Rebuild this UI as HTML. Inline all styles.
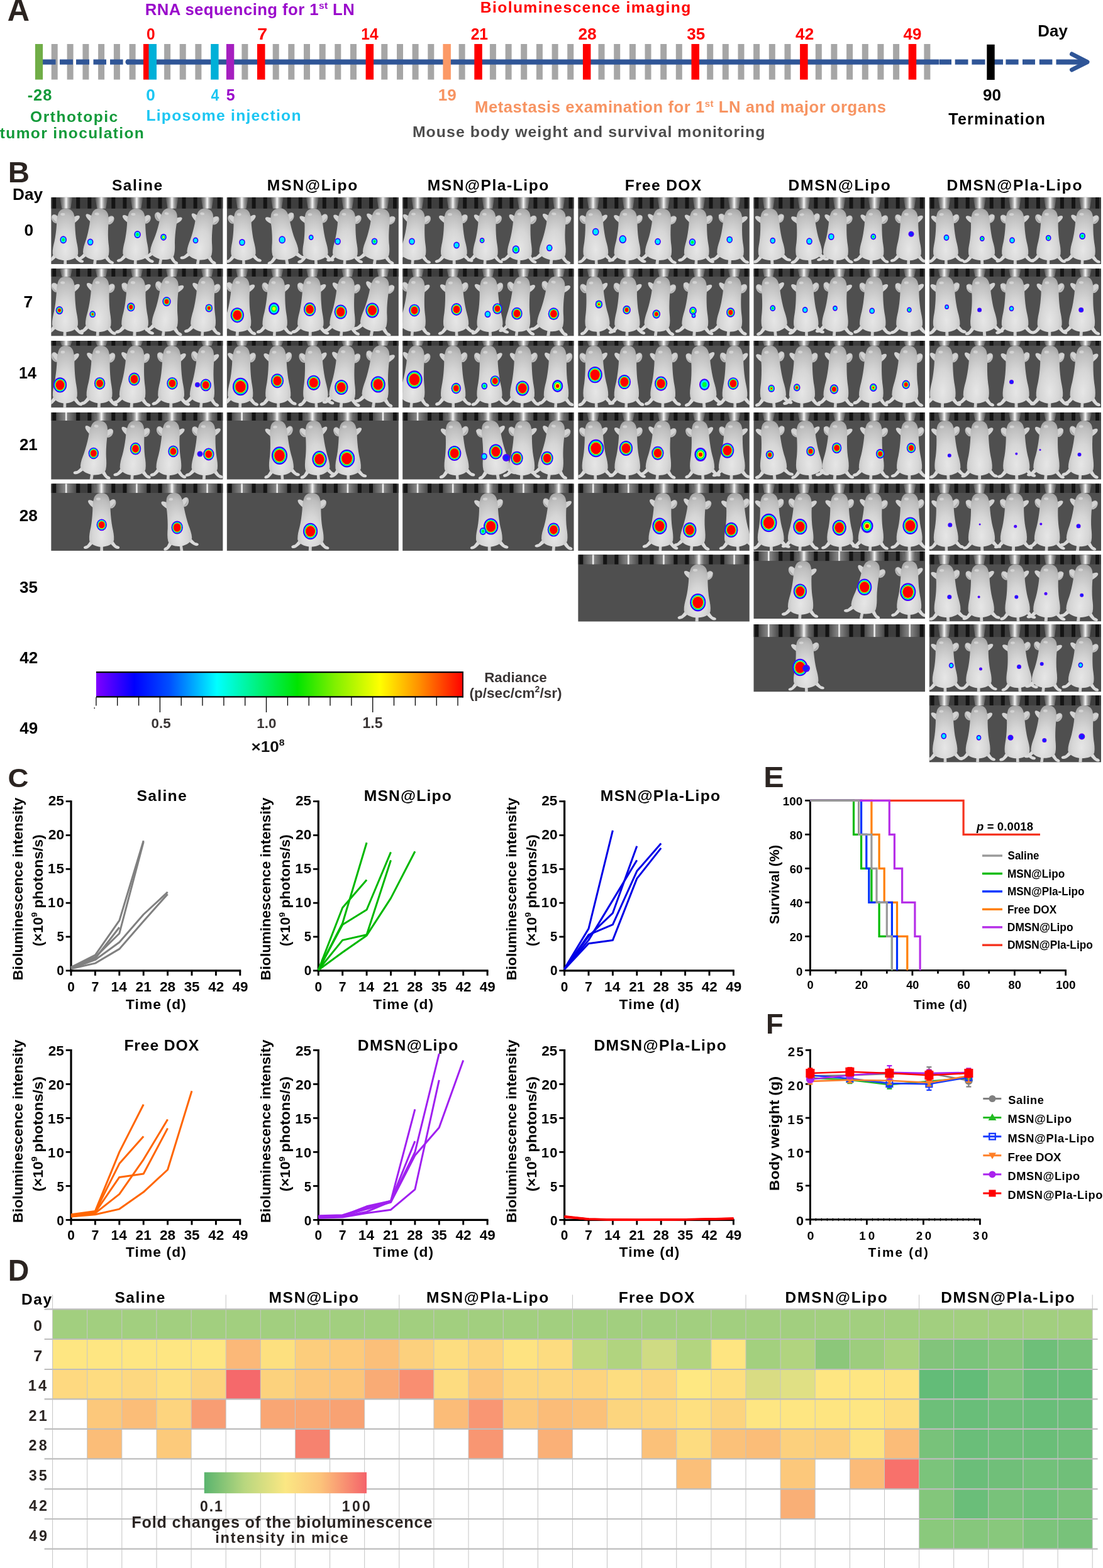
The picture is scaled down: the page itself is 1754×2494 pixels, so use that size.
<!DOCTYPE html>
<html><head><meta charset="utf-8"><title>Figure</title>
<style>
html,body{margin:0;padding:0;background:#fff;}
svg{display:block;}
text{font-family:'Liberation Sans', Arial, sans-serif;}
</style></head>
<body>
<svg width="1754" height="2494" viewBox="0 0 1754 2494">
<rect x="0" y="0" width="1754" height="2494" fill="#fff"/>
<text x="11.78" y="33.00" font-size="49.28" fill="#2b2421" font-weight="bold" textLength="35.31" lengthAdjust="spacingAndGlyphs">A</text>
<rect x="81.7" y="70.0" width="10.0" height="56.6" fill="#a6a6a6"/>
<rect x="106.6" y="70.0" width="10.0" height="56.6" fill="#a6a6a6"/>
<rect x="131.4" y="70.0" width="10.0" height="56.6" fill="#a6a6a6"/>
<rect x="156.1" y="70.0" width="10.0" height="56.6" fill="#a6a6a6"/>
<rect x="180.9" y="70.0" width="10.0" height="56.6" fill="#a6a6a6"/>
<rect x="205.6" y="70.0" width="10.0" height="56.6" fill="#a6a6a6"/>
<rect x="261.1" y="70.0" width="10.0" height="56.6" fill="#a6a6a6"/>
<rect x="285.7" y="70.0" width="10.0" height="56.6" fill="#a6a6a6"/>
<rect x="310.4" y="70.0" width="10.0" height="56.6" fill="#a6a6a6"/>
<rect x="384.4" y="70.0" width="10.0" height="56.6" fill="#a6a6a6"/>
<rect x="433.7" y="70.0" width="10.0" height="56.6" fill="#a6a6a6"/>
<rect x="458.3" y="70.0" width="10.0" height="56.6" fill="#a6a6a6"/>
<rect x="483.0" y="70.0" width="10.0" height="56.6" fill="#a6a6a6"/>
<rect x="507.7" y="70.0" width="10.0" height="56.6" fill="#a6a6a6"/>
<rect x="532.3" y="70.0" width="10.0" height="56.6" fill="#a6a6a6"/>
<rect x="557.0" y="70.0" width="10.0" height="56.6" fill="#a6a6a6"/>
<rect x="606.3" y="70.0" width="10.0" height="56.6" fill="#a6a6a6"/>
<rect x="631.0" y="70.0" width="10.0" height="56.6" fill="#a6a6a6"/>
<rect x="655.6" y="70.0" width="10.0" height="56.6" fill="#a6a6a6"/>
<rect x="680.3" y="70.0" width="10.0" height="56.6" fill="#a6a6a6"/>
<rect x="729.6" y="70.0" width="10.0" height="56.6" fill="#a6a6a6"/>
<rect x="778.9" y="70.0" width="10.0" height="56.6" fill="#a6a6a6"/>
<rect x="803.6" y="70.0" width="10.0" height="56.6" fill="#a6a6a6"/>
<rect x="828.2" y="70.0" width="10.0" height="56.6" fill="#a6a6a6"/>
<rect x="852.9" y="70.0" width="10.0" height="56.6" fill="#a6a6a6"/>
<rect x="877.6" y="70.0" width="10.0" height="56.6" fill="#a6a6a6"/>
<rect x="902.2" y="70.0" width="10.0" height="56.6" fill="#a6a6a6"/>
<rect x="951.5" y="70.0" width="10.0" height="56.6" fill="#a6a6a6"/>
<rect x="976.2" y="70.0" width="10.0" height="56.6" fill="#a6a6a6"/>
<rect x="1000.9" y="70.0" width="10.0" height="56.6" fill="#a6a6a6"/>
<rect x="1025.5" y="70.0" width="10.0" height="56.6" fill="#a6a6a6"/>
<rect x="1050.2" y="70.0" width="10.0" height="56.6" fill="#a6a6a6"/>
<rect x="1074.8" y="70.0" width="10.0" height="56.6" fill="#a6a6a6"/>
<rect x="1124.2" y="70.0" width="10.0" height="56.6" fill="#a6a6a6"/>
<rect x="1148.8" y="70.0" width="10.0" height="56.6" fill="#a6a6a6"/>
<rect x="1173.5" y="70.0" width="10.0" height="56.6" fill="#a6a6a6"/>
<rect x="1198.1" y="70.0" width="10.0" height="56.6" fill="#a6a6a6"/>
<rect x="1222.8" y="70.0" width="10.0" height="56.6" fill="#a6a6a6"/>
<rect x="1247.5" y="70.0" width="10.0" height="56.6" fill="#a6a6a6"/>
<rect x="1296.8" y="70.0" width="10.0" height="56.6" fill="#a6a6a6"/>
<rect x="1321.4" y="70.0" width="10.0" height="56.6" fill="#a6a6a6"/>
<rect x="1346.1" y="70.0" width="10.0" height="56.6" fill="#a6a6a6"/>
<rect x="1370.8" y="70.0" width="10.0" height="56.6" fill="#a6a6a6"/>
<rect x="1395.4" y="70.0" width="10.0" height="56.6" fill="#a6a6a6"/>
<rect x="1420.1" y="70.0" width="10.0" height="56.6" fill="#a6a6a6"/>
<rect x="1469.4" y="70.0" width="10.0" height="56.6" fill="#a6a6a6"/>
<rect x="68.0" y="94.5" width="20.5" height="8.2" fill="#2f5597"/>
<rect x="95.0" y="94.5" width="21.0" height="8.2" fill="#2f5597"/>
<rect x="121.0" y="94.5" width="21.0" height="8.2" fill="#2f5597"/>
<rect x="148.5" y="94.5" width="20.5" height="8.2" fill="#2f5597"/>
<rect x="175.0" y="94.5" width="20.6" height="8.2" fill="#2f5597"/>
<rect x="201.6" y="94.5" width="1291.8" height="8.2" fill="#2f5597"/>
<circle cx="203.6" cy="98.6" r="4.1" fill="#2f5597"/>
<rect x="1494.0" y="94.5" width="19.0" height="8.2" fill="#2f5597"/>
<rect x="1518.7" y="94.5" width="20.8" height="8.2" fill="#2f5597"/>
<rect x="1545.4" y="94.5" width="21.1" height="8.2" fill="#2f5597"/>
<rect x="1581.0" y="94.5" width="14.0" height="8.2" fill="#2f5597"/>
<rect x="1599.4" y="94.5" width="20.2" height="8.2" fill="#2f5597"/>
<rect x="1626.0" y="94.5" width="20.0" height="8.2" fill="#2f5597"/>
<rect x="1652.8" y="94.5" width="20.6" height="8.2" fill="#2f5597"/>
<rect x="1679.5" y="94.5" width="19.7" height="8.2" fill="#2f5597"/>
<rect x="1699.0" y="94.5" width="26.0" height="8.2" fill="#2f5597"/>
<path d="M1704.5,86 L1729,98.6 L1704.5,111" fill="none" stroke="#2f5597" stroke-width="7" stroke-linecap="round" stroke-linejoin="round"/>
<rect x="55.9" y="70.0" width="12.2" height="56.6" fill="#70ad47"/>
<rect x="228.0" y="70.0" width="9.0" height="56.6" fill="#ff0000"/>
<rect x="236.5" y="70.0" width="12.5" height="56.6" fill="#00b0d8"/>
<rect x="335.2" y="70.0" width="12.4" height="56.6" fill="#00b0d8"/>
<rect x="359.9" y="70.0" width="12.4" height="56.6" fill="#a51fbf"/>
<rect x="409.0" y="70.0" width="12.5" height="56.6" fill="#ff0000"/>
<rect x="581.6" y="70.0" width="12.5" height="56.6" fill="#ff0000"/>
<rect x="754.3" y="70.0" width="12.5" height="56.6" fill="#ff0000"/>
<rect x="926.9" y="70.0" width="12.5" height="56.6" fill="#ff0000"/>
<rect x="1099.5" y="70.0" width="12.5" height="56.6" fill="#ff0000"/>
<rect x="1272.1" y="70.0" width="12.5" height="56.6" fill="#ff0000"/>
<rect x="1444.7" y="70.0" width="12.5" height="56.6" fill="#ff0000"/>
<rect x="704.4" y="70.0" width="12.5" height="56.6" fill="#fc9966"/>
<rect x="1569.3" y="70.8" width="12.4" height="56.2" fill="#000"/>
<text x="230.8" y="23.8" font-size="25.7" fill="#9a0acb" font-weight="bold" textLength="333" lengthAdjust="spacing">RNA sequencing for 1<tspan font-size="15.5" dy="-9.5">st</tspan><tspan dy="9.5"> LN</tspan></text>
<text x="763.80" y="19.90" font-size="24.69" fill="#ff0000" font-weight="bold" textLength="334.55" lengthAdjust="spacing">Bioluminescence imaging</text>
<text x="233.04" y="63.00" font-size="25.86" fill="#ff0000" font-weight="bold" textLength="13.65" lengthAdjust="spacingAndGlyphs">0</text>
<text x="409.25" y="63.00" font-size="26.23" fill="#ff0000" font-weight="bold" textLength="15.92" lengthAdjust="spacingAndGlyphs">7</text>
<text x="574.22" y="63.00" font-size="26.23" fill="#ff0000" font-weight="bold" textLength="27.44" lengthAdjust="spacingAndGlyphs">14</text>
<text x="748.66" y="63.00" font-size="25.86" fill="#ff0000" font-weight="bold" textLength="27.41" lengthAdjust="spacingAndGlyphs">21</text>
<text x="919.51" y="63.00" font-size="25.86" fill="#ff0000" font-weight="bold" textLength="29.21" lengthAdjust="spacingAndGlyphs">28</text>
<text x="1092.28" y="63.00" font-size="25.86" fill="#ff0000" font-weight="bold" textLength="28.93" lengthAdjust="spacingAndGlyphs">35</text>
<text x="1265.11" y="63.00" font-size="25.86" fill="#ff0000" font-weight="bold" textLength="29.07" lengthAdjust="spacingAndGlyphs">42</text>
<text x="1436.61" y="63.00" font-size="25.86" fill="#ff0000" font-weight="bold" textLength="28.86" lengthAdjust="spacingAndGlyphs">49</text>
<text x="1650.32" y="58.20" font-size="25.51" fill="#000" font-weight="bold" textLength="47.47" lengthAdjust="spacingAndGlyphs">Day</text>
<text x="43.71" y="160.20" font-size="25.43" fill="#139a3a" font-weight="bold" textLength="38.64" lengthAdjust="spacing">-28</text>
<text x="232.38" y="160.20" font-size="25.43" fill="#1cc6f2" font-weight="bold" textLength="14.56" lengthAdjust="spacingAndGlyphs">0</text>
<text x="335.45" y="160.20" font-size="25.80" fill="#1cc6f2" font-weight="bold" textLength="12.87" lengthAdjust="spacingAndGlyphs">4</text>
<text x="359.75" y="160.20" font-size="25.80" fill="#9a0acb" font-weight="bold" textLength="13.90" lengthAdjust="spacingAndGlyphs">5</text>
<text x="696.83" y="160.10" font-size="25.57" fill="#f79462" font-weight="bold" textLength="29.04" lengthAdjust="spacingAndGlyphs">19</text>
<text x="1562.92" y="160.00" font-size="25.57" fill="#000" font-weight="bold" textLength="28.95" lengthAdjust="spacingAndGlyphs">90</text>
<text x="48.02" y="194.40" font-size="24.55" fill="#139a3a" font-weight="bold" textLength="139.21" lengthAdjust="spacing">Orthotopic</text>
<text x="-0.25" y="219.70" font-size="24.55" fill="#139a3a" font-weight="bold" textLength="228.99" lengthAdjust="spacing">tumor inoculation</text>
<text x="232.40" y="191.80" font-size="24.69" fill="#1cc6f2" font-weight="bold" textLength="246.13" lengthAdjust="spacing">Liposome injection</text>
<text x="755" y="179.2" font-size="25.6" fill="#f79462" font-weight="bold" textLength="654" lengthAdjust="spacing">Metastasis examination for 1<tspan font-size="15" dy="-9.5">st</tspan><tspan dy="9.5"> LN and major organs</tspan></text>
<text x="655.89" y="217.80" font-size="24.83" fill="#4d4d4d" font-weight="bold" textLength="560.55" lengthAdjust="spacing">Mouse body weight and survival monitoring</text>
<text x="1508.35" y="197.50" font-size="25.10" fill="#000" font-weight="bold" textLength="153.42" lengthAdjust="spacing">Termination</text>
<text x="12.71" y="289.60" font-size="46.23" fill="#2b2421" font-weight="bold" textLength="34.29" lengthAdjust="spacingAndGlyphs">B</text>
<defs>
<radialGradient id="mb" cx="0.5" cy="0.55" r="0.6"><stop offset="0" stop-color="#e2e2e2"/><stop offset="0.7" stop-color="#d0d0d0"/><stop offset="1" stop-color="#a8a8a8"/></radialGradient>
<linearGradient id="cone" x1="0" y1="0" x2="1" y2="0"><stop offset="0" stop-color="#505050"/><stop offset="0.3" stop-color="#9a9a9a"/><stop offset="0.45" stop-color="#dcdcdc"/><stop offset="0.5" stop-color="#f8f8f8"/><stop offset="0.55" stop-color="#dcdcdc"/><stop offset="0.7" stop-color="#9a9a9a"/><stop offset="1" stop-color="#505050"/></linearGradient>
<linearGradient id="cyl" x1="0" y1="0" x2="1" y2="0"><stop offset="0" stop-color="#4a4a4a"/><stop offset="0.25" stop-color="#6e6e6e"/><stop offset="0.5" stop-color="#8c8c8c"/><stop offset="0.75" stop-color="#6a6a6a"/><stop offset="1" stop-color="#484848"/></linearGradient>
<radialGradient id="mb2" cx="0.5" cy="0.74" r="0.78" fx="0.5" fy="0.8"><stop offset="0" stop-color="#e6e6e6"/><stop offset="0.45" stop-color="#d6d6d6"/><stop offset="0.8" stop-color="#bdbdbd"/><stop offset="1" stop-color="#9e9e9e"/></radialGradient>
<g id="ms"><path d="M-2.2,94 L-2.4,109 L2.4,109 L2.2,94 Z" fill="#d2d2d2"/><path d="M-15,84 C-18,90 -21,95 -24,98 C-28,99 -31,101 -28,103.5 C-24,104.5 -21,102 -18,99 C-14,95 -12,92 -10,90 Z" fill="#dadada"/><path d="M15,84 C18,90 21,95 24,98 C28,99 31,101 28,103.5 C24,104.5 21,102 18,99 C14,95 12,92 10,90 Z" fill="#dadada"/><path d="M-11,26 C-15,24 -19,21 -21.5,23.5 C-23,27 -18,32 -13,36 Z" fill="#d2d2d2"/><path d="M11,26 C15,24 19,21 21.5,23.5 C23,27 18,32 13,36 Z" fill="#d2d2d2"/><path d="M0,11 C6,11 10,14 12,19 C14,25 14.5,32 14.5,40 C15,50 16,60 17.5,68 C19,75 20.5,82 20,89 C18.5,96 10,100 0,100.5 C-10,100 -18.5,96 -20,89 C-20.5,82 -19,75 -17.5,68 C-16,60 -15,50 -14.5,40 C-14.5,32 -14,25 -12,19 C-10,14 -6,11 0,11 Z" fill="url(#mb2)"/><ellipse cx="-5" cy="21" rx="3.5" ry="2.2" fill="#dadada" opacity="0.8"/></g>
<g id="ear"><ellipse cx="0" cy="0" rx="5.5" ry="8" fill="#bdbdbd"/><ellipse cx="-0.5" cy="0.5" rx="3.5" ry="6" fill="#a9a9a9"/></g>
</defs>
<text x="177.88" y="302.90" font-size="24.60" fill="#000" font-weight="bold" textLength="80.37" lengthAdjust="spacing">Saline</text>
<text x="424.80" y="302.90" font-size="24.60" fill="#000" font-weight="bold" textLength="143.53" lengthAdjust="spacing">MSN@Lipo</text>
<text x="679.70" y="302.90" font-size="24.60" fill="#000" font-weight="bold" textLength="192.60" lengthAdjust="spacing">MSN@Pla-Lipo</text>
<text x="993.80" y="302.90" font-size="24.60" fill="#000" font-weight="bold" textLength="121.28" lengthAdjust="spacing">Free DOX</text>
<text x="1253.40" y="302.90" font-size="24.60" fill="#000" font-weight="bold" textLength="162.26" lengthAdjust="spacing">DMSN@Lipo</text>
<text x="1505.60" y="302.90" font-size="24.60" fill="#000" font-weight="bold" textLength="214.84" lengthAdjust="spacing">DMSN@Pla-Lipo</text>
<text x="20.00" y="317.70" font-size="25.36" fill="#000" font-weight="bold" textLength="48.09" lengthAdjust="spacingAndGlyphs">Day</text>
<text x="38.58" y="375.00" font-size="25.57" fill="#000" font-weight="bold" textLength="14.68" lengthAdjust="spacingAndGlyphs">0</text>
<text x="37.44" y="489.00" font-size="25.94" fill="#000" font-weight="bold" textLength="14.75" lengthAdjust="spacingAndGlyphs">7</text>
<text x="30.09" y="602.40" font-size="25.94" fill="#000" font-weight="bold" textLength="27.97" lengthAdjust="spacingAndGlyphs">14</text>
<text x="31.03" y="716.10" font-size="25.57" fill="#000" font-weight="bold" textLength="28.68" lengthAdjust="spacingAndGlyphs">21</text>
<text x="30.82" y="829.40" font-size="25.57" fill="#000" font-weight="bold" textLength="29.10" lengthAdjust="spacingAndGlyphs">28</text>
<text x="31.08" y="942.90" font-size="25.57" fill="#000" font-weight="bold" textLength="28.93" lengthAdjust="spacingAndGlyphs">35</text>
<text x="31.21" y="1055.10" font-size="25.57" fill="#000" font-weight="bold" textLength="28.96" lengthAdjust="spacingAndGlyphs">42</text>
<text x="31.21" y="1167.30" font-size="25.57" fill="#000" font-weight="bold" textLength="28.96" lengthAdjust="spacingAndGlyphs">49</text>
<clipPath id="cp1_0"><rect x="81.2" y="313.7" width="273.4" height="106.5"/></clipPath>
<g clip-path="url(#cp1_0)">
<rect x="81.2" y="313.7" width="273.4" height="106.5" fill="#4f4f4f"/>
<rect x="81.2" y="313.7" width="273.4" height="18.0" fill="#3e3e3e"/>
<rect x="83.2" y="313.7" width="6.0" height="18.0" fill="#141414"/>
<rect x="121.2" y="313.7" width="6.0" height="18.0" fill="#141414"/>
<rect x="139.3" y="313.7" width="6.0" height="18.0" fill="#141414"/>
<rect x="177.3" y="313.7" width="6.0" height="18.0" fill="#141414"/>
<rect x="195.4" y="313.7" width="6.0" height="18.0" fill="#141414"/>
<rect x="233.4" y="313.7" width="6.0" height="18.0" fill="#141414"/>
<rect x="251.5" y="313.7" width="6.0" height="18.0" fill="#141414"/>
<rect x="289.5" y="313.7" width="6.0" height="18.0" fill="#141414"/>
<rect x="307.6" y="313.7" width="6.0" height="18.0" fill="#141414"/>
<rect x="345.6" y="313.7" width="6.0" height="18.0" fill="#141414"/>
<path d="M95.2,313.7 L115.2,313.7 L112.2,331.7 L98.2,331.7 Z" fill="url(#cone)"/>
<g transform="translate(105.2,321.6) rotate(0.9) scale(1,0.923)"><use href="#ear" transform="translate(-17.0,29) rotate(-25)"/><use href="#ms" transform="scale(1.01,1)"/></g>
<path d="M151.3,313.7 L171.3,313.7 L168.3,331.7 L154.3,331.7 Z" fill="url(#cone)"/>
<g transform="translate(161.3,321.6) rotate(6.2) scale(1,0.923)"><use href="#ear" transform="translate(17.0,29) rotate(25)"/><use href="#ms" transform="scale(1.03,1)"/></g>
<path d="M207.4,313.7 L227.4,313.7 L224.4,331.7 L210.4,331.7 Z" fill="url(#cone)"/>
<g transform="translate(217.4,321.6) rotate(1.3) scale(1,0.923)"><use href="#ear" transform="translate(17.0,29) rotate(25)"/><use href="#ms" transform="scale(1.01,1)"/></g>
<path d="M263.5,313.7 L283.5,313.7 L280.5,331.7 L266.5,331.7 Z" fill="url(#cone)"/>
<g transform="translate(273.5,321.6) rotate(11.0) scale(1,0.923)"><use href="#ear" transform="translate(-17.0,29) rotate(-25)"/><use href="#ms" transform="scale(0.96,1)"/></g>
<path d="M319.6,313.7 L339.6,313.7 L336.6,331.7 L322.6,331.7 Z" fill="url(#cone)"/>
<g transform="translate(329.6,321.6) rotate(8.9) scale(1,0.923)"><use href="#ear" transform="translate(17.0,29) rotate(25)"/><use href="#ms" transform="scale(0.99,1)"/></g>
<ellipse cx="100.7" cy="381.4" rx="5.33" ry="6.05" fill="#5a00ff"/>
<ellipse cx="100.7" cy="381.4" rx="4.56" ry="5.17" fill="#0010ff"/>
<ellipse cx="100.7" cy="381.4" rx="3.78" ry="4.29" fill="#00e8ff"/>
<ellipse cx="100.7" cy="381.4" rx="2.14" ry="2.42" fill="#00ff30"/>
<ellipse cx="143.6" cy="385.0" rx="4.85" ry="5.50" fill="#5a00ff"/>
<ellipse cx="143.6" cy="385.0" rx="4.07" ry="4.62" fill="#0010ff"/>
<ellipse cx="143.6" cy="385.0" rx="3.30" ry="3.74" fill="#00e8ff"/>
<ellipse cx="218.6" cy="373.0" rx="5.33" ry="6.05" fill="#5a00ff"/>
<ellipse cx="218.6" cy="373.0" rx="4.56" ry="5.17" fill="#0010ff"/>
<ellipse cx="218.6" cy="373.0" rx="3.78" ry="4.29" fill="#00e8ff"/>
<ellipse cx="218.6" cy="373.0" rx="2.14" ry="2.42" fill="#00ff30"/>
<ellipse cx="260.0" cy="377.2" rx="4.85" ry="5.50" fill="#5a00ff"/>
<ellipse cx="260.0" cy="377.2" rx="4.07" ry="4.62" fill="#0010ff"/>
<ellipse cx="260.0" cy="377.2" rx="3.30" ry="3.74" fill="#00e8ff"/>
<ellipse cx="260.0" cy="377.2" rx="2.30" ry="2.61" fill="#00ff30"/>
<ellipse cx="260.0" cy="377.2" rx="1.30" ry="1.47" fill="#fff000"/>
<ellipse cx="311.0" cy="382.4" rx="4.37" ry="4.95" fill="#5a00ff"/>
<ellipse cx="311.0" cy="382.4" rx="3.59" ry="4.07" fill="#0010ff"/>
<ellipse cx="311.0" cy="382.4" rx="2.81" ry="3.19" fill="#00e8ff"/>
</g>
<clipPath id="cp2_0"><rect x="360.6" y="313.7" width="273.3" height="106.5"/></clipPath>
<g clip-path="url(#cp2_0)">
<rect x="360.6" y="313.7" width="273.3" height="106.5" fill="#4f4f4f"/>
<rect x="360.6" y="313.7" width="273.3" height="18.0" fill="#3e3e3e"/>
<rect x="362.6" y="313.7" width="6.0" height="18.0" fill="#141414"/>
<rect x="400.6" y="313.7" width="6.0" height="18.0" fill="#141414"/>
<rect x="418.7" y="313.7" width="6.0" height="18.0" fill="#141414"/>
<rect x="456.7" y="313.7" width="6.0" height="18.0" fill="#141414"/>
<rect x="474.8" y="313.7" width="6.0" height="18.0" fill="#141414"/>
<rect x="512.8" y="313.7" width="6.0" height="18.0" fill="#141414"/>
<rect x="530.9" y="313.7" width="6.0" height="18.0" fill="#141414"/>
<rect x="568.9" y="313.7" width="6.0" height="18.0" fill="#141414"/>
<rect x="587.0" y="313.7" width="6.0" height="18.0" fill="#141414"/>
<rect x="625.0" y="313.7" width="6.0" height="18.0" fill="#141414"/>
<path d="M374.6,313.7 L394.6,313.7 L391.6,331.7 L377.6,331.7 Z" fill="url(#cone)"/>
<g transform="translate(384.6,321.6) rotate(-1.7) scale(1,0.923)"><use href="#ear" transform="translate(-17.0,29) rotate(-25)"/><use href="#ms" transform="scale(0.98,1)"/></g>
<path d="M430.7,313.7 L450.7,313.7 L447.7,331.7 L433.7,331.7 Z" fill="url(#cone)"/>
<g transform="translate(440.7,321.6) rotate(-9.3) scale(1,0.923)"><use href="#ear" transform="translate(17.0,29) rotate(25)"/><use href="#ms" transform="scale(1.05,1)"/></g>
<path d="M486.8,313.7 L506.8,313.7 L503.8,331.7 L489.8,331.7 Z" fill="url(#cone)"/>
<g transform="translate(496.8,321.6) rotate(-3.4) scale(1,0.923)"><use href="#ear" transform="translate(17.0,29) rotate(25)"/><use href="#ms" transform="scale(1.00,1)"/></g>
<path d="M542.9,313.7 L562.9,313.7 L559.9,331.7 L545.9,331.7 Z" fill="url(#cone)"/>
<g transform="translate(552.9,321.6) rotate(2.9) scale(1,0.923)"><use href="#ear" transform="translate(17.0,29) rotate(25)"/><use href="#ms" transform="scale(0.99,1)"/></g>
<path d="M599.0,313.7 L619.0,313.7 L616.0,331.7 L602.0,331.7 Z" fill="url(#cone)"/>
<g transform="translate(609.0,321.6) rotate(7.9) scale(1,0.923)"><use href="#ear" transform="translate(17.0,29) rotate(25)"/><use href="#ms" transform="scale(1.05,1)"/></g>
<ellipse cx="385.0" cy="385.5" rx="4.85" ry="5.50" fill="#5a00ff"/>
<ellipse cx="385.0" cy="385.5" rx="4.07" ry="4.62" fill="#0010ff"/>
<ellipse cx="385.0" cy="385.5" rx="3.30" ry="3.74" fill="#00e8ff"/>
<ellipse cx="448.7" cy="381.4" rx="5.33" ry="6.05" fill="#5a00ff"/>
<ellipse cx="448.7" cy="381.4" rx="4.56" ry="5.17" fill="#0010ff"/>
<ellipse cx="448.7" cy="381.4" rx="3.78" ry="4.29" fill="#00e8ff"/>
<ellipse cx="494.7" cy="377.7" rx="3.88" ry="4.40" fill="#5a00ff"/>
<ellipse cx="494.7" cy="377.7" rx="3.10" ry="3.52" fill="#0010ff"/>
<ellipse cx="494.7" cy="377.7" rx="2.33" ry="2.64" fill="#00e8ff"/>
<ellipse cx="537.0" cy="384.0" rx="4.85" ry="5.50" fill="#5a00ff"/>
<ellipse cx="537.0" cy="384.0" rx="4.07" ry="4.62" fill="#0010ff"/>
<ellipse cx="537.0" cy="384.0" rx="3.30" ry="3.74" fill="#00e8ff"/>
<ellipse cx="595.5" cy="384.0" rx="4.85" ry="5.50" fill="#5a00ff"/>
<ellipse cx="595.5" cy="384.0" rx="4.07" ry="4.62" fill="#0010ff"/>
<ellipse cx="595.5" cy="384.0" rx="3.30" ry="3.74" fill="#00e8ff"/>
<ellipse cx="595.5" cy="384.0" rx="1.86" ry="2.11" fill="#00ff30"/>
</g>
<clipPath id="cp3_0"><rect x="640.1" y="313.7" width="272.6" height="106.5"/></clipPath>
<g clip-path="url(#cp3_0)">
<rect x="640.1" y="313.7" width="272.6" height="106.5" fill="#4f4f4f"/>
<rect x="640.1" y="313.7" width="272.6" height="18.0" fill="#3e3e3e"/>
<rect x="642.1" y="313.7" width="6.0" height="18.0" fill="#141414"/>
<rect x="680.1" y="313.7" width="6.0" height="18.0" fill="#141414"/>
<rect x="698.2" y="313.7" width="6.0" height="18.0" fill="#141414"/>
<rect x="736.2" y="313.7" width="6.0" height="18.0" fill="#141414"/>
<rect x="754.3" y="313.7" width="6.0" height="18.0" fill="#141414"/>
<rect x="792.3" y="313.7" width="6.0" height="18.0" fill="#141414"/>
<rect x="810.4" y="313.7" width="6.0" height="18.0" fill="#141414"/>
<rect x="848.4" y="313.7" width="6.0" height="18.0" fill="#141414"/>
<rect x="866.5" y="313.7" width="6.0" height="18.0" fill="#141414"/>
<rect x="904.5" y="313.7" width="6.0" height="18.0" fill="#141414"/>
<path d="M654.1,313.7 L674.1,313.7 L671.1,331.7 L657.1,331.7 Z" fill="url(#cone)"/>
<g transform="translate(664.1,321.6) rotate(4.8) scale(1,0.923)"><use href="#ear" transform="translate(17.0,29) rotate(25)"/><use href="#ms" transform="scale(0.99,1)"/></g>
<path d="M710.2,313.7 L730.2,313.7 L727.2,331.7 L713.2,331.7 Z" fill="url(#cone)"/>
<g transform="translate(720.2,321.6) rotate(-1.2) scale(1,0.923)"><use href="#ear" transform="translate(17.0,29) rotate(25)"/><use href="#ms" transform="scale(1.04,1)"/></g>
<path d="M766.3,313.7 L786.3,313.7 L783.3,331.7 L769.3,331.7 Z" fill="url(#cone)"/>
<g transform="translate(776.3,321.6) rotate(3.1) scale(1,0.923)"><use href="#ear" transform="translate(17.0,29) rotate(25)"/><use href="#ms" transform="scale(0.98,1)"/></g>
<path d="M822.4,313.7 L842.4,313.7 L839.4,331.7 L825.4,331.7 Z" fill="url(#cone)"/>
<g transform="translate(832.4,321.6) rotate(4.4) scale(1,0.923)"><use href="#ear" transform="translate(17.0,29) rotate(25)"/><use href="#ms" transform="scale(0.97,1)"/></g>
<path d="M878.5,313.7 L898.5,313.7 L895.5,331.7 L881.5,331.7 Z" fill="url(#cone)"/>
<g transform="translate(888.5,321.6) rotate(7.2) scale(1,0.923)"><use href="#ear" transform="translate(17.0,29) rotate(25)"/><use href="#ms" transform="scale(1.05,1)"/></g>
<ellipse cx="655.0" cy="384.0" rx="4.85" ry="5.50" fill="#5a00ff"/>
<ellipse cx="655.0" cy="384.0" rx="4.07" ry="4.62" fill="#0010ff"/>
<ellipse cx="655.0" cy="384.0" rx="3.30" ry="3.74" fill="#00e8ff"/>
<ellipse cx="726.0" cy="390.0" rx="4.85" ry="5.50" fill="#5a00ff"/>
<ellipse cx="726.0" cy="390.0" rx="4.07" ry="4.62" fill="#0010ff"/>
<ellipse cx="726.0" cy="390.0" rx="3.30" ry="3.74" fill="#00e8ff"/>
<ellipse cx="766.6" cy="382.4" rx="3.88" ry="4.40" fill="#5a00ff"/>
<ellipse cx="766.6" cy="382.4" rx="3.10" ry="3.52" fill="#0010ff"/>
<ellipse cx="766.6" cy="382.4" rx="2.33" ry="2.64" fill="#00e8ff"/>
<ellipse cx="766.6" cy="382.4" rx="1.32" ry="1.49" fill="#00ff30"/>
<ellipse cx="820.4" cy="396.9" rx="5.82" ry="6.60" fill="#5a00ff"/>
<ellipse cx="820.4" cy="396.9" rx="5.04" ry="5.72" fill="#0010ff"/>
<ellipse cx="820.4" cy="396.9" rx="4.27" ry="4.84" fill="#00e8ff"/>
<ellipse cx="820.4" cy="396.9" rx="2.41" ry="2.74" fill="#00ff30"/>
<ellipse cx="873.7" cy="394.3" rx="4.85" ry="5.50" fill="#5a00ff"/>
<ellipse cx="873.7" cy="394.3" rx="4.07" ry="4.62" fill="#0010ff"/>
<ellipse cx="873.7" cy="394.3" rx="3.30" ry="3.74" fill="#00e8ff"/>
</g>
<clipPath id="cp4_0"><rect x="919.2" y="313.7" width="272.7" height="106.5"/></clipPath>
<g clip-path="url(#cp4_0)">
<rect x="919.2" y="313.7" width="272.7" height="106.5" fill="#4f4f4f"/>
<rect x="919.2" y="313.7" width="272.7" height="18.0" fill="#3e3e3e"/>
<rect x="921.2" y="313.7" width="6.0" height="18.0" fill="#141414"/>
<rect x="959.2" y="313.7" width="6.0" height="18.0" fill="#141414"/>
<rect x="977.3" y="313.7" width="6.0" height="18.0" fill="#141414"/>
<rect x="1015.3" y="313.7" width="6.0" height="18.0" fill="#141414"/>
<rect x="1033.4" y="313.7" width="6.0" height="18.0" fill="#141414"/>
<rect x="1071.4" y="313.7" width="6.0" height="18.0" fill="#141414"/>
<rect x="1089.5" y="313.7" width="6.0" height="18.0" fill="#141414"/>
<rect x="1127.5" y="313.7" width="6.0" height="18.0" fill="#141414"/>
<rect x="1145.6" y="313.7" width="6.0" height="18.0" fill="#141414"/>
<rect x="1183.6" y="313.7" width="6.0" height="18.0" fill="#141414"/>
<path d="M933.2,313.7 L953.2,313.7 L950.2,331.7 L936.2,331.7 Z" fill="url(#cone)"/>
<g transform="translate(943.2,321.6) rotate(-3.0) scale(1,0.923)"><use href="#ear" transform="translate(-17.0,29) rotate(-25)"/><use href="#ms" transform="scale(0.99,1)"/></g>
<path d="M989.3,313.7 L1009.3,313.7 L1006.3,331.7 L992.3,331.7 Z" fill="url(#cone)"/>
<g transform="translate(999.3,321.6) rotate(1.3) scale(1,0.923)"><use href="#ear" transform="translate(17.0,29) rotate(25)"/><use href="#ms" transform="scale(1.04,1)"/></g>
<path d="M1045.4,313.7 L1065.4,313.7 L1062.4,331.7 L1048.4,331.7 Z" fill="url(#cone)"/>
<g transform="translate(1055.4,321.6) rotate(6.1) scale(1,0.923)"><use href="#ear" transform="translate(17.0,29) rotate(25)"/><use href="#ms" transform="scale(1.05,1)"/></g>
<path d="M1101.5,313.7 L1121.5,313.7 L1118.5,331.7 L1104.5,331.7 Z" fill="url(#cone)"/>
<g transform="translate(1111.5,321.6) rotate(2.7) scale(1,0.923)"><use href="#ear" transform="translate(17.0,29) rotate(25)"/><use href="#ms" transform="scale(0.99,1)"/></g>
<path d="M1157.6,313.7 L1177.6,313.7 L1174.6,331.7 L1160.6,331.7 Z" fill="url(#cone)"/>
<g transform="translate(1167.6,321.6) rotate(4.4) scale(1,0.923)"><use href="#ear" transform="translate(-17.0,29) rotate(-25)"/><use href="#ms" transform="scale(1.06,1)"/></g>
<ellipse cx="947.2" cy="368.7" rx="5.33" ry="6.05" fill="#5a00ff"/>
<ellipse cx="947.2" cy="368.7" rx="4.56" ry="5.17" fill="#0010ff"/>
<ellipse cx="947.2" cy="368.7" rx="3.78" ry="4.29" fill="#00e8ff"/>
<ellipse cx="990.3" cy="380.6" rx="5.82" ry="6.60" fill="#5a00ff"/>
<ellipse cx="990.3" cy="380.6" rx="5.04" ry="5.72" fill="#0010ff"/>
<ellipse cx="990.3" cy="380.6" rx="4.27" ry="4.84" fill="#00e8ff"/>
<ellipse cx="1046.0" cy="384.3" rx="4.85" ry="5.50" fill="#5a00ff"/>
<ellipse cx="1046.0" cy="384.3" rx="4.07" ry="4.62" fill="#0010ff"/>
<ellipse cx="1046.0" cy="384.3" rx="3.30" ry="3.74" fill="#00e8ff"/>
<ellipse cx="1101.0" cy="385.3" rx="5.33" ry="6.05" fill="#5a00ff"/>
<ellipse cx="1101.0" cy="385.3" rx="4.56" ry="5.17" fill="#0010ff"/>
<ellipse cx="1101.0" cy="385.3" rx="3.78" ry="4.29" fill="#00e8ff"/>
<ellipse cx="1101.0" cy="385.3" rx="2.14" ry="2.42" fill="#00ff30"/>
<ellipse cx="1160.2" cy="381.2" rx="4.85" ry="5.50" fill="#5a00ff"/>
<ellipse cx="1160.2" cy="381.2" rx="4.07" ry="4.62" fill="#0010ff"/>
<ellipse cx="1160.2" cy="381.2" rx="3.30" ry="3.74" fill="#00e8ff"/>
</g>
<clipPath id="cp5_0"><rect x="1198.3" y="313.7" width="272.7" height="106.5"/></clipPath>
<g clip-path="url(#cp5_0)">
<rect x="1198.3" y="313.7" width="272.7" height="106.5" fill="#4f4f4f"/>
<rect x="1198.3" y="313.7" width="272.7" height="18.0" fill="#3e3e3e"/>
<rect x="1200.3" y="313.7" width="6.0" height="18.0" fill="#141414"/>
<rect x="1238.3" y="313.7" width="6.0" height="18.0" fill="#141414"/>
<rect x="1256.4" y="313.7" width="6.0" height="18.0" fill="#141414"/>
<rect x="1294.4" y="313.7" width="6.0" height="18.0" fill="#141414"/>
<rect x="1312.5" y="313.7" width="6.0" height="18.0" fill="#141414"/>
<rect x="1350.5" y="313.7" width="6.0" height="18.0" fill="#141414"/>
<rect x="1368.6" y="313.7" width="6.0" height="18.0" fill="#141414"/>
<rect x="1406.6" y="313.7" width="6.0" height="18.0" fill="#141414"/>
<rect x="1424.7" y="313.7" width="6.0" height="18.0" fill="#141414"/>
<rect x="1462.7" y="313.7" width="6.0" height="18.0" fill="#141414"/>
<path d="M1212.3,313.7 L1232.3,313.7 L1229.3,331.7 L1215.3,331.7 Z" fill="url(#cone)"/>
<g transform="translate(1222.3,321.6) rotate(-3.3) scale(1,0.923)"><use href="#ear" transform="translate(17.0,29) rotate(25)"/><use href="#ms" transform="scale(1.05,1)"/></g>
<path d="M1268.4,313.7 L1288.4,313.7 L1285.4,331.7 L1271.4,331.7 Z" fill="url(#cone)"/>
<g transform="translate(1278.4,321.6) rotate(-5.7) scale(1,0.923)"><use href="#ear" transform="translate(17.0,29) rotate(25)"/><use href="#ms" transform="scale(1.04,1)"/></g>
<path d="M1324.5,313.7 L1344.5,313.7 L1341.5,331.7 L1327.5,331.7 Z" fill="url(#cone)"/>
<g transform="translate(1334.5,321.6) rotate(4.0) scale(1,0.923)"><use href="#ear" transform="translate(17.0,29) rotate(25)"/><use href="#ms" transform="scale(0.99,1)"/></g>
<path d="M1380.6,313.7 L1400.6,313.7 L1397.6,331.7 L1383.6,331.7 Z" fill="url(#cone)"/>
<g transform="translate(1390.6,321.6) rotate(3.2) scale(1,0.923)"><use href="#ear" transform="translate(17.0,29) rotate(25)"/><use href="#ms" transform="scale(0.96,1)"/></g>
<path d="M1436.7,313.7 L1456.7,313.7 L1453.7,331.7 L1439.7,331.7 Z" fill="url(#cone)"/>
<g transform="translate(1446.7,321.6) rotate(1.2) scale(1,0.923)"><use href="#ear" transform="translate(-17.0,29) rotate(-25)"/><use href="#ms" transform="scale(0.99,1)"/></g>
<ellipse cx="1228.8" cy="382.7" rx="4.37" ry="4.95" fill="#5a00ff"/>
<ellipse cx="1228.8" cy="382.7" rx="3.59" ry="4.07" fill="#0010ff"/>
<ellipse cx="1228.8" cy="382.7" rx="2.81" ry="3.19" fill="#00e8ff"/>
<ellipse cx="1287.0" cy="383.8" rx="4.85" ry="5.50" fill="#5a00ff"/>
<ellipse cx="1287.0" cy="383.8" rx="4.07" ry="4.62" fill="#0010ff"/>
<ellipse cx="1287.0" cy="383.8" rx="3.30" ry="3.74" fill="#00e8ff"/>
<ellipse cx="1321.8" cy="376.5" rx="4.85" ry="5.50" fill="#5a00ff"/>
<ellipse cx="1321.8" cy="376.5" rx="4.07" ry="4.62" fill="#0010ff"/>
<ellipse cx="1321.8" cy="376.5" rx="3.30" ry="3.74" fill="#00e8ff"/>
<ellipse cx="1388.8" cy="376.5" rx="4.37" ry="4.95" fill="#5a00ff"/>
<ellipse cx="1388.8" cy="376.5" rx="3.59" ry="4.07" fill="#0010ff"/>
<ellipse cx="1388.8" cy="376.5" rx="2.81" ry="3.19" fill="#00e8ff"/>
<ellipse cx="1388.8" cy="376.5" rx="1.59" ry="1.80" fill="#00ff30"/>
<circle cx="1449.0" cy="372.3" r="4.5" fill="#4a00ff"/>
<circle cx="1449.0" cy="372.3" r="2.5" fill="#0028ff"/>
</g>
<clipPath id="cp6_0"><rect x="1477.6" y="313.7" width="273.4" height="106.5"/></clipPath>
<g clip-path="url(#cp6_0)">
<rect x="1477.6" y="313.7" width="273.4" height="106.5" fill="#4f4f4f"/>
<rect x="1477.6" y="313.7" width="273.4" height="18.0" fill="#3e3e3e"/>
<rect x="1479.6" y="313.7" width="6.0" height="18.0" fill="#141414"/>
<rect x="1517.6" y="313.7" width="6.0" height="18.0" fill="#141414"/>
<rect x="1535.7" y="313.7" width="6.0" height="18.0" fill="#141414"/>
<rect x="1573.7" y="313.7" width="6.0" height="18.0" fill="#141414"/>
<rect x="1591.8" y="313.7" width="6.0" height="18.0" fill="#141414"/>
<rect x="1629.8" y="313.7" width="6.0" height="18.0" fill="#141414"/>
<rect x="1647.9" y="313.7" width="6.0" height="18.0" fill="#141414"/>
<rect x="1685.9" y="313.7" width="6.0" height="18.0" fill="#141414"/>
<rect x="1704.0" y="313.7" width="6.0" height="18.0" fill="#141414"/>
<rect x="1742.0" y="313.7" width="6.0" height="18.0" fill="#141414"/>
<path d="M1491.6,313.7 L1511.6,313.7 L1508.6,331.7 L1494.6,331.7 Z" fill="url(#cone)"/>
<g transform="translate(1501.6,321.6) rotate(-1.7) scale(1,0.923)"><use href="#ear" transform="translate(17.0,29) rotate(25)"/><use href="#ms" transform="scale(0.99,1)"/></g>
<path d="M1547.7,313.7 L1567.7,313.7 L1564.7,331.7 L1550.7,331.7 Z" fill="url(#cone)"/>
<g transform="translate(1557.7,321.6) rotate(-2.4) scale(1,0.923)"><use href="#ear" transform="translate(17.0,29) rotate(25)"/><use href="#ms" transform="scale(1.05,1)"/></g>
<path d="M1603.8,313.7 L1623.8,313.7 L1620.8,331.7 L1606.8,331.7 Z" fill="url(#cone)"/>
<g transform="translate(1613.8,321.6) rotate(-0.3) scale(1,0.923)"><use href="#ear" transform="translate(-17.0,29) rotate(-25)"/><use href="#ms" transform="scale(1.05,1)"/></g>
<path d="M1659.9,313.7 L1679.9,313.7 L1676.9,331.7 L1662.9,331.7 Z" fill="url(#cone)"/>
<g transform="translate(1669.9,321.6) rotate(1.8) scale(1,0.923)"><use href="#ear" transform="translate(-17.0,29) rotate(-25)"/><use href="#ms" transform="scale(0.96,1)"/></g>
<path d="M1716.0,313.7 L1736.0,313.7 L1733.0,331.7 L1719.0,331.7 Z" fill="url(#cone)"/>
<g transform="translate(1726.0,321.6) rotate(3.0) scale(1,0.923)"><use href="#ear" transform="translate(17.0,29) rotate(25)"/><use href="#ms" transform="scale(0.99,1)"/></g>
<ellipse cx="1505.0" cy="378.0" rx="4.37" ry="4.95" fill="#5a00ff"/>
<ellipse cx="1505.0" cy="378.0" rx="3.59" ry="4.07" fill="#0010ff"/>
<ellipse cx="1505.0" cy="378.0" rx="2.81" ry="3.19" fill="#00e8ff"/>
<ellipse cx="1561.8" cy="379.6" rx="3.88" ry="4.40" fill="#5a00ff"/>
<ellipse cx="1561.8" cy="379.6" rx="3.10" ry="3.52" fill="#0010ff"/>
<ellipse cx="1561.8" cy="379.6" rx="2.33" ry="2.64" fill="#00e8ff"/>
<ellipse cx="1561.8" cy="379.6" rx="1.32" ry="1.49" fill="#00ff30"/>
<ellipse cx="1609.5" cy="382.2" rx="4.37" ry="4.95" fill="#5a00ff"/>
<ellipse cx="1609.5" cy="382.2" rx="3.59" ry="4.07" fill="#0010ff"/>
<ellipse cx="1609.5" cy="382.2" rx="2.81" ry="3.19" fill="#00e8ff"/>
<ellipse cx="1667.2" cy="378.6" rx="4.37" ry="4.95" fill="#5a00ff"/>
<ellipse cx="1667.2" cy="378.6" rx="3.59" ry="4.07" fill="#0010ff"/>
<ellipse cx="1667.2" cy="378.6" rx="2.81" ry="3.19" fill="#00e8ff"/>
<ellipse cx="1667.2" cy="378.6" rx="1.59" ry="1.80" fill="#00ff30"/>
<ellipse cx="1721.2" cy="375.5" rx="4.85" ry="5.50" fill="#5a00ff"/>
<ellipse cx="1721.2" cy="375.5" rx="4.07" ry="4.62" fill="#0010ff"/>
<ellipse cx="1721.2" cy="375.5" rx="3.30" ry="3.74" fill="#00e8ff"/>
<ellipse cx="1721.2" cy="375.5" rx="1.86" ry="2.11" fill="#00ff30"/>
</g>
<clipPath id="cp1_7"><rect x="81.2" y="427.2" width="273.4" height="107.4"/></clipPath>
<g clip-path="url(#cp1_7)">
<rect x="81.2" y="427.2" width="273.4" height="107.4" fill="#4f4f4f"/>
<rect x="81.2" y="427.2" width="273.4" height="12.7" fill="#3e3e3e"/>
<rect x="83.2" y="427.2" width="6.0" height="12.7" fill="#141414"/>
<rect x="121.2" y="427.2" width="6.0" height="12.7" fill="#141414"/>
<rect x="139.3" y="427.2" width="6.0" height="12.7" fill="#141414"/>
<rect x="177.3" y="427.2" width="6.0" height="12.7" fill="#141414"/>
<rect x="195.4" y="427.2" width="6.0" height="12.7" fill="#141414"/>
<rect x="233.4" y="427.2" width="6.0" height="12.7" fill="#141414"/>
<rect x="251.5" y="427.2" width="6.0" height="12.7" fill="#141414"/>
<rect x="289.5" y="427.2" width="6.0" height="12.7" fill="#141414"/>
<rect x="307.6" y="427.2" width="6.0" height="12.7" fill="#141414"/>
<rect x="345.6" y="427.2" width="6.0" height="12.7" fill="#141414"/>
<path d="M95.2,427.2 L115.2,427.2 L112.2,439.9 L98.2,439.9 Z" fill="url(#cone)"/>
<g transform="translate(105.2,429.0) rotate(1.2) scale(1,0.987)"><use href="#ear" transform="translate(-17.0,29) rotate(-25)"/><use href="#ms" transform="scale(1.02,1)"/></g>
<path d="M151.3,427.2 L171.3,427.2 L168.3,439.9 L154.3,439.9 Z" fill="url(#cone)"/>
<g transform="translate(161.3,429.0) rotate(3.4) scale(1,0.987)"><use href="#ear" transform="translate(17.0,29) rotate(25)"/><use href="#ms" transform="scale(1.01,1)"/></g>
<path d="M207.4,427.2 L227.4,427.2 L224.4,439.9 L210.4,439.9 Z" fill="url(#cone)"/>
<g transform="translate(217.4,429.0) rotate(1.9) scale(1,0.987)"><use href="#ear" transform="translate(-17.0,29) rotate(-25)"/><use href="#ms" transform="scale(1.06,1)"/></g>
<path d="M263.5,427.2 L283.5,427.2 L280.5,439.9 L266.5,439.9 Z" fill="url(#cone)"/>
<g transform="translate(273.5,429.0) rotate(7.7) scale(1,0.987)"><use href="#ear" transform="translate(-17.0,29) rotate(-25)"/><use href="#ms" transform="scale(1.02,1)"/></g>
<path d="M319.6,427.2 L339.6,427.2 L336.6,439.9 L322.6,439.9 Z" fill="url(#cone)"/>
<g transform="translate(329.6,429.0) rotate(4.4) scale(1,0.987)"><use href="#ear" transform="translate(17.0,29) rotate(25)"/><use href="#ms" transform="scale(0.99,1)"/></g>
<ellipse cx="94.5" cy="493.6" rx="5.82" ry="6.60" fill="#5a00ff"/>
<ellipse cx="94.5" cy="493.6" rx="5.09" ry="5.78" fill="#0010ff"/>
<ellipse cx="94.5" cy="493.6" rx="4.37" ry="4.95" fill="#00e8ff"/>
<ellipse cx="94.5" cy="493.6" rx="3.64" ry="4.12" fill="#00ff30"/>
<ellipse cx="94.5" cy="493.6" rx="2.98" ry="3.38" fill="#fff000"/>
<ellipse cx="94.5" cy="493.6" rx="2.47" ry="2.81" fill="#ff0000"/>
<ellipse cx="147.2" cy="499.8" rx="4.85" ry="5.50" fill="#5a00ff"/>
<ellipse cx="147.2" cy="499.8" rx="4.12" ry="4.68" fill="#0010ff"/>
<ellipse cx="147.2" cy="499.8" rx="3.40" ry="3.85" fill="#00e8ff"/>
<ellipse cx="147.2" cy="499.8" rx="2.67" ry="3.03" fill="#00ff30"/>
<ellipse cx="147.2" cy="499.8" rx="2.01" ry="2.28" fill="#fff000"/>
<ellipse cx="147.2" cy="499.8" rx="1.50" ry="1.71" fill="#ff0000"/>
<ellipse cx="208.2" cy="488.4" rx="6.30" ry="7.15" fill="#5a00ff"/>
<ellipse cx="208.2" cy="488.4" rx="5.58" ry="6.33" fill="#0010ff"/>
<ellipse cx="208.2" cy="488.4" rx="4.85" ry="5.50" fill="#00e8ff"/>
<ellipse cx="208.2" cy="488.4" rx="4.12" ry="4.68" fill="#00ff30"/>
<ellipse cx="208.2" cy="488.4" rx="3.47" ry="3.93" fill="#fff000"/>
<ellipse cx="208.2" cy="488.4" rx="2.96" ry="3.36" fill="#ff0000"/>
<ellipse cx="265.0" cy="479.6" rx="6.79" ry="7.70" fill="#5a00ff"/>
<ellipse cx="265.0" cy="479.6" rx="6.06" ry="6.88" fill="#0010ff"/>
<ellipse cx="265.0" cy="479.6" rx="5.33" ry="6.05" fill="#00e8ff"/>
<ellipse cx="265.0" cy="479.6" rx="4.61" ry="5.23" fill="#00ff30"/>
<ellipse cx="265.0" cy="479.6" rx="3.95" ry="4.48" fill="#fff000"/>
<ellipse cx="265.0" cy="479.6" rx="3.44" ry="3.91" fill="#ff0000"/>
<ellipse cx="332.3" cy="490.0" rx="5.82" ry="6.60" fill="#5a00ff"/>
<ellipse cx="332.3" cy="490.0" rx="5.09" ry="5.78" fill="#0010ff"/>
<ellipse cx="332.3" cy="490.0" rx="4.37" ry="4.95" fill="#00e8ff"/>
<ellipse cx="332.3" cy="490.0" rx="3.64" ry="4.12" fill="#00ff30"/>
<ellipse cx="332.3" cy="490.0" rx="2.98" ry="3.38" fill="#fff000"/>
<ellipse cx="332.3" cy="490.0" rx="2.47" ry="2.81" fill="#ff0000"/>
</g>
<clipPath id="cp2_7"><rect x="360.6" y="427.2" width="273.3" height="107.4"/></clipPath>
<g clip-path="url(#cp2_7)">
<rect x="360.6" y="427.2" width="273.3" height="107.4" fill="#4f4f4f"/>
<rect x="360.6" y="427.2" width="273.3" height="12.7" fill="#3e3e3e"/>
<rect x="362.6" y="427.2" width="6.0" height="12.7" fill="#141414"/>
<rect x="400.6" y="427.2" width="6.0" height="12.7" fill="#141414"/>
<rect x="418.7" y="427.2" width="6.0" height="12.7" fill="#141414"/>
<rect x="456.7" y="427.2" width="6.0" height="12.7" fill="#141414"/>
<rect x="474.8" y="427.2" width="6.0" height="12.7" fill="#141414"/>
<rect x="512.8" y="427.2" width="6.0" height="12.7" fill="#141414"/>
<rect x="530.9" y="427.2" width="6.0" height="12.7" fill="#141414"/>
<rect x="568.9" y="427.2" width="6.0" height="12.7" fill="#141414"/>
<rect x="587.0" y="427.2" width="6.0" height="12.7" fill="#141414"/>
<rect x="625.0" y="427.2" width="6.0" height="12.7" fill="#141414"/>
<path d="M374.6,427.2 L394.6,427.2 L391.6,439.9 L377.6,439.9 Z" fill="url(#cone)"/>
<g transform="translate(384.6,429.0) rotate(4.1) scale(1,0.987)"><use href="#ear" transform="translate(-17.0,29) rotate(-25)"/><use href="#ms" transform="scale(1.03,1)"/></g>
<path d="M430.7,427.2 L450.7,427.2 L447.7,439.9 L433.7,439.9 Z" fill="url(#cone)"/>
<g transform="translate(440.7,429.0) rotate(2.4) scale(1,0.987)"><use href="#ear" transform="translate(-17.0,29) rotate(-25)"/><use href="#ms" transform="scale(0.98,1)"/></g>
<path d="M486.8,427.2 L506.8,427.2 L503.8,439.9 L489.8,439.9 Z" fill="url(#cone)"/>
<g transform="translate(496.8,429.0) rotate(2.0) scale(1,0.987)"><use href="#ear" transform="translate(-17.0,29) rotate(-25)"/><use href="#ms" transform="scale(1.03,1)"/></g>
<path d="M542.9,427.2 L562.9,427.2 L559.9,439.9 L545.9,439.9 Z" fill="url(#cone)"/>
<g transform="translate(552.9,429.0) rotate(5.7) scale(1,0.987)"><use href="#ear" transform="translate(17.0,29) rotate(25)"/><use href="#ms" transform="scale(1.00,1)"/></g>
<path d="M599.0,427.2 L619.0,427.2 L616.0,439.9 L602.0,439.9 Z" fill="url(#cone)"/>
<g transform="translate(609.0,429.0) rotate(10.1) scale(1,0.987)"><use href="#ear" transform="translate(17.0,29) rotate(25)"/><use href="#ms" transform="scale(1.05,1)"/></g>
<ellipse cx="377.3" cy="501.3" rx="10.67" ry="12.10" fill="#5a00ff"/>
<ellipse cx="377.3" cy="501.3" rx="9.85" ry="11.17" fill="#0010ff"/>
<ellipse cx="377.3" cy="501.3" rx="9.02" ry="10.23" fill="#00e8ff"/>
<ellipse cx="377.3" cy="501.3" rx="8.20" ry="9.30" fill="#00ff30"/>
<ellipse cx="377.3" cy="501.3" rx="7.46" ry="8.46" fill="#fff000"/>
<ellipse cx="377.3" cy="501.3" rx="6.89" ry="7.81" fill="#ff0000"/>
<ellipse cx="435.7" cy="491.0" rx="8.73" ry="9.90" fill="#5a00ff"/>
<ellipse cx="435.7" cy="491.0" rx="7.68" ry="8.71" fill="#0010ff"/>
<ellipse cx="435.7" cy="491.0" rx="6.63" ry="7.52" fill="#00e8ff"/>
<ellipse cx="435.7" cy="491.0" rx="4.62" ry="5.24" fill="#00ff30"/>
<ellipse cx="435.7" cy="491.0" rx="2.61" ry="2.96" fill="#fff000"/>
<ellipse cx="492.6" cy="492.0" rx="9.70" ry="11.00" fill="#5a00ff"/>
<ellipse cx="492.6" cy="492.0" rx="8.94" ry="10.14" fill="#0010ff"/>
<ellipse cx="492.6" cy="492.0" rx="8.19" ry="9.28" fill="#00e8ff"/>
<ellipse cx="492.6" cy="492.0" rx="7.43" ry="8.43" fill="#00ff30"/>
<ellipse cx="492.6" cy="492.0" rx="6.75" ry="7.65" fill="#fff000"/>
<ellipse cx="492.6" cy="492.0" rx="6.22" ry="7.05" fill="#ff0000"/>
<ellipse cx="541.7" cy="496.0" rx="10.19" ry="11.55" fill="#5a00ff"/>
<ellipse cx="541.7" cy="496.0" rx="9.40" ry="10.65" fill="#0010ff"/>
<ellipse cx="541.7" cy="496.0" rx="8.61" ry="9.76" fill="#00e8ff"/>
<ellipse cx="541.7" cy="496.0" rx="7.82" ry="8.86" fill="#00ff30"/>
<ellipse cx="541.7" cy="496.0" rx="7.11" ry="8.06" fill="#fff000"/>
<ellipse cx="541.7" cy="496.0" rx="6.55" ry="7.43" fill="#ff0000"/>
<ellipse cx="592.0" cy="493.6" rx="10.67" ry="12.10" fill="#5a00ff"/>
<ellipse cx="592.0" cy="493.6" rx="9.85" ry="11.17" fill="#0010ff"/>
<ellipse cx="592.0" cy="493.6" rx="9.02" ry="10.23" fill="#00e8ff"/>
<ellipse cx="592.0" cy="493.6" rx="8.20" ry="9.30" fill="#00ff30"/>
<ellipse cx="592.0" cy="493.6" rx="7.46" ry="8.46" fill="#fff000"/>
<ellipse cx="592.0" cy="493.6" rx="6.89" ry="7.81" fill="#ff0000"/>
</g>
<clipPath id="cp3_7"><rect x="640.1" y="427.2" width="272.6" height="107.4"/></clipPath>
<g clip-path="url(#cp3_7)">
<rect x="640.1" y="427.2" width="272.6" height="107.4" fill="#4f4f4f"/>
<rect x="640.1" y="427.2" width="272.6" height="12.7" fill="#3e3e3e"/>
<rect x="642.1" y="427.2" width="6.0" height="12.7" fill="#141414"/>
<rect x="680.1" y="427.2" width="6.0" height="12.7" fill="#141414"/>
<rect x="698.2" y="427.2" width="6.0" height="12.7" fill="#141414"/>
<rect x="736.2" y="427.2" width="6.0" height="12.7" fill="#141414"/>
<rect x="754.3" y="427.2" width="6.0" height="12.7" fill="#141414"/>
<rect x="792.3" y="427.2" width="6.0" height="12.7" fill="#141414"/>
<rect x="810.4" y="427.2" width="6.0" height="12.7" fill="#141414"/>
<rect x="848.4" y="427.2" width="6.0" height="12.7" fill="#141414"/>
<rect x="866.5" y="427.2" width="6.0" height="12.7" fill="#141414"/>
<rect x="904.5" y="427.2" width="6.0" height="12.7" fill="#141414"/>
<path d="M654.1,427.2 L674.1,427.2 L671.1,439.9 L657.1,439.9 Z" fill="url(#cone)"/>
<g transform="translate(664.1,429.0) rotate(4.9) scale(1,0.987)"><use href="#ear" transform="translate(-17.0,29) rotate(-25)"/><use href="#ms" transform="scale(0.99,1)"/></g>
<path d="M710.2,427.2 L730.2,427.2 L727.2,439.9 L713.2,439.9 Z" fill="url(#cone)"/>
<g transform="translate(720.2,429.0) rotate(-3.3) scale(1,0.987)"><use href="#ear" transform="translate(17.0,29) rotate(25)"/><use href="#ms" transform="scale(1.00,1)"/></g>
<path d="M766.3,427.2 L786.3,427.2 L783.3,439.9 L769.3,439.9 Z" fill="url(#cone)"/>
<g transform="translate(776.3,429.0) rotate(-1.8) scale(1,0.987)"><use href="#ear" transform="translate(17.0,29) rotate(25)"/><use href="#ms" transform="scale(1.02,1)"/></g>
<path d="M822.4,427.2 L842.4,427.2 L839.4,439.9 L825.4,439.9 Z" fill="url(#cone)"/>
<g transform="translate(832.4,429.0) rotate(6.1) scale(1,0.987)"><use href="#ear" transform="translate(-17.0,29) rotate(-25)"/><use href="#ms" transform="scale(0.98,1)"/></g>
<path d="M878.5,427.2 L898.5,427.2 L895.5,439.9 L881.5,439.9 Z" fill="url(#cone)"/>
<g transform="translate(888.5,429.0) rotate(9.1) scale(1,0.987)"><use href="#ear" transform="translate(-17.0,29) rotate(-25)"/><use href="#ms" transform="scale(1.04,1)"/></g>
<ellipse cx="659.0" cy="493.6" rx="8.73" ry="9.90" fill="#5a00ff"/>
<ellipse cx="659.0" cy="493.6" rx="8.00" ry="9.08" fill="#0010ff"/>
<ellipse cx="659.0" cy="493.6" rx="7.27" ry="8.25" fill="#00e8ff"/>
<ellipse cx="659.0" cy="493.6" rx="6.55" ry="7.43" fill="#00ff30"/>
<ellipse cx="659.0" cy="493.6" rx="5.89" ry="6.68" fill="#fff000"/>
<ellipse cx="659.0" cy="493.6" rx="5.38" ry="6.11" fill="#ff0000"/>
<ellipse cx="726.0" cy="492.0" rx="8.73" ry="9.90" fill="#5a00ff"/>
<ellipse cx="726.0" cy="492.0" rx="8.00" ry="9.08" fill="#0010ff"/>
<ellipse cx="726.0" cy="492.0" rx="7.27" ry="8.25" fill="#00e8ff"/>
<ellipse cx="726.0" cy="492.0" rx="6.55" ry="7.43" fill="#00ff30"/>
<ellipse cx="726.0" cy="492.0" rx="5.89" ry="6.68" fill="#fff000"/>
<ellipse cx="726.0" cy="492.0" rx="5.38" ry="6.11" fill="#ff0000"/>
<ellipse cx="775.5" cy="499.8" rx="4.85" ry="5.50" fill="#5a00ff"/>
<ellipse cx="775.5" cy="499.8" rx="4.07" ry="4.62" fill="#0010ff"/>
<ellipse cx="775.5" cy="499.8" rx="3.30" ry="3.74" fill="#00e8ff"/>
<ellipse cx="791.0" cy="491.0" rx="7.76" ry="8.80" fill="#5a00ff"/>
<ellipse cx="791.0" cy="491.0" rx="7.03" ry="7.98" fill="#0010ff"/>
<ellipse cx="791.0" cy="491.0" rx="6.30" ry="7.15" fill="#00e8ff"/>
<ellipse cx="791.0" cy="491.0" rx="5.58" ry="6.33" fill="#00ff30"/>
<ellipse cx="791.0" cy="491.0" rx="4.92" ry="5.58" fill="#fff000"/>
<ellipse cx="791.0" cy="491.0" rx="4.41" ry="5.01" fill="#ff0000"/>
<ellipse cx="822.0" cy="498.7" rx="8.73" ry="9.90" fill="#5a00ff"/>
<ellipse cx="822.0" cy="498.7" rx="8.00" ry="9.08" fill="#0010ff"/>
<ellipse cx="822.0" cy="498.7" rx="7.27" ry="8.25" fill="#00e8ff"/>
<ellipse cx="822.0" cy="498.7" rx="6.55" ry="7.43" fill="#00ff30"/>
<ellipse cx="822.0" cy="498.7" rx="5.89" ry="6.68" fill="#fff000"/>
<ellipse cx="822.0" cy="498.7" rx="5.38" ry="6.11" fill="#ff0000"/>
<ellipse cx="880.4" cy="499.2" rx="8.73" ry="9.90" fill="#5a00ff"/>
<ellipse cx="880.4" cy="499.2" rx="8.00" ry="9.08" fill="#0010ff"/>
<ellipse cx="880.4" cy="499.2" rx="7.27" ry="8.25" fill="#00e8ff"/>
<ellipse cx="880.4" cy="499.2" rx="6.55" ry="7.43" fill="#00ff30"/>
<ellipse cx="880.4" cy="499.2" rx="5.89" ry="6.68" fill="#fff000"/>
<ellipse cx="880.4" cy="499.2" rx="5.38" ry="6.11" fill="#ff0000"/>
</g>
<clipPath id="cp4_7"><rect x="919.2" y="427.2" width="272.7" height="107.4"/></clipPath>
<g clip-path="url(#cp4_7)">
<rect x="919.2" y="427.2" width="272.7" height="107.4" fill="#4f4f4f"/>
<rect x="919.2" y="427.2" width="272.7" height="12.7" fill="#3e3e3e"/>
<rect x="921.2" y="427.2" width="6.0" height="12.7" fill="#141414"/>
<rect x="959.2" y="427.2" width="6.0" height="12.7" fill="#141414"/>
<rect x="977.3" y="427.2" width="6.0" height="12.7" fill="#141414"/>
<rect x="1015.3" y="427.2" width="6.0" height="12.7" fill="#141414"/>
<rect x="1033.4" y="427.2" width="6.0" height="12.7" fill="#141414"/>
<rect x="1071.4" y="427.2" width="6.0" height="12.7" fill="#141414"/>
<rect x="1089.5" y="427.2" width="6.0" height="12.7" fill="#141414"/>
<rect x="1127.5" y="427.2" width="6.0" height="12.7" fill="#141414"/>
<rect x="1145.6" y="427.2" width="6.0" height="12.7" fill="#141414"/>
<rect x="1183.6" y="427.2" width="6.0" height="12.7" fill="#141414"/>
<path d="M933.2,427.2 L953.2,427.2 L950.2,439.9 L936.2,439.9 Z" fill="url(#cone)"/>
<g transform="translate(943.2,429.0) rotate(-4.6) scale(1,0.987)"><use href="#ear" transform="translate(-17.0,29) rotate(-25)"/><use href="#ms" transform="scale(0.97,1)"/></g>
<path d="M989.3,427.2 L1009.3,427.2 L1006.3,439.9 L992.3,439.9 Z" fill="url(#cone)"/>
<g transform="translate(999.3,429.0) rotate(1.3) scale(1,0.987)"><use href="#ear" transform="translate(-17.0,29) rotate(-25)"/><use href="#ms" transform="scale(1.00,1)"/></g>
<path d="M1045.4,427.2 L1065.4,427.2 L1062.4,439.9 L1048.4,439.9 Z" fill="url(#cone)"/>
<g transform="translate(1055.4,429.0) rotate(7.1) scale(1,0.987)"><use href="#ear" transform="translate(17.0,29) rotate(25)"/><use href="#ms" transform="scale(1.01,1)"/></g>
<path d="M1101.5,427.2 L1121.5,427.2 L1118.5,439.9 L1104.5,439.9 Z" fill="url(#cone)"/>
<g transform="translate(1111.5,429.0) rotate(4.2) scale(1,0.987)"><use href="#ear" transform="translate(-17.0,29) rotate(-25)"/><use href="#ms" transform="scale(1.04,1)"/></g>
<path d="M1157.6,427.2 L1177.6,427.2 L1174.6,439.9 L1160.6,439.9 Z" fill="url(#cone)"/>
<g transform="translate(1167.6,429.0) rotate(5.3) scale(1,0.987)"><use href="#ear" transform="translate(17.0,29) rotate(25)"/><use href="#ms" transform="scale(1.01,1)"/></g>
<ellipse cx="952.4" cy="484.0" rx="5.82" ry="6.60" fill="#5a00ff"/>
<ellipse cx="952.4" cy="484.0" rx="5.04" ry="5.72" fill="#0010ff"/>
<ellipse cx="952.4" cy="484.0" rx="4.27" ry="4.84" fill="#00e8ff"/>
<ellipse cx="952.4" cy="484.0" rx="3.49" ry="3.96" fill="#00ff30"/>
<ellipse cx="952.4" cy="484.0" rx="2.56" ry="2.90" fill="#fff000"/>
<ellipse cx="952.4" cy="484.0" rx="1.54" ry="1.74" fill="#ff0000"/>
<ellipse cx="996.6" cy="492.9" rx="6.30" ry="7.15" fill="#5a00ff"/>
<ellipse cx="996.6" cy="492.9" rx="5.58" ry="6.33" fill="#0010ff"/>
<ellipse cx="996.6" cy="492.9" rx="4.85" ry="5.50" fill="#00e8ff"/>
<ellipse cx="996.6" cy="492.9" rx="4.12" ry="4.68" fill="#00ff30"/>
<ellipse cx="996.6" cy="492.9" rx="3.47" ry="3.93" fill="#fff000"/>
<ellipse cx="996.6" cy="492.9" rx="2.96" ry="3.36" fill="#ff0000"/>
<ellipse cx="1043.8" cy="499.6" rx="6.30" ry="7.15" fill="#5a00ff"/>
<ellipse cx="1043.8" cy="499.6" rx="5.58" ry="6.33" fill="#0010ff"/>
<ellipse cx="1043.8" cy="499.6" rx="4.85" ry="5.50" fill="#00e8ff"/>
<ellipse cx="1043.8" cy="499.6" rx="4.12" ry="4.68" fill="#00ff30"/>
<ellipse cx="1043.8" cy="499.6" rx="3.47" ry="3.93" fill="#fff000"/>
<ellipse cx="1043.8" cy="499.6" rx="2.96" ry="3.36" fill="#ff0000"/>
<ellipse cx="1102.0" cy="494.4" rx="5.82" ry="6.60" fill="#5a00ff"/>
<ellipse cx="1102.0" cy="494.4" rx="5.04" ry="5.72" fill="#0010ff"/>
<ellipse cx="1102.0" cy="494.4" rx="4.27" ry="4.84" fill="#00e8ff"/>
<ellipse cx="1102.0" cy="494.4" rx="2.97" ry="3.37" fill="#00ff30"/>
<ellipse cx="1102.0" cy="494.4" rx="1.68" ry="1.91" fill="#fff000"/>
<ellipse cx="1103.0" cy="502.0" rx="3.40" ry="3.85" fill="#5a00ff"/>
<ellipse cx="1103.0" cy="502.0" rx="2.62" ry="2.97" fill="#0010ff"/>
<ellipse cx="1103.0" cy="502.0" rx="1.84" ry="2.09" fill="#00e8ff"/>
<ellipse cx="1161.8" cy="497.0" rx="6.79" ry="7.70" fill="#5a00ff"/>
<ellipse cx="1161.8" cy="497.0" rx="6.06" ry="6.88" fill="#0010ff"/>
<ellipse cx="1161.8" cy="497.0" rx="5.33" ry="6.05" fill="#00e8ff"/>
<ellipse cx="1161.8" cy="497.0" rx="4.61" ry="5.23" fill="#00ff30"/>
<ellipse cx="1161.8" cy="497.0" rx="3.95" ry="4.48" fill="#fff000"/>
<ellipse cx="1161.8" cy="497.0" rx="3.44" ry="3.91" fill="#ff0000"/>
</g>
<clipPath id="cp5_7"><rect x="1198.3" y="427.2" width="272.7" height="107.4"/></clipPath>
<g clip-path="url(#cp5_7)">
<rect x="1198.3" y="427.2" width="272.7" height="107.4" fill="#4f4f4f"/>
<rect x="1198.3" y="427.2" width="272.7" height="12.7" fill="#3e3e3e"/>
<rect x="1200.3" y="427.2" width="6.0" height="12.7" fill="#141414"/>
<rect x="1238.3" y="427.2" width="6.0" height="12.7" fill="#141414"/>
<rect x="1256.4" y="427.2" width="6.0" height="12.7" fill="#141414"/>
<rect x="1294.4" y="427.2" width="6.0" height="12.7" fill="#141414"/>
<rect x="1312.5" y="427.2" width="6.0" height="12.7" fill="#141414"/>
<rect x="1350.5" y="427.2" width="6.0" height="12.7" fill="#141414"/>
<rect x="1368.6" y="427.2" width="6.0" height="12.7" fill="#141414"/>
<rect x="1406.6" y="427.2" width="6.0" height="12.7" fill="#141414"/>
<rect x="1424.7" y="427.2" width="6.0" height="12.7" fill="#141414"/>
<rect x="1462.7" y="427.2" width="6.0" height="12.7" fill="#141414"/>
<path d="M1212.3,427.2 L1232.3,427.2 L1229.3,439.9 L1215.3,439.9 Z" fill="url(#cone)"/>
<g transform="translate(1222.3,429.0) rotate(-6.0) scale(1,0.987)"><use href="#ear" transform="translate(-17.0,29) rotate(-25)"/><use href="#ms" transform="scale(1.02,1)"/></g>
<path d="M1268.4,427.2 L1288.4,427.2 L1285.4,439.9 L1271.4,439.9 Z" fill="url(#cone)"/>
<g transform="translate(1278.4,429.0) rotate(-2.3) scale(1,0.987)"><use href="#ear" transform="translate(17.0,29) rotate(25)"/><use href="#ms" transform="scale(0.98,1)"/></g>
<path d="M1324.5,427.2 L1344.5,427.2 L1341.5,439.9 L1327.5,439.9 Z" fill="url(#cone)"/>
<g transform="translate(1334.5,429.0) rotate(4.4) scale(1,0.987)"><use href="#ear" transform="translate(-17.0,29) rotate(-25)"/><use href="#ms" transform="scale(1.03,1)"/></g>
<path d="M1380.6,427.2 L1400.6,427.2 L1397.6,439.9 L1383.6,439.9 Z" fill="url(#cone)"/>
<g transform="translate(1390.6,429.0) rotate(1.9) scale(1,0.987)"><use href="#ear" transform="translate(-17.0,29) rotate(-25)"/><use href="#ms" transform="scale(1.03,1)"/></g>
<path d="M1436.7,427.2 L1456.7,427.2 L1453.7,439.9 L1439.7,439.9 Z" fill="url(#cone)"/>
<g transform="translate(1446.7,429.0) rotate(0.4) scale(1,0.987)"><use href="#ear" transform="translate(-17.0,29) rotate(-25)"/><use href="#ms" transform="scale(1.04,1)"/></g>
<ellipse cx="1228.8" cy="490.3" rx="4.37" ry="4.95" fill="#5a00ff"/>
<ellipse cx="1228.8" cy="490.3" rx="3.59" ry="4.07" fill="#0010ff"/>
<ellipse cx="1228.8" cy="490.3" rx="2.81" ry="3.19" fill="#00e8ff"/>
<ellipse cx="1228.8" cy="490.3" rx="1.59" ry="1.80" fill="#00ff30"/>
<ellipse cx="1280.2" cy="492.9" rx="4.37" ry="4.95" fill="#5a00ff"/>
<ellipse cx="1280.2" cy="492.9" rx="3.59" ry="4.07" fill="#0010ff"/>
<ellipse cx="1280.2" cy="492.9" rx="2.81" ry="3.19" fill="#00e8ff"/>
<ellipse cx="1328.0" cy="490.3" rx="3.88" ry="4.40" fill="#5a00ff"/>
<ellipse cx="1328.0" cy="490.3" rx="3.10" ry="3.52" fill="#0010ff"/>
<ellipse cx="1328.0" cy="490.3" rx="2.33" ry="2.64" fill="#00e8ff"/>
<ellipse cx="1386.7" cy="494.4" rx="4.37" ry="4.95" fill="#5a00ff"/>
<ellipse cx="1386.7" cy="494.4" rx="3.59" ry="4.07" fill="#0010ff"/>
<ellipse cx="1386.7" cy="494.4" rx="2.81" ry="3.19" fill="#00e8ff"/>
<ellipse cx="1445.9" cy="492.9" rx="3.88" ry="4.40" fill="#5a00ff"/>
<ellipse cx="1445.9" cy="492.9" rx="3.10" ry="3.52" fill="#0010ff"/>
<ellipse cx="1445.9" cy="492.9" rx="2.33" ry="2.64" fill="#00e8ff"/>
<ellipse cx="1445.9" cy="492.9" rx="1.32" ry="1.49" fill="#00ff30"/>
</g>
<clipPath id="cp6_7"><rect x="1477.6" y="427.2" width="273.4" height="107.4"/></clipPath>
<g clip-path="url(#cp6_7)">
<rect x="1477.6" y="427.2" width="273.4" height="107.4" fill="#4f4f4f"/>
<rect x="1477.6" y="427.2" width="273.4" height="12.7" fill="#3e3e3e"/>
<rect x="1479.6" y="427.2" width="6.0" height="12.7" fill="#141414"/>
<rect x="1517.6" y="427.2" width="6.0" height="12.7" fill="#141414"/>
<rect x="1535.7" y="427.2" width="6.0" height="12.7" fill="#141414"/>
<rect x="1573.7" y="427.2" width="6.0" height="12.7" fill="#141414"/>
<rect x="1591.8" y="427.2" width="6.0" height="12.7" fill="#141414"/>
<rect x="1629.8" y="427.2" width="6.0" height="12.7" fill="#141414"/>
<rect x="1647.9" y="427.2" width="6.0" height="12.7" fill="#141414"/>
<rect x="1685.9" y="427.2" width="6.0" height="12.7" fill="#141414"/>
<rect x="1704.0" y="427.2" width="6.0" height="12.7" fill="#141414"/>
<rect x="1742.0" y="427.2" width="6.0" height="12.7" fill="#141414"/>
<path d="M1491.6,427.2 L1511.6,427.2 L1508.6,439.9 L1494.6,439.9 Z" fill="url(#cone)"/>
<g transform="translate(1501.6,429.0) rotate(-2.4) scale(1,0.987)"><use href="#ear" transform="translate(17.0,29) rotate(25)"/><use href="#ms" transform="scale(1.06,1)"/></g>
<path d="M1547.7,427.2 L1567.7,427.2 L1564.7,439.9 L1550.7,439.9 Z" fill="url(#cone)"/>
<g transform="translate(1557.7,429.0) rotate(-4.4) scale(1,0.987)"><use href="#ear" transform="translate(-17.0,29) rotate(-25)"/><use href="#ms" transform="scale(1.05,1)"/></g>
<path d="M1603.8,427.2 L1623.8,427.2 L1620.8,439.9 L1606.8,439.9 Z" fill="url(#cone)"/>
<g transform="translate(1613.8,429.0) rotate(-0.2) scale(1,0.987)"><use href="#ear" transform="translate(-17.0,29) rotate(-25)"/><use href="#ms" transform="scale(1.06,1)"/></g>
<path d="M1659.9,427.2 L1679.9,427.2 L1676.9,439.9 L1662.9,439.9 Z" fill="url(#cone)"/>
<g transform="translate(1669.9,429.0) rotate(0.5) scale(1,0.987)"><use href="#ear" transform="translate(17.0,29) rotate(25)"/><use href="#ms" transform="scale(0.97,1)"/></g>
<path d="M1716.0,427.2 L1736.0,427.2 L1733.0,439.9 L1719.0,439.9 Z" fill="url(#cone)"/>
<g transform="translate(1726.0,429.0) rotate(3.8) scale(1,0.987)"><use href="#ear" transform="translate(17.0,29) rotate(25)"/><use href="#ms" transform="scale(1.03,1)"/></g>
<ellipse cx="1505.6" cy="488.2" rx="3.40" ry="3.85" fill="#5a00ff"/>
<ellipse cx="1505.6" cy="488.2" rx="2.62" ry="2.97" fill="#0010ff"/>
<ellipse cx="1505.6" cy="488.2" rx="1.84" ry="2.09" fill="#00e8ff"/>
<circle cx="1557.6" cy="492.9" r="3.5" fill="#4a00ff"/>
<circle cx="1557.6" cy="492.9" r="1.9" fill="#0028ff"/>
<ellipse cx="1608.5" cy="490.8" rx="3.88" ry="4.40" fill="#5a00ff"/>
<ellipse cx="1608.5" cy="490.8" rx="3.10" ry="3.52" fill="#0010ff"/>
<ellipse cx="1608.5" cy="490.8" rx="2.33" ry="2.64" fill="#00e8ff"/>
<circle cx="1719.2" cy="492.9" r="4.0" fill="#4a00ff"/>
<circle cx="1719.2" cy="492.9" r="2.2" fill="#0028ff"/>
</g>
<clipPath id="cp1_14"><rect x="81.2" y="542.0" width="273.4" height="106.4"/></clipPath>
<g clip-path="url(#cp1_14)">
<rect x="81.2" y="542.0" width="273.4" height="106.4" fill="#4f4f4f"/>
<rect x="81.2" y="542.0" width="273.4" height="7.8" fill="#3e3e3e"/>
<rect x="83.2" y="542.0" width="6.0" height="7.8" fill="#141414"/>
<rect x="121.2" y="542.0" width="6.0" height="7.8" fill="#141414"/>
<rect x="139.3" y="542.0" width="6.0" height="7.8" fill="#141414"/>
<rect x="177.3" y="542.0" width="6.0" height="7.8" fill="#141414"/>
<rect x="195.4" y="542.0" width="6.0" height="7.8" fill="#141414"/>
<rect x="233.4" y="542.0" width="6.0" height="7.8" fill="#141414"/>
<rect x="251.5" y="542.0" width="6.0" height="7.8" fill="#141414"/>
<rect x="289.5" y="542.0" width="6.0" height="7.8" fill="#141414"/>
<rect x="307.6" y="542.0" width="6.0" height="7.8" fill="#141414"/>
<rect x="345.6" y="542.0" width="6.0" height="7.8" fill="#141414"/>
<path d="M95.2,542.0 L115.2,542.0 L112.2,549.8 L98.2,549.8 Z" fill="url(#cone)"/>
<g transform="translate(105.2,538.5) rotate(1.2) scale(1,1.027)"><use href="#ear" transform="translate(-17.0,29) rotate(-25)"/><use href="#ms" transform="scale(0.97,1)"/></g>
<path d="M151.3,542.0 L171.3,542.0 L168.3,549.8 L154.3,549.8 Z" fill="url(#cone)"/>
<g transform="translate(161.3,538.5) rotate(2.1) scale(1,1.027)"><use href="#ear" transform="translate(17.0,29) rotate(25)"/><use href="#ms" transform="scale(1.02,1)"/></g>
<path d="M207.4,542.0 L227.4,542.0 L224.4,549.8 L210.4,549.8 Z" fill="url(#cone)"/>
<g transform="translate(217.4,538.5) rotate(4.4) scale(1,1.027)"><use href="#ear" transform="translate(17.0,29) rotate(25)"/><use href="#ms" transform="scale(1.03,1)"/></g>
<path d="M263.5,542.0 L283.5,542.0 L280.5,549.8 L266.5,549.8 Z" fill="url(#cone)"/>
<g transform="translate(273.5,538.5) rotate(0.9) scale(1,1.027)"><use href="#ear" transform="translate(-17.0,29) rotate(-25)"/><use href="#ms" transform="scale(1.04,1)"/></g>
<path d="M319.6,542.0 L339.6,542.0 L336.6,549.8 L322.6,549.8 Z" fill="url(#cone)"/>
<g transform="translate(329.6,538.5) rotate(5.3) scale(1,1.027)"><use href="#ear" transform="translate(-17.0,29) rotate(-25)"/><use href="#ms" transform="scale(0.97,1)"/></g>
<ellipse cx="95.5" cy="612.4" rx="10.67" ry="12.10" fill="#5a00ff"/>
<ellipse cx="95.5" cy="612.4" rx="9.85" ry="11.17" fill="#0010ff"/>
<ellipse cx="95.5" cy="612.4" rx="9.02" ry="10.23" fill="#00e8ff"/>
<ellipse cx="95.5" cy="612.4" rx="8.20" ry="9.30" fill="#00ff30"/>
<ellipse cx="95.5" cy="612.4" rx="7.46" ry="8.46" fill="#fff000"/>
<ellipse cx="95.5" cy="612.4" rx="6.89" ry="7.81" fill="#ff0000"/>
<ellipse cx="158.6" cy="609.8" rx="8.73" ry="9.90" fill="#5a00ff"/>
<ellipse cx="158.6" cy="609.8" rx="8.00" ry="9.08" fill="#0010ff"/>
<ellipse cx="158.6" cy="609.8" rx="7.27" ry="8.25" fill="#00e8ff"/>
<ellipse cx="158.6" cy="609.8" rx="6.55" ry="7.43" fill="#00ff30"/>
<ellipse cx="158.6" cy="609.8" rx="5.89" ry="6.68" fill="#fff000"/>
<ellipse cx="158.6" cy="609.8" rx="5.38" ry="6.11" fill="#ff0000"/>
<ellipse cx="213.4" cy="603.0" rx="9.21" ry="10.45" fill="#5a00ff"/>
<ellipse cx="213.4" cy="603.0" rx="8.49" ry="9.62" fill="#0010ff"/>
<ellipse cx="213.4" cy="603.0" rx="7.76" ry="8.80" fill="#00e8ff"/>
<ellipse cx="213.4" cy="603.0" rx="7.03" ry="7.98" fill="#00ff30"/>
<ellipse cx="213.4" cy="603.0" rx="6.38" ry="7.23" fill="#fff000"/>
<ellipse cx="213.4" cy="603.0" rx="5.87" ry="6.66" fill="#ff0000"/>
<ellipse cx="273.9" cy="609.8" rx="8.73" ry="9.90" fill="#5a00ff"/>
<ellipse cx="273.9" cy="609.8" rx="8.00" ry="9.08" fill="#0010ff"/>
<ellipse cx="273.9" cy="609.8" rx="7.27" ry="8.25" fill="#00e8ff"/>
<ellipse cx="273.9" cy="609.8" rx="6.55" ry="7.43" fill="#00ff30"/>
<ellipse cx="273.9" cy="609.8" rx="5.89" ry="6.68" fill="#fff000"/>
<ellipse cx="273.9" cy="609.8" rx="5.38" ry="6.11" fill="#ff0000"/>
<ellipse cx="327.2" cy="612.4" rx="8.73" ry="9.90" fill="#5a00ff"/>
<ellipse cx="327.2" cy="612.4" rx="8.00" ry="9.08" fill="#0010ff"/>
<ellipse cx="327.2" cy="612.4" rx="7.27" ry="8.25" fill="#00e8ff"/>
<ellipse cx="327.2" cy="612.4" rx="6.55" ry="7.43" fill="#00ff30"/>
<ellipse cx="327.2" cy="612.4" rx="5.89" ry="6.68" fill="#fff000"/>
<ellipse cx="327.2" cy="612.4" rx="5.38" ry="6.11" fill="#ff0000"/>
<circle cx="314.0" cy="612.0" r="4.0" fill="#4a00ff"/>
<circle cx="314.0" cy="612.0" r="2.2" fill="#0028ff"/>
</g>
<clipPath id="cp2_14"><rect x="360.6" y="542.0" width="273.3" height="106.4"/></clipPath>
<g clip-path="url(#cp2_14)">
<rect x="360.6" y="542.0" width="273.3" height="106.4" fill="#4f4f4f"/>
<rect x="360.6" y="542.0" width="273.3" height="7.8" fill="#3e3e3e"/>
<rect x="362.6" y="542.0" width="6.0" height="7.8" fill="#141414"/>
<rect x="400.6" y="542.0" width="6.0" height="7.8" fill="#141414"/>
<rect x="418.7" y="542.0" width="6.0" height="7.8" fill="#141414"/>
<rect x="456.7" y="542.0" width="6.0" height="7.8" fill="#141414"/>
<rect x="474.8" y="542.0" width="6.0" height="7.8" fill="#141414"/>
<rect x="512.8" y="542.0" width="6.0" height="7.8" fill="#141414"/>
<rect x="530.9" y="542.0" width="6.0" height="7.8" fill="#141414"/>
<rect x="568.9" y="542.0" width="6.0" height="7.8" fill="#141414"/>
<rect x="587.0" y="542.0" width="6.0" height="7.8" fill="#141414"/>
<rect x="625.0" y="542.0" width="6.0" height="7.8" fill="#141414"/>
<path d="M374.6,542.0 L394.6,542.0 L391.6,549.8 L377.6,549.8 Z" fill="url(#cone)"/>
<g transform="translate(384.6,538.5) rotate(1.5) scale(1,1.027)"><use href="#ear" transform="translate(17.0,29) rotate(25)"/><use href="#ms" transform="scale(1.00,1)"/></g>
<path d="M430.7,542.0 L450.7,542.0 L447.7,549.8 L433.7,549.8 Z" fill="url(#cone)"/>
<g transform="translate(440.7,538.5) rotate(-1.0) scale(1,1.027)"><use href="#ear" transform="translate(17.0,29) rotate(25)"/><use href="#ms" transform="scale(1.00,1)"/></g>
<path d="M486.8,542.0 L506.8,542.0 L503.8,549.8 L489.8,549.8 Z" fill="url(#cone)"/>
<g transform="translate(496.8,538.5) rotate(-3.3) scale(1,1.027)"><use href="#ear" transform="translate(-17.0,29) rotate(-25)"/><use href="#ms" transform="scale(0.98,1)"/></g>
<path d="M542.9,542.0 L562.9,542.0 L559.9,549.8 L545.9,549.8 Z" fill="url(#cone)"/>
<g transform="translate(552.9,538.5) rotate(5.6) scale(1,1.027)"><use href="#ear" transform="translate(17.0,29) rotate(25)"/><use href="#ms" transform="scale(1.03,1)"/></g>
<path d="M599.0,542.0 L619.0,542.0 L616.0,549.8 L602.0,549.8 Z" fill="url(#cone)"/>
<g transform="translate(609.0,538.5) rotate(8.1) scale(1,1.027)"><use href="#ear" transform="translate(-17.0,29) rotate(-25)"/><use href="#ms" transform="scale(1.04,1)"/></g>
<ellipse cx="382.5" cy="615.0" rx="12.61" ry="14.30" fill="#5a00ff"/>
<ellipse cx="382.5" cy="615.0" rx="11.66" ry="13.22" fill="#0010ff"/>
<ellipse cx="382.5" cy="615.0" rx="10.70" ry="12.14" fill="#00e8ff"/>
<ellipse cx="382.5" cy="615.0" rx="9.75" ry="11.05" fill="#00ff30"/>
<ellipse cx="382.5" cy="615.0" rx="8.89" ry="10.08" fill="#fff000"/>
<ellipse cx="382.5" cy="615.0" rx="8.22" ry="9.32" fill="#ff0000"/>
<ellipse cx="441.0" cy="605.7" rx="10.19" ry="11.55" fill="#5a00ff"/>
<ellipse cx="441.0" cy="605.7" rx="9.40" ry="10.65" fill="#0010ff"/>
<ellipse cx="441.0" cy="605.7" rx="8.61" ry="9.76" fill="#00e8ff"/>
<ellipse cx="441.0" cy="605.7" rx="7.82" ry="8.86" fill="#00ff30"/>
<ellipse cx="441.0" cy="605.7" rx="7.11" ry="8.06" fill="#fff000"/>
<ellipse cx="441.0" cy="605.7" rx="6.55" ry="7.43" fill="#ff0000"/>
<ellipse cx="498.8" cy="608.8" rx="10.67" ry="12.10" fill="#5a00ff"/>
<ellipse cx="498.8" cy="608.8" rx="9.85" ry="11.17" fill="#0010ff"/>
<ellipse cx="498.8" cy="608.8" rx="9.02" ry="10.23" fill="#00e8ff"/>
<ellipse cx="498.8" cy="608.8" rx="8.20" ry="9.30" fill="#00ff30"/>
<ellipse cx="498.8" cy="608.8" rx="7.46" ry="8.46" fill="#fff000"/>
<ellipse cx="498.8" cy="608.8" rx="6.89" ry="7.81" fill="#ff0000"/>
<ellipse cx="542.8" cy="616.0" rx="10.67" ry="12.10" fill="#5a00ff"/>
<ellipse cx="542.8" cy="616.0" rx="9.85" ry="11.17" fill="#0010ff"/>
<ellipse cx="542.8" cy="616.0" rx="9.02" ry="10.23" fill="#00e8ff"/>
<ellipse cx="542.8" cy="616.0" rx="8.20" ry="9.30" fill="#00ff30"/>
<ellipse cx="542.8" cy="616.0" rx="7.46" ry="8.46" fill="#fff000"/>
<ellipse cx="542.8" cy="616.0" rx="6.89" ry="7.81" fill="#ff0000"/>
<ellipse cx="601.2" cy="611.4" rx="11.64" ry="13.20" fill="#5a00ff"/>
<ellipse cx="601.2" cy="611.4" rx="10.75" ry="12.19" fill="#0010ff"/>
<ellipse cx="601.2" cy="611.4" rx="9.86" ry="11.18" fill="#00e8ff"/>
<ellipse cx="601.2" cy="611.4" rx="8.97" ry="10.18" fill="#00ff30"/>
<ellipse cx="601.2" cy="611.4" rx="8.17" ry="9.27" fill="#fff000"/>
<ellipse cx="601.2" cy="611.4" rx="7.55" ry="8.57" fill="#ff0000"/>
</g>
<clipPath id="cp3_14"><rect x="640.1" y="542.0" width="272.6" height="106.4"/></clipPath>
<g clip-path="url(#cp3_14)">
<rect x="640.1" y="542.0" width="272.6" height="106.4" fill="#4f4f4f"/>
<rect x="640.1" y="542.0" width="272.6" height="7.8" fill="#3e3e3e"/>
<rect x="642.1" y="542.0" width="6.0" height="7.8" fill="#141414"/>
<rect x="680.1" y="542.0" width="6.0" height="7.8" fill="#141414"/>
<rect x="698.2" y="542.0" width="6.0" height="7.8" fill="#141414"/>
<rect x="736.2" y="542.0" width="6.0" height="7.8" fill="#141414"/>
<rect x="754.3" y="542.0" width="6.0" height="7.8" fill="#141414"/>
<rect x="792.3" y="542.0" width="6.0" height="7.8" fill="#141414"/>
<rect x="810.4" y="542.0" width="6.0" height="7.8" fill="#141414"/>
<rect x="848.4" y="542.0" width="6.0" height="7.8" fill="#141414"/>
<rect x="866.5" y="542.0" width="6.0" height="7.8" fill="#141414"/>
<rect x="904.5" y="542.0" width="6.0" height="7.8" fill="#141414"/>
<path d="M654.1,542.0 L674.1,542.0 L671.1,549.8 L657.1,549.8 Z" fill="url(#cone)"/>
<g transform="translate(664.1,538.5) rotate(5.4) scale(1,1.027)"><use href="#ear" transform="translate(17.0,29) rotate(25)"/><use href="#ms" transform="scale(0.97,1)"/></g>
<path d="M710.2,542.0 L730.2,542.0 L727.2,549.8 L713.2,549.8 Z" fill="url(#cone)"/>
<g transform="translate(720.2,538.5) rotate(-0.3) scale(1,1.027)"><use href="#ear" transform="translate(17.0,29) rotate(25)"/><use href="#ms" transform="scale(0.98,1)"/></g>
<path d="M766.3,542.0 L786.3,542.0 L783.3,549.8 L769.3,549.8 Z" fill="url(#cone)"/>
<g transform="translate(776.3,538.5) rotate(-1.4) scale(1,1.027)"><use href="#ear" transform="translate(-17.0,29) rotate(-25)"/><use href="#ms" transform="scale(1.00,1)"/></g>
<path d="M822.4,542.0 L842.4,542.0 L839.4,549.8 L825.4,549.8 Z" fill="url(#cone)"/>
<g transform="translate(832.4,538.5) rotate(1.2) scale(1,1.027)"><use href="#ear" transform="translate(17.0,29) rotate(25)"/><use href="#ms" transform="scale(0.97,1)"/></g>
<path d="M878.5,542.0 L898.5,542.0 L895.5,549.8 L881.5,549.8 Z" fill="url(#cone)"/>
<g transform="translate(888.5,538.5) rotate(2.6) scale(1,1.027)"><use href="#ear" transform="translate(17.0,29) rotate(25)"/><use href="#ms" transform="scale(0.98,1)"/></g>
<ellipse cx="659.0" cy="603.6" rx="12.61" ry="14.30" fill="#5a00ff"/>
<ellipse cx="659.0" cy="603.6" rx="11.66" ry="13.22" fill="#0010ff"/>
<ellipse cx="659.0" cy="603.6" rx="10.70" ry="12.14" fill="#00e8ff"/>
<ellipse cx="659.0" cy="603.6" rx="9.75" ry="11.05" fill="#00ff30"/>
<ellipse cx="659.0" cy="603.6" rx="8.89" ry="10.08" fill="#fff000"/>
<ellipse cx="659.0" cy="603.6" rx="8.22" ry="9.32" fill="#ff0000"/>
<ellipse cx="725.3" cy="617.6" rx="7.76" ry="8.80" fill="#5a00ff"/>
<ellipse cx="725.3" cy="617.6" rx="7.03" ry="7.98" fill="#0010ff"/>
<ellipse cx="725.3" cy="617.6" rx="6.30" ry="7.15" fill="#00e8ff"/>
<ellipse cx="725.3" cy="617.6" rx="5.58" ry="6.33" fill="#00ff30"/>
<ellipse cx="725.3" cy="617.6" rx="4.92" ry="5.58" fill="#fff000"/>
<ellipse cx="725.3" cy="617.6" rx="4.41" ry="5.01" fill="#ff0000"/>
<ellipse cx="770.3" cy="614.0" rx="4.85" ry="5.50" fill="#5a00ff"/>
<ellipse cx="770.3" cy="614.0" rx="4.07" ry="4.62" fill="#0010ff"/>
<ellipse cx="770.3" cy="614.0" rx="3.30" ry="3.74" fill="#00e8ff"/>
<ellipse cx="770.3" cy="614.0" rx="1.86" ry="2.11" fill="#00ff30"/>
<ellipse cx="787.3" cy="606.0" rx="7.76" ry="8.80" fill="#5a00ff"/>
<ellipse cx="787.3" cy="606.0" rx="7.03" ry="7.98" fill="#0010ff"/>
<ellipse cx="787.3" cy="606.0" rx="6.30" ry="7.15" fill="#00e8ff"/>
<ellipse cx="787.3" cy="606.0" rx="5.58" ry="6.33" fill="#00ff30"/>
<ellipse cx="787.3" cy="606.0" rx="4.92" ry="5.58" fill="#fff000"/>
<ellipse cx="787.3" cy="606.0" rx="4.41" ry="5.01" fill="#ff0000"/>
<ellipse cx="830.8" cy="617.6" rx="10.67" ry="12.10" fill="#5a00ff"/>
<ellipse cx="830.8" cy="617.6" rx="9.85" ry="11.17" fill="#0010ff"/>
<ellipse cx="830.8" cy="617.6" rx="9.02" ry="10.23" fill="#00e8ff"/>
<ellipse cx="830.8" cy="617.6" rx="8.20" ry="9.30" fill="#00ff30"/>
<ellipse cx="830.8" cy="617.6" rx="7.46" ry="8.46" fill="#fff000"/>
<ellipse cx="830.8" cy="617.6" rx="6.89" ry="7.81" fill="#ff0000"/>
<ellipse cx="886.6" cy="614.0" rx="8.73" ry="9.90" fill="#5a00ff"/>
<ellipse cx="886.6" cy="614.0" rx="7.68" ry="8.71" fill="#0010ff"/>
<ellipse cx="886.6" cy="614.0" rx="6.63" ry="7.52" fill="#00e8ff"/>
<ellipse cx="886.6" cy="614.0" rx="5.59" ry="6.34" fill="#00ff30"/>
<ellipse cx="886.6" cy="614.0" rx="4.33" ry="4.91" fill="#fff000"/>
<ellipse cx="886.6" cy="614.0" rx="2.60" ry="2.95" fill="#ff0000"/>
</g>
<clipPath id="cp4_14"><rect x="919.2" y="542.0" width="272.7" height="106.4"/></clipPath>
<g clip-path="url(#cp4_14)">
<rect x="919.2" y="542.0" width="272.7" height="106.4" fill="#4f4f4f"/>
<rect x="919.2" y="542.0" width="272.7" height="7.8" fill="#3e3e3e"/>
<rect x="921.2" y="542.0" width="6.0" height="7.8" fill="#141414"/>
<rect x="959.2" y="542.0" width="6.0" height="7.8" fill="#141414"/>
<rect x="977.3" y="542.0" width="6.0" height="7.8" fill="#141414"/>
<rect x="1015.3" y="542.0" width="6.0" height="7.8" fill="#141414"/>
<rect x="1033.4" y="542.0" width="6.0" height="7.8" fill="#141414"/>
<rect x="1071.4" y="542.0" width="6.0" height="7.8" fill="#141414"/>
<rect x="1089.5" y="542.0" width="6.0" height="7.8" fill="#141414"/>
<rect x="1127.5" y="542.0" width="6.0" height="7.8" fill="#141414"/>
<rect x="1145.6" y="542.0" width="6.0" height="7.8" fill="#141414"/>
<rect x="1183.6" y="542.0" width="6.0" height="7.8" fill="#141414"/>
<path d="M933.2,542.0 L953.2,542.0 L950.2,549.8 L936.2,549.8 Z" fill="url(#cone)"/>
<g transform="translate(943.2,538.5) rotate(-2.7) scale(1,1.027)"><use href="#ear" transform="translate(-17.0,29) rotate(-25)"/><use href="#ms" transform="scale(0.99,1)"/></g>
<path d="M989.3,542.0 L1009.3,542.0 L1006.3,549.8 L992.3,549.8 Z" fill="url(#cone)"/>
<g transform="translate(999.3,538.5) rotate(1.9) scale(1,1.027)"><use href="#ear" transform="translate(17.0,29) rotate(25)"/><use href="#ms" transform="scale(0.98,1)"/></g>
<path d="M1045.4,542.0 L1065.4,542.0 L1062.4,549.8 L1048.4,549.8 Z" fill="url(#cone)"/>
<g transform="translate(1055.4,538.5) rotate(0.8) scale(1,1.027)"><use href="#ear" transform="translate(17.0,29) rotate(25)"/><use href="#ms" transform="scale(0.99,1)"/></g>
<path d="M1101.5,542.0 L1121.5,542.0 L1118.5,549.8 L1104.5,549.8 Z" fill="url(#cone)"/>
<g transform="translate(1111.5,538.5) rotate(-4.4) scale(1,1.027)"><use href="#ear" transform="translate(-17.0,29) rotate(-25)"/><use href="#ms" transform="scale(1.05,1)"/></g>
<path d="M1157.6,542.0 L1177.6,542.0 L1174.6,549.8 L1160.6,549.8 Z" fill="url(#cone)"/>
<g transform="translate(1167.6,538.5) rotate(-0.6) scale(1,1.027)"><use href="#ear" transform="translate(-17.0,29) rotate(-25)"/><use href="#ms" transform="scale(0.99,1)"/></g>
<ellipse cx="946.2" cy="596.1" rx="11.64" ry="13.20" fill="#5a00ff"/>
<ellipse cx="946.2" cy="596.1" rx="10.75" ry="12.19" fill="#0010ff"/>
<ellipse cx="946.2" cy="596.1" rx="9.86" ry="11.18" fill="#00e8ff"/>
<ellipse cx="946.2" cy="596.1" rx="8.97" ry="10.18" fill="#00ff30"/>
<ellipse cx="946.2" cy="596.1" rx="8.17" ry="9.27" fill="#fff000"/>
<ellipse cx="946.2" cy="596.1" rx="7.55" ry="8.57" fill="#ff0000"/>
<ellipse cx="992.9" cy="607.5" rx="10.19" ry="11.55" fill="#5a00ff"/>
<ellipse cx="992.9" cy="607.5" rx="9.40" ry="10.65" fill="#0010ff"/>
<ellipse cx="992.9" cy="607.5" rx="8.61" ry="9.76" fill="#00e8ff"/>
<ellipse cx="992.9" cy="607.5" rx="7.82" ry="8.86" fill="#00ff30"/>
<ellipse cx="992.9" cy="607.5" rx="7.11" ry="8.06" fill="#fff000"/>
<ellipse cx="992.9" cy="607.5" rx="6.55" ry="7.43" fill="#ff0000"/>
<ellipse cx="1051.1" cy="610.1" rx="10.19" ry="11.55" fill="#5a00ff"/>
<ellipse cx="1051.1" cy="610.1" rx="9.40" ry="10.65" fill="#0010ff"/>
<ellipse cx="1051.1" cy="610.1" rx="8.61" ry="9.76" fill="#00e8ff"/>
<ellipse cx="1051.1" cy="610.1" rx="7.82" ry="8.86" fill="#00ff30"/>
<ellipse cx="1051.1" cy="610.1" rx="7.11" ry="8.06" fill="#fff000"/>
<ellipse cx="1051.1" cy="610.1" rx="6.55" ry="7.43" fill="#ff0000"/>
<ellipse cx="1120.2" cy="611.7" rx="8.24" ry="9.35" fill="#5a00ff"/>
<ellipse cx="1120.2" cy="611.7" rx="7.26" ry="8.23" fill="#0010ff"/>
<ellipse cx="1120.2" cy="611.7" rx="6.27" ry="7.11" fill="#00e8ff"/>
<ellipse cx="1120.2" cy="611.7" rx="3.54" ry="4.02" fill="#00ff30"/>
<ellipse cx="1165.9" cy="610.1" rx="8.73" ry="9.90" fill="#5a00ff"/>
<ellipse cx="1165.9" cy="610.1" rx="8.00" ry="9.08" fill="#0010ff"/>
<ellipse cx="1165.9" cy="610.1" rx="7.27" ry="8.25" fill="#00e8ff"/>
<ellipse cx="1165.9" cy="610.1" rx="6.55" ry="7.43" fill="#00ff30"/>
<ellipse cx="1165.9" cy="610.1" rx="5.89" ry="6.68" fill="#fff000"/>
<ellipse cx="1165.9" cy="610.1" rx="5.38" ry="6.11" fill="#ff0000"/>
</g>
<clipPath id="cp5_14"><rect x="1198.3" y="542.0" width="272.7" height="106.4"/></clipPath>
<g clip-path="url(#cp5_14)">
<rect x="1198.3" y="542.0" width="272.7" height="106.4" fill="#4f4f4f"/>
<rect x="1198.3" y="542.0" width="272.7" height="7.8" fill="#3e3e3e"/>
<rect x="1200.3" y="542.0" width="6.0" height="7.8" fill="#141414"/>
<rect x="1238.3" y="542.0" width="6.0" height="7.8" fill="#141414"/>
<rect x="1256.4" y="542.0" width="6.0" height="7.8" fill="#141414"/>
<rect x="1294.4" y="542.0" width="6.0" height="7.8" fill="#141414"/>
<rect x="1312.5" y="542.0" width="6.0" height="7.8" fill="#141414"/>
<rect x="1350.5" y="542.0" width="6.0" height="7.8" fill="#141414"/>
<rect x="1368.6" y="542.0" width="6.0" height="7.8" fill="#141414"/>
<rect x="1406.6" y="542.0" width="6.0" height="7.8" fill="#141414"/>
<rect x="1424.7" y="542.0" width="6.0" height="7.8" fill="#141414"/>
<rect x="1462.7" y="542.0" width="6.0" height="7.8" fill="#141414"/>
<path d="M1212.3,542.0 L1232.3,542.0 L1229.3,549.8 L1215.3,549.8 Z" fill="url(#cone)"/>
<g transform="translate(1222.3,538.5) rotate(-4.6) scale(1,1.027)"><use href="#ear" transform="translate(17.0,29) rotate(25)"/><use href="#ms" transform="scale(1.02,1)"/></g>
<path d="M1268.4,542.0 L1288.4,542.0 L1285.4,549.8 L1271.4,549.8 Z" fill="url(#cone)"/>
<g transform="translate(1278.4,538.5) rotate(1.9) scale(1,1.027)"><use href="#ear" transform="translate(17.0,29) rotate(25)"/><use href="#ms" transform="scale(1.02,1)"/></g>
<path d="M1324.5,542.0 L1344.5,542.0 L1341.5,549.8 L1327.5,549.8 Z" fill="url(#cone)"/>
<g transform="translate(1334.5,538.5) rotate(3.3) scale(1,1.027)"><use href="#ear" transform="translate(17.0,29) rotate(25)"/><use href="#ms" transform="scale(0.99,1)"/></g>
<path d="M1380.6,542.0 L1400.6,542.0 L1397.6,549.8 L1383.6,549.8 Z" fill="url(#cone)"/>
<g transform="translate(1390.6,538.5) rotate(3.4) scale(1,1.027)"><use href="#ear" transform="translate(-17.0,29) rotate(-25)"/><use href="#ms" transform="scale(0.96,1)"/></g>
<path d="M1436.7,542.0 L1456.7,542.0 L1453.7,549.8 L1439.7,549.8 Z" fill="url(#cone)"/>
<g transform="translate(1446.7,538.5) rotate(4.8) scale(1,1.027)"><use href="#ear" transform="translate(17.0,29) rotate(25)"/><use href="#ms" transform="scale(1.04,1)"/></g>
<ellipse cx="1226.7" cy="617.9" rx="5.33" ry="6.05" fill="#5a00ff"/>
<ellipse cx="1226.7" cy="617.9" rx="4.56" ry="5.17" fill="#0010ff"/>
<ellipse cx="1226.7" cy="617.9" rx="3.78" ry="4.29" fill="#00e8ff"/>
<ellipse cx="1226.7" cy="617.9" rx="3.01" ry="3.41" fill="#00ff30"/>
<ellipse cx="1226.7" cy="617.9" rx="2.08" ry="2.35" fill="#fff000"/>
<ellipse cx="1226.7" cy="617.9" rx="1.25" ry="1.41" fill="#ff0000"/>
<ellipse cx="1267.2" cy="616.4" rx="5.33" ry="6.05" fill="#5a00ff"/>
<ellipse cx="1267.2" cy="616.4" rx="4.61" ry="5.23" fill="#0010ff"/>
<ellipse cx="1267.2" cy="616.4" rx="3.88" ry="4.40" fill="#00e8ff"/>
<ellipse cx="1267.2" cy="616.4" rx="3.15" ry="3.58" fill="#00ff30"/>
<ellipse cx="1267.2" cy="616.4" rx="2.50" ry="2.83" fill="#fff000"/>
<ellipse cx="1267.2" cy="616.4" rx="1.99" ry="2.26" fill="#ff0000"/>
<ellipse cx="1326.4" cy="619.0" rx="6.79" ry="7.70" fill="#5a00ff"/>
<ellipse cx="1326.4" cy="619.0" rx="6.06" ry="6.88" fill="#0010ff"/>
<ellipse cx="1326.4" cy="619.0" rx="5.33" ry="6.05" fill="#00e8ff"/>
<ellipse cx="1326.4" cy="619.0" rx="4.61" ry="5.23" fill="#00ff30"/>
<ellipse cx="1326.4" cy="619.0" rx="3.95" ry="4.48" fill="#fff000"/>
<ellipse cx="1326.4" cy="619.0" rx="3.44" ry="3.91" fill="#ff0000"/>
<ellipse cx="1388.8" cy="616.4" rx="5.82" ry="6.60" fill="#5a00ff"/>
<ellipse cx="1388.8" cy="616.4" rx="5.04" ry="5.72" fill="#0010ff"/>
<ellipse cx="1388.8" cy="616.4" rx="4.27" ry="4.84" fill="#00e8ff"/>
<ellipse cx="1388.8" cy="616.4" rx="3.49" ry="3.96" fill="#00ff30"/>
<ellipse cx="1388.8" cy="616.4" rx="2.56" ry="2.90" fill="#fff000"/>
<ellipse cx="1388.8" cy="616.4" rx="1.54" ry="1.74" fill="#ff0000"/>
<ellipse cx="1440.7" cy="611.7" rx="6.30" ry="7.15" fill="#5a00ff"/>
<ellipse cx="1440.7" cy="611.7" rx="5.58" ry="6.33" fill="#0010ff"/>
<ellipse cx="1440.7" cy="611.7" rx="4.85" ry="5.50" fill="#00e8ff"/>
<ellipse cx="1440.7" cy="611.7" rx="4.12" ry="4.68" fill="#00ff30"/>
<ellipse cx="1440.7" cy="611.7" rx="3.47" ry="3.93" fill="#fff000"/>
<ellipse cx="1440.7" cy="611.7" rx="2.96" ry="3.36" fill="#ff0000"/>
</g>
<clipPath id="cp6_14"><rect x="1477.6" y="542.0" width="273.4" height="106.4"/></clipPath>
<g clip-path="url(#cp6_14)">
<rect x="1477.6" y="542.0" width="273.4" height="106.4" fill="#4f4f4f"/>
<rect x="1477.6" y="542.0" width="273.4" height="7.8" fill="#3e3e3e"/>
<rect x="1479.6" y="542.0" width="6.0" height="7.8" fill="#141414"/>
<rect x="1517.6" y="542.0" width="6.0" height="7.8" fill="#141414"/>
<rect x="1535.7" y="542.0" width="6.0" height="7.8" fill="#141414"/>
<rect x="1573.7" y="542.0" width="6.0" height="7.8" fill="#141414"/>
<rect x="1591.8" y="542.0" width="6.0" height="7.8" fill="#141414"/>
<rect x="1629.8" y="542.0" width="6.0" height="7.8" fill="#141414"/>
<rect x="1647.9" y="542.0" width="6.0" height="7.8" fill="#141414"/>
<rect x="1685.9" y="542.0" width="6.0" height="7.8" fill="#141414"/>
<rect x="1704.0" y="542.0" width="6.0" height="7.8" fill="#141414"/>
<rect x="1742.0" y="542.0" width="6.0" height="7.8" fill="#141414"/>
<path d="M1491.6,542.0 L1511.6,542.0 L1508.6,549.8 L1494.6,549.8 Z" fill="url(#cone)"/>
<g transform="translate(1501.6,538.5) rotate(1.6) scale(1,1.027)"><use href="#ear" transform="translate(17.0,29) rotate(25)"/><use href="#ms" transform="scale(1.02,1)"/></g>
<path d="M1547.7,542.0 L1567.7,542.0 L1564.7,549.8 L1550.7,549.8 Z" fill="url(#cone)"/>
<g transform="translate(1557.7,538.5) rotate(3.5) scale(1,1.027)"><use href="#ear" transform="translate(17.0,29) rotate(25)"/><use href="#ms" transform="scale(1.02,1)"/></g>
<path d="M1603.8,542.0 L1623.8,542.0 L1620.8,549.8 L1606.8,549.8 Z" fill="url(#cone)"/>
<g transform="translate(1613.8,538.5) rotate(-1.2) scale(1,1.027)"><use href="#ear" transform="translate(17.0,29) rotate(25)"/><use href="#ms" transform="scale(1.05,1)"/></g>
<path d="M1659.9,542.0 L1679.9,542.0 L1676.9,549.8 L1662.9,549.8 Z" fill="url(#cone)"/>
<g transform="translate(1669.9,538.5) rotate(0.6) scale(1,1.027)"><use href="#ear" transform="translate(17.0,29) rotate(25)"/><use href="#ms" transform="scale(1.06,1)"/></g>
<path d="M1716.0,542.0 L1736.0,542.0 L1733.0,549.8 L1719.0,549.8 Z" fill="url(#cone)"/>
<g transform="translate(1726.0,538.5) rotate(2.8) scale(1,1.027)"><use href="#ear" transform="translate(-17.0,29) rotate(-25)"/><use href="#ms" transform="scale(1.00,1)"/></g>
<circle cx="1608.5" cy="607.5" r="3.5" fill="#4a00ff"/>
<circle cx="1608.5" cy="607.5" r="1.9" fill="#0028ff"/>
</g>
<clipPath id="cp1_21"><rect x="81.2" y="656.0" width="273.4" height="106.7"/></clipPath>
<g clip-path="url(#cp1_21)">
<rect x="81.2" y="656.0" width="273.4" height="106.7" fill="#4f4f4f"/>
<rect x="81.2" y="656.0" width="273.4" height="13.0" fill="#3e3e3e"/>
<rect x="89.2" y="656.0" width="32" height="13" fill="url(#cyl)"/>
<rect x="103.9" y="656.0" width="2.6" height="13.0" fill="#ececec"/>
<rect x="83.2" y="656.0" width="6.0" height="13.0" fill="#141414"/>
<rect x="121.2" y="656.0" width="6.0" height="13.0" fill="#141414"/>
<rect x="145.3" y="656.0" width="32" height="13" fill="url(#cyl)"/>
<rect x="160.0" y="656.0" width="2.6" height="13.0" fill="#ececec"/>
<rect x="139.3" y="656.0" width="6.0" height="13.0" fill="#141414"/>
<rect x="177.3" y="656.0" width="6.0" height="13.0" fill="#141414"/>
<rect x="201.4" y="656.0" width="32" height="13" fill="url(#cyl)"/>
<rect x="216.1" y="656.0" width="2.6" height="13.0" fill="#ececec"/>
<rect x="195.4" y="656.0" width="6.0" height="13.0" fill="#141414"/>
<rect x="233.4" y="656.0" width="6.0" height="13.0" fill="#141414"/>
<rect x="257.5" y="656.0" width="32" height="13" fill="url(#cyl)"/>
<rect x="272.2" y="656.0" width="2.6" height="13.0" fill="#ececec"/>
<rect x="251.5" y="656.0" width="6.0" height="13.0" fill="#141414"/>
<rect x="289.5" y="656.0" width="6.0" height="13.0" fill="#141414"/>
<rect x="313.6" y="656.0" width="32" height="13" fill="url(#cyl)"/>
<rect x="328.3" y="656.0" width="2.6" height="13.0" fill="#ececec"/>
<rect x="307.6" y="656.0" width="6.0" height="13.0" fill="#141414"/>
<rect x="345.6" y="656.0" width="6.0" height="13.0" fill="#141414"/>
<path d="M151.3,656.0 L171.3,656.0 L168.3,669.0 L154.3,669.0 Z" fill="url(#cone)"/>
<g transform="translate(161.3,658.3) rotate(8.8) scale(1,0.976)"><use href="#ear" transform="translate(17.0,29) rotate(25)"/><use href="#ms" transform="scale(1.02,1)"/></g>
<path d="M207.4,656.0 L227.4,656.0 L224.4,669.0 L210.4,669.0 Z" fill="url(#cone)"/>
<g transform="translate(217.4,658.3) rotate(4.2) scale(1,0.976)"><use href="#ear" transform="translate(17.0,29) rotate(25)"/><use href="#ms" transform="scale(1.02,1)"/></g>
<path d="M263.5,656.0 L283.5,656.0 L280.5,669.0 L266.5,669.0 Z" fill="url(#cone)"/>
<g transform="translate(273.5,658.3) rotate(3.5) scale(1,0.976)"><use href="#ear" transform="translate(-17.0,29) rotate(-25)"/><use href="#ms" transform="scale(0.99,1)"/></g>
<path d="M319.6,656.0 L339.6,656.0 L336.6,669.0 L322.6,669.0 Z" fill="url(#cone)"/>
<g transform="translate(329.6,658.3) rotate(2.9) scale(1,0.976)"><use href="#ear" transform="translate(-17.0,29) rotate(-25)"/><use href="#ms" transform="scale(1.03,1)"/></g>
<ellipse cx="148.8" cy="721.0" rx="8.24" ry="9.35" fill="#5a00ff"/>
<ellipse cx="148.8" cy="721.0" rx="7.52" ry="8.53" fill="#0010ff"/>
<ellipse cx="148.8" cy="721.0" rx="6.79" ry="7.70" fill="#00e8ff"/>
<ellipse cx="148.8" cy="721.0" rx="6.06" ry="6.88" fill="#00ff30"/>
<ellipse cx="148.8" cy="721.0" rx="5.41" ry="6.13" fill="#fff000"/>
<ellipse cx="148.8" cy="721.0" rx="4.90" ry="5.56" fill="#ff0000"/>
<ellipse cx="215.5" cy="713.7" rx="8.73" ry="9.90" fill="#5a00ff"/>
<ellipse cx="215.5" cy="713.7" rx="8.00" ry="9.08" fill="#0010ff"/>
<ellipse cx="215.5" cy="713.7" rx="7.27" ry="8.25" fill="#00e8ff"/>
<ellipse cx="215.5" cy="713.7" rx="6.55" ry="7.43" fill="#00ff30"/>
<ellipse cx="215.5" cy="713.7" rx="5.89" ry="6.68" fill="#fff000"/>
<ellipse cx="215.5" cy="713.7" rx="5.38" ry="6.11" fill="#ff0000"/>
<ellipse cx="275.5" cy="717.9" rx="8.24" ry="9.35" fill="#5a00ff"/>
<ellipse cx="275.5" cy="717.9" rx="7.52" ry="8.53" fill="#0010ff"/>
<ellipse cx="275.5" cy="717.9" rx="6.79" ry="7.70" fill="#00e8ff"/>
<ellipse cx="275.5" cy="717.9" rx="6.06" ry="6.88" fill="#00ff30"/>
<ellipse cx="275.5" cy="717.9" rx="5.41" ry="6.13" fill="#fff000"/>
<ellipse cx="275.5" cy="717.9" rx="4.90" ry="5.56" fill="#ff0000"/>
<ellipse cx="331.8" cy="722.5" rx="8.73" ry="9.90" fill="#5a00ff"/>
<ellipse cx="331.8" cy="722.5" rx="8.00" ry="9.08" fill="#0010ff"/>
<ellipse cx="331.8" cy="722.5" rx="7.27" ry="8.25" fill="#00e8ff"/>
<ellipse cx="331.8" cy="722.5" rx="6.55" ry="7.43" fill="#00ff30"/>
<ellipse cx="331.8" cy="722.5" rx="5.89" ry="6.68" fill="#fff000"/>
<ellipse cx="331.8" cy="722.5" rx="5.38" ry="6.11" fill="#ff0000"/>
<circle cx="318.0" cy="722.0" r="4.5" fill="#4a00ff"/>
<circle cx="318.0" cy="722.0" r="2.5" fill="#0028ff"/>
</g>
<clipPath id="cp2_21"><rect x="360.6" y="656.0" width="273.3" height="106.7"/></clipPath>
<g clip-path="url(#cp2_21)">
<rect x="360.6" y="656.0" width="273.3" height="106.7" fill="#4f4f4f"/>
<rect x="360.6" y="656.0" width="273.3" height="13.0" fill="#3e3e3e"/>
<rect x="368.6" y="656.0" width="32" height="13" fill="url(#cyl)"/>
<rect x="383.3" y="656.0" width="2.6" height="13.0" fill="#ececec"/>
<rect x="362.6" y="656.0" width="6.0" height="13.0" fill="#141414"/>
<rect x="400.6" y="656.0" width="6.0" height="13.0" fill="#141414"/>
<rect x="424.7" y="656.0" width="32" height="13" fill="url(#cyl)"/>
<rect x="439.4" y="656.0" width="2.6" height="13.0" fill="#ececec"/>
<rect x="418.7" y="656.0" width="6.0" height="13.0" fill="#141414"/>
<rect x="456.7" y="656.0" width="6.0" height="13.0" fill="#141414"/>
<rect x="480.8" y="656.0" width="32" height="13" fill="url(#cyl)"/>
<rect x="495.5" y="656.0" width="2.6" height="13.0" fill="#ececec"/>
<rect x="474.8" y="656.0" width="6.0" height="13.0" fill="#141414"/>
<rect x="512.8" y="656.0" width="6.0" height="13.0" fill="#141414"/>
<rect x="536.9" y="656.0" width="32" height="13" fill="url(#cyl)"/>
<rect x="551.6" y="656.0" width="2.6" height="13.0" fill="#ececec"/>
<rect x="530.9" y="656.0" width="6.0" height="13.0" fill="#141414"/>
<rect x="568.9" y="656.0" width="6.0" height="13.0" fill="#141414"/>
<rect x="593.0" y="656.0" width="32" height="13" fill="url(#cyl)"/>
<rect x="607.7" y="656.0" width="2.6" height="13.0" fill="#ececec"/>
<rect x="587.0" y="656.0" width="6.0" height="13.0" fill="#141414"/>
<rect x="625.0" y="656.0" width="6.0" height="13.0" fill="#141414"/>
<path d="M430.7,656.0 L450.7,656.0 L447.7,669.0 L433.7,669.0 Z" fill="url(#cone)"/>
<g transform="translate(440.7,658.3) rotate(-4.6) scale(1,0.976)"><use href="#ear" transform="translate(17.0,29) rotate(25)"/><use href="#ms" transform="scale(0.97,1)"/></g>
<path d="M486.8,656.0 L506.8,656.0 L503.8,669.0 L489.8,669.0 Z" fill="url(#cone)"/>
<g transform="translate(496.8,658.3) rotate(-5.4) scale(1,0.976)"><use href="#ear" transform="translate(-17.0,29) rotate(-25)"/><use href="#ms" transform="scale(0.98,1)"/></g>
<path d="M542.9,656.0 L562.9,656.0 L559.9,669.0 L545.9,669.0 Z" fill="url(#cone)"/>
<g transform="translate(552.9,658.3) rotate(-0.5) scale(1,0.976)"><use href="#ear" transform="translate(-17.0,29) rotate(-25)"/><use href="#ms" transform="scale(1.01,1)"/></g>
<ellipse cx="444.5" cy="724.6" rx="12.61" ry="14.30" fill="#5a00ff"/>
<ellipse cx="444.5" cy="724.6" rx="11.66" ry="13.22" fill="#0010ff"/>
<ellipse cx="444.5" cy="724.6" rx="10.70" ry="12.14" fill="#00e8ff"/>
<ellipse cx="444.5" cy="724.6" rx="9.75" ry="11.05" fill="#00ff30"/>
<ellipse cx="444.5" cy="724.6" rx="8.89" ry="10.08" fill="#fff000"/>
<ellipse cx="444.5" cy="724.6" rx="8.22" ry="9.32" fill="#ff0000"/>
<ellipse cx="508.0" cy="730.3" rx="11.64" ry="13.20" fill="#5a00ff"/>
<ellipse cx="508.0" cy="730.3" rx="10.75" ry="12.19" fill="#0010ff"/>
<ellipse cx="508.0" cy="730.3" rx="9.86" ry="11.18" fill="#00e8ff"/>
<ellipse cx="508.0" cy="730.3" rx="8.97" ry="10.18" fill="#00ff30"/>
<ellipse cx="508.0" cy="730.3" rx="8.17" ry="9.27" fill="#fff000"/>
<ellipse cx="508.0" cy="730.3" rx="7.55" ry="8.57" fill="#ff0000"/>
<ellipse cx="551.6" cy="729.2" rx="12.61" ry="14.30" fill="#5a00ff"/>
<ellipse cx="551.6" cy="729.2" rx="11.66" ry="13.22" fill="#0010ff"/>
<ellipse cx="551.6" cy="729.2" rx="10.70" ry="12.14" fill="#00e8ff"/>
<ellipse cx="551.6" cy="729.2" rx="9.75" ry="11.05" fill="#00ff30"/>
<ellipse cx="551.6" cy="729.2" rx="8.89" ry="10.08" fill="#fff000"/>
<ellipse cx="551.6" cy="729.2" rx="8.22" ry="9.32" fill="#ff0000"/>
</g>
<clipPath id="cp3_21"><rect x="640.1" y="656.0" width="272.6" height="106.7"/></clipPath>
<g clip-path="url(#cp3_21)">
<rect x="640.1" y="656.0" width="272.6" height="106.7" fill="#4f4f4f"/>
<rect x="640.1" y="656.0" width="272.6" height="13.0" fill="#3e3e3e"/>
<rect x="648.1" y="656.0" width="32" height="13" fill="url(#cyl)"/>
<rect x="662.8" y="656.0" width="2.6" height="13.0" fill="#ececec"/>
<rect x="642.1" y="656.0" width="6.0" height="13.0" fill="#141414"/>
<rect x="680.1" y="656.0" width="6.0" height="13.0" fill="#141414"/>
<rect x="704.2" y="656.0" width="32" height="13" fill="url(#cyl)"/>
<rect x="718.9" y="656.0" width="2.6" height="13.0" fill="#ececec"/>
<rect x="698.2" y="656.0" width="6.0" height="13.0" fill="#141414"/>
<rect x="736.2" y="656.0" width="6.0" height="13.0" fill="#141414"/>
<rect x="760.3" y="656.0" width="32" height="13" fill="url(#cyl)"/>
<rect x="775.0" y="656.0" width="2.6" height="13.0" fill="#ececec"/>
<rect x="754.3" y="656.0" width="6.0" height="13.0" fill="#141414"/>
<rect x="792.3" y="656.0" width="6.0" height="13.0" fill="#141414"/>
<rect x="816.4" y="656.0" width="32" height="13" fill="url(#cyl)"/>
<rect x="831.1" y="656.0" width="2.6" height="13.0" fill="#ececec"/>
<rect x="810.4" y="656.0" width="6.0" height="13.0" fill="#141414"/>
<rect x="848.4" y="656.0" width="6.0" height="13.0" fill="#141414"/>
<rect x="872.5" y="656.0" width="32" height="13" fill="url(#cyl)"/>
<rect x="887.2" y="656.0" width="2.6" height="13.0" fill="#ececec"/>
<rect x="866.5" y="656.0" width="6.0" height="13.0" fill="#141414"/>
<rect x="904.5" y="656.0" width="6.0" height="13.0" fill="#141414"/>
<path d="M710.2,656.0 L730.2,656.0 L727.2,669.0 L713.2,669.0 Z" fill="url(#cone)"/>
<g transform="translate(720.2,658.3) rotate(-4.0) scale(1,0.976)"><use href="#ear" transform="translate(17.0,29) rotate(25)"/><use href="#ms" transform="scale(0.97,1)"/></g>
<path d="M766.3,656.0 L786.3,656.0 L783.3,669.0 L769.3,669.0 Z" fill="url(#cone)"/>
<g transform="translate(776.3,658.3) rotate(-8.8) scale(1,0.976)"><use href="#ear" transform="translate(-17.0,29) rotate(-25)"/><use href="#ms" transform="scale(1.06,1)"/></g>
<path d="M822.4,656.0 L842.4,656.0 L839.4,669.0 L825.4,669.0 Z" fill="url(#cone)"/>
<g transform="translate(832.4,658.3) rotate(1.7) scale(1,0.976)"><use href="#ear" transform="translate(-17.0,29) rotate(-25)"/><use href="#ms" transform="scale(1.01,1)"/></g>
<path d="M878.5,656.0 L898.5,656.0 L895.5,669.0 L881.5,669.0 Z" fill="url(#cone)"/>
<g transform="translate(888.5,658.3) rotate(8.9) scale(1,0.976)"><use href="#ear" transform="translate(17.0,29) rotate(25)"/><use href="#ms" transform="scale(1.00,1)"/></g>
<ellipse cx="722.7" cy="721.0" rx="10.67" ry="12.10" fill="#5a00ff"/>
<ellipse cx="722.7" cy="721.0" rx="9.85" ry="11.17" fill="#0010ff"/>
<ellipse cx="722.7" cy="721.0" rx="9.02" ry="10.23" fill="#00e8ff"/>
<ellipse cx="722.7" cy="721.0" rx="8.20" ry="9.30" fill="#00ff30"/>
<ellipse cx="722.7" cy="721.0" rx="7.46" ry="8.46" fill="#fff000"/>
<ellipse cx="722.7" cy="721.0" rx="6.89" ry="7.81" fill="#ff0000"/>
<ellipse cx="788.4" cy="718.4" rx="10.67" ry="12.10" fill="#5a00ff"/>
<ellipse cx="788.4" cy="718.4" rx="9.85" ry="11.17" fill="#0010ff"/>
<ellipse cx="788.4" cy="718.4" rx="9.02" ry="10.23" fill="#00e8ff"/>
<ellipse cx="788.4" cy="718.4" rx="8.20" ry="9.30" fill="#00ff30"/>
<ellipse cx="788.4" cy="718.4" rx="7.46" ry="8.46" fill="#fff000"/>
<ellipse cx="788.4" cy="718.4" rx="6.89" ry="7.81" fill="#ff0000"/>
<ellipse cx="770.0" cy="726.0" rx="4.85" ry="5.50" fill="#5a00ff"/>
<ellipse cx="770.0" cy="726.0" rx="4.07" ry="4.62" fill="#0010ff"/>
<ellipse cx="770.0" cy="726.0" rx="3.30" ry="3.74" fill="#00e8ff"/>
<circle cx="805.0" cy="728.0" r="6.0" fill="#4a00ff"/>
<circle cx="805.0" cy="728.0" r="3.3" fill="#0028ff"/>
<ellipse cx="822.0" cy="728.7" rx="9.70" ry="11.00" fill="#5a00ff"/>
<ellipse cx="822.0" cy="728.7" rx="8.94" ry="10.14" fill="#0010ff"/>
<ellipse cx="822.0" cy="728.7" rx="8.19" ry="9.28" fill="#00e8ff"/>
<ellipse cx="822.0" cy="728.7" rx="7.43" ry="8.43" fill="#00ff30"/>
<ellipse cx="822.0" cy="728.7" rx="6.75" ry="7.65" fill="#fff000"/>
<ellipse cx="822.0" cy="728.7" rx="6.22" ry="7.05" fill="#ff0000"/>
<ellipse cx="870.0" cy="728.7" rx="9.70" ry="11.00" fill="#5a00ff"/>
<ellipse cx="870.0" cy="728.7" rx="8.94" ry="10.14" fill="#0010ff"/>
<ellipse cx="870.0" cy="728.7" rx="8.19" ry="9.28" fill="#00e8ff"/>
<ellipse cx="870.0" cy="728.7" rx="7.43" ry="8.43" fill="#00ff30"/>
<ellipse cx="870.0" cy="728.7" rx="6.75" ry="7.65" fill="#fff000"/>
<ellipse cx="870.0" cy="728.7" rx="6.22" ry="7.05" fill="#ff0000"/>
</g>
<clipPath id="cp4_21"><rect x="919.2" y="656.0" width="272.7" height="106.7"/></clipPath>
<g clip-path="url(#cp4_21)">
<rect x="919.2" y="656.0" width="272.7" height="106.7" fill="#4f4f4f"/>
<rect x="919.2" y="656.0" width="272.7" height="13.0" fill="#3e3e3e"/>
<rect x="921.2" y="656.0" width="6.0" height="13.0" fill="#141414"/>
<rect x="959.2" y="656.0" width="6.0" height="13.0" fill="#141414"/>
<rect x="977.3" y="656.0" width="6.0" height="13.0" fill="#141414"/>
<rect x="1015.3" y="656.0" width="6.0" height="13.0" fill="#141414"/>
<rect x="1033.4" y="656.0" width="6.0" height="13.0" fill="#141414"/>
<rect x="1071.4" y="656.0" width="6.0" height="13.0" fill="#141414"/>
<rect x="1089.5" y="656.0" width="6.0" height="13.0" fill="#141414"/>
<rect x="1127.5" y="656.0" width="6.0" height="13.0" fill="#141414"/>
<rect x="1145.6" y="656.0" width="6.0" height="13.0" fill="#141414"/>
<rect x="1183.6" y="656.0" width="6.0" height="13.0" fill="#141414"/>
<path d="M933.2,656.0 L953.2,656.0 L950.2,669.0 L936.2,669.0 Z" fill="url(#cone)"/>
<g transform="translate(943.2,658.3) rotate(-2.0) scale(1,0.976)"><use href="#ear" transform="translate(-17.0,29) rotate(-25)"/><use href="#ms" transform="scale(1.02,1)"/></g>
<path d="M989.3,656.0 L1009.3,656.0 L1006.3,669.0 L992.3,669.0 Z" fill="url(#cone)"/>
<g transform="translate(999.3,658.3) rotate(1.1) scale(1,0.976)"><use href="#ear" transform="translate(17.0,29) rotate(25)"/><use href="#ms" transform="scale(1.01,1)"/></g>
<path d="M1045.4,656.0 L1065.4,656.0 L1062.4,669.0 L1048.4,669.0 Z" fill="url(#cone)"/>
<g transform="translate(1055.4,658.3) rotate(5.8) scale(1,0.976)"><use href="#ear" transform="translate(17.0,29) rotate(25)"/><use href="#ms" transform="scale(1.00,1)"/></g>
<path d="M1101.5,656.0 L1121.5,656.0 L1118.5,669.0 L1104.5,669.0 Z" fill="url(#cone)"/>
<g transform="translate(1111.5,658.3) rotate(-3.5) scale(1,0.976)"><use href="#ear" transform="translate(-17.0,29) rotate(-25)"/><use href="#ms" transform="scale(0.97,1)"/></g>
<path d="M1157.6,656.0 L1177.6,656.0 L1174.6,669.0 L1160.6,669.0 Z" fill="url(#cone)"/>
<g transform="translate(1167.6,658.3) rotate(2.6) scale(1,0.976)"><use href="#ear" transform="translate(-17.0,29) rotate(-25)"/><use href="#ms" transform="scale(1.04,1)"/></g>
<ellipse cx="947.7" cy="713.0" rx="12.61" ry="14.30" fill="#5a00ff"/>
<ellipse cx="947.7" cy="713.0" rx="11.66" ry="13.22" fill="#0010ff"/>
<ellipse cx="947.7" cy="713.0" rx="10.70" ry="12.14" fill="#00e8ff"/>
<ellipse cx="947.7" cy="713.0" rx="9.75" ry="11.05" fill="#00ff30"/>
<ellipse cx="947.7" cy="713.0" rx="8.89" ry="10.08" fill="#fff000"/>
<ellipse cx="947.7" cy="713.0" rx="8.22" ry="9.32" fill="#ff0000"/>
<ellipse cx="995.5" cy="713.0" rx="10.67" ry="12.10" fill="#5a00ff"/>
<ellipse cx="995.5" cy="713.0" rx="9.85" ry="11.17" fill="#0010ff"/>
<ellipse cx="995.5" cy="713.0" rx="9.02" ry="10.23" fill="#00e8ff"/>
<ellipse cx="995.5" cy="713.0" rx="8.20" ry="9.30" fill="#00ff30"/>
<ellipse cx="995.5" cy="713.0" rx="7.46" ry="8.46" fill="#fff000"/>
<ellipse cx="995.5" cy="713.0" rx="6.89" ry="7.81" fill="#ff0000"/>
<ellipse cx="1045.9" cy="720.8" rx="9.70" ry="11.00" fill="#5a00ff"/>
<ellipse cx="1045.9" cy="720.8" rx="8.94" ry="10.14" fill="#0010ff"/>
<ellipse cx="1045.9" cy="720.8" rx="8.19" ry="9.28" fill="#00e8ff"/>
<ellipse cx="1045.9" cy="720.8" rx="7.43" ry="8.43" fill="#00ff30"/>
<ellipse cx="1045.9" cy="720.8" rx="6.75" ry="7.65" fill="#fff000"/>
<ellipse cx="1045.9" cy="720.8" rx="6.22" ry="7.05" fill="#ff0000"/>
<ellipse cx="1114.0" cy="722.9" rx="9.70" ry="11.00" fill="#5a00ff"/>
<ellipse cx="1114.0" cy="722.9" rx="8.54" ry="9.68" fill="#0010ff"/>
<ellipse cx="1114.0" cy="722.9" rx="7.37" ry="8.36" fill="#00e8ff"/>
<ellipse cx="1114.0" cy="722.9" rx="6.21" ry="7.04" fill="#00ff30"/>
<ellipse cx="1114.0" cy="722.9" rx="4.81" ry="5.46" fill="#fff000"/>
<ellipse cx="1114.0" cy="722.9" rx="2.89" ry="3.27" fill="#ff0000"/>
<ellipse cx="1156.6" cy="716.6" rx="10.67" ry="12.10" fill="#5a00ff"/>
<ellipse cx="1156.6" cy="716.6" rx="9.85" ry="11.17" fill="#0010ff"/>
<ellipse cx="1156.6" cy="716.6" rx="9.02" ry="10.23" fill="#00e8ff"/>
<ellipse cx="1156.6" cy="716.6" rx="8.20" ry="9.30" fill="#00ff30"/>
<ellipse cx="1156.6" cy="716.6" rx="7.46" ry="8.46" fill="#fff000"/>
<ellipse cx="1156.6" cy="716.6" rx="6.89" ry="7.81" fill="#ff0000"/>
</g>
<clipPath id="cp5_21"><rect x="1198.3" y="656.0" width="272.7" height="106.7"/></clipPath>
<g clip-path="url(#cp5_21)">
<rect x="1198.3" y="656.0" width="272.7" height="106.7" fill="#4f4f4f"/>
<rect x="1198.3" y="656.0" width="272.7" height="13.0" fill="#3e3e3e"/>
<rect x="1200.3" y="656.0" width="6.0" height="13.0" fill="#141414"/>
<rect x="1238.3" y="656.0" width="6.0" height="13.0" fill="#141414"/>
<rect x="1256.4" y="656.0" width="6.0" height="13.0" fill="#141414"/>
<rect x="1294.4" y="656.0" width="6.0" height="13.0" fill="#141414"/>
<rect x="1312.5" y="656.0" width="6.0" height="13.0" fill="#141414"/>
<rect x="1350.5" y="656.0" width="6.0" height="13.0" fill="#141414"/>
<rect x="1368.6" y="656.0" width="6.0" height="13.0" fill="#141414"/>
<rect x="1406.6" y="656.0" width="6.0" height="13.0" fill="#141414"/>
<rect x="1424.7" y="656.0" width="6.0" height="13.0" fill="#141414"/>
<rect x="1462.7" y="656.0" width="6.0" height="13.0" fill="#141414"/>
<path d="M1212.3,656.0 L1232.3,656.0 L1229.3,669.0 L1215.3,669.0 Z" fill="url(#cone)"/>
<g transform="translate(1222.3,658.3) rotate(-5.3) scale(1,0.976)"><use href="#ear" transform="translate(17.0,29) rotate(25)"/><use href="#ms" transform="scale(1.05,1)"/></g>
<path d="M1268.4,656.0 L1288.4,656.0 L1285.4,669.0 L1271.4,669.0 Z" fill="url(#cone)"/>
<g transform="translate(1278.4,658.3) rotate(-5.8) scale(1,0.976)"><use href="#ear" transform="translate(-17.0,29) rotate(-25)"/><use href="#ms" transform="scale(1.04,1)"/></g>
<path d="M1324.5,656.0 L1344.5,656.0 L1341.5,669.0 L1327.5,669.0 Z" fill="url(#cone)"/>
<g transform="translate(1334.5,658.3) rotate(4.0) scale(1,0.976)"><use href="#ear" transform="translate(-17.0,29) rotate(-25)"/><use href="#ms" transform="scale(1.05,1)"/></g>
<path d="M1380.6,656.0 L1400.6,656.0 L1397.6,669.0 L1383.6,669.0 Z" fill="url(#cone)"/>
<g transform="translate(1390.6,658.3) rotate(3.3) scale(1,0.976)"><use href="#ear" transform="translate(17.0,29) rotate(25)"/><use href="#ms" transform="scale(0.99,1)"/></g>
<path d="M1436.7,656.0 L1456.7,656.0 L1453.7,669.0 L1439.7,669.0 Z" fill="url(#cone)"/>
<g transform="translate(1446.7,658.3) rotate(0.4) scale(1,0.976)"><use href="#ear" transform="translate(17.0,29) rotate(25)"/><use href="#ms" transform="scale(1.00,1)"/></g>
<ellipse cx="1224.1" cy="723.4" rx="6.30" ry="7.15" fill="#5a00ff"/>
<ellipse cx="1224.1" cy="723.4" rx="5.58" ry="6.33" fill="#0010ff"/>
<ellipse cx="1224.1" cy="723.4" rx="4.85" ry="5.50" fill="#00e8ff"/>
<ellipse cx="1224.1" cy="723.4" rx="4.12" ry="4.68" fill="#00ff30"/>
<ellipse cx="1224.1" cy="723.4" rx="3.47" ry="3.93" fill="#fff000"/>
<ellipse cx="1224.1" cy="723.4" rx="2.96" ry="3.36" fill="#ff0000"/>
<ellipse cx="1289.0" cy="717.7" rx="6.79" ry="7.70" fill="#5a00ff"/>
<ellipse cx="1289.0" cy="717.7" rx="6.06" ry="6.88" fill="#0010ff"/>
<ellipse cx="1289.0" cy="717.7" rx="5.33" ry="6.05" fill="#00e8ff"/>
<ellipse cx="1289.0" cy="717.7" rx="4.61" ry="5.23" fill="#00ff30"/>
<ellipse cx="1289.0" cy="717.7" rx="3.95" ry="4.48" fill="#fff000"/>
<ellipse cx="1289.0" cy="717.7" rx="3.44" ry="3.91" fill="#ff0000"/>
<ellipse cx="1330.6" cy="712.5" rx="7.76" ry="8.80" fill="#5a00ff"/>
<ellipse cx="1330.6" cy="712.5" rx="7.03" ry="7.98" fill="#0010ff"/>
<ellipse cx="1330.6" cy="712.5" rx="6.30" ry="7.15" fill="#00e8ff"/>
<ellipse cx="1330.6" cy="712.5" rx="5.58" ry="6.33" fill="#00ff30"/>
<ellipse cx="1330.6" cy="712.5" rx="4.92" ry="5.58" fill="#fff000"/>
<ellipse cx="1330.6" cy="712.5" rx="4.41" ry="5.01" fill="#ff0000"/>
<ellipse cx="1399.7" cy="721.8" rx="6.79" ry="7.70" fill="#5a00ff"/>
<ellipse cx="1399.7" cy="721.8" rx="6.06" ry="6.88" fill="#0010ff"/>
<ellipse cx="1399.7" cy="721.8" rx="5.33" ry="6.05" fill="#00e8ff"/>
<ellipse cx="1399.7" cy="721.8" rx="4.61" ry="5.23" fill="#00ff30"/>
<ellipse cx="1399.7" cy="721.8" rx="3.95" ry="4.48" fill="#fff000"/>
<ellipse cx="1399.7" cy="721.8" rx="3.44" ry="3.91" fill="#ff0000"/>
<ellipse cx="1449.0" cy="712.5" rx="7.27" ry="8.25" fill="#5a00ff"/>
<ellipse cx="1449.0" cy="712.5" rx="6.55" ry="7.43" fill="#0010ff"/>
<ellipse cx="1449.0" cy="712.5" rx="5.82" ry="6.60" fill="#00e8ff"/>
<ellipse cx="1449.0" cy="712.5" rx="5.09" ry="5.78" fill="#00ff30"/>
<ellipse cx="1449.0" cy="712.5" rx="4.44" ry="5.03" fill="#fff000"/>
<ellipse cx="1449.0" cy="712.5" rx="3.93" ry="4.46" fill="#ff0000"/>
</g>
<clipPath id="cp6_21"><rect x="1477.6" y="656.0" width="273.4" height="106.7"/></clipPath>
<g clip-path="url(#cp6_21)">
<rect x="1477.6" y="656.0" width="273.4" height="106.7" fill="#4f4f4f"/>
<rect x="1477.6" y="656.0" width="273.4" height="13.0" fill="#3e3e3e"/>
<rect x="1479.6" y="656.0" width="6.0" height="13.0" fill="#141414"/>
<rect x="1517.6" y="656.0" width="6.0" height="13.0" fill="#141414"/>
<rect x="1535.7" y="656.0" width="6.0" height="13.0" fill="#141414"/>
<rect x="1573.7" y="656.0" width="6.0" height="13.0" fill="#141414"/>
<rect x="1591.8" y="656.0" width="6.0" height="13.0" fill="#141414"/>
<rect x="1629.8" y="656.0" width="6.0" height="13.0" fill="#141414"/>
<rect x="1647.9" y="656.0" width="6.0" height="13.0" fill="#141414"/>
<rect x="1685.9" y="656.0" width="6.0" height="13.0" fill="#141414"/>
<rect x="1704.0" y="656.0" width="6.0" height="13.0" fill="#141414"/>
<rect x="1742.0" y="656.0" width="6.0" height="13.0" fill="#141414"/>
<path d="M1491.6,656.0 L1511.6,656.0 L1508.6,669.0 L1494.6,669.0 Z" fill="url(#cone)"/>
<g transform="translate(1501.6,658.3) rotate(-3.6) scale(1,0.976)"><use href="#ear" transform="translate(17.0,29) rotate(25)"/><use href="#ms" transform="scale(1.02,1)"/></g>
<path d="M1547.7,656.0 L1567.7,656.0 L1564.7,669.0 L1550.7,669.0 Z" fill="url(#cone)"/>
<g transform="translate(1557.7,658.3) rotate(-0.0) scale(1,0.976)"><use href="#ear" transform="translate(-17.0,29) rotate(-25)"/><use href="#ms" transform="scale(1.00,1)"/></g>
<path d="M1603.8,656.0 L1623.8,656.0 L1620.8,669.0 L1606.8,669.0 Z" fill="url(#cone)"/>
<g transform="translate(1613.8,658.3) rotate(-1.7) scale(1,0.976)"><use href="#ear" transform="translate(-17.0,29) rotate(-25)"/><use href="#ms" transform="scale(1.05,1)"/></g>
<path d="M1659.9,656.0 L1679.9,656.0 L1676.9,669.0 L1662.9,669.0 Z" fill="url(#cone)"/>
<g transform="translate(1669.9,658.3) rotate(4.0) scale(1,0.976)"><use href="#ear" transform="translate(17.0,29) rotate(25)"/><use href="#ms" transform="scale(1.03,1)"/></g>
<path d="M1716.0,656.0 L1736.0,656.0 L1733.0,669.0 L1719.0,669.0 Z" fill="url(#cone)"/>
<g transform="translate(1726.0,658.3) rotate(4.8) scale(1,0.976)"><use href="#ear" transform="translate(-17.0,29) rotate(-25)"/><use href="#ms" transform="scale(1.00,1)"/></g>
<circle cx="1509.8" cy="724.4" r="3.0" fill="#4a00ff"/>
<circle cx="1509.8" cy="724.4" r="1.7" fill="#0028ff"/>
<circle cx="1616.3" cy="721.8" r="2.0" fill="#4a00ff"/>
<circle cx="1654.0" cy="715.6" r="1.5" fill="#4a00ff"/>
<circle cx="1716.5" cy="722.9" r="3.0" fill="#4a00ff"/>
<circle cx="1716.5" cy="722.9" r="1.7" fill="#0028ff"/>
</g>
<clipPath id="cp1_28"><rect x="81.2" y="769.3" width="273.4" height="106.7"/></clipPath>
<g clip-path="url(#cp1_28)">
<rect x="81.2" y="769.3" width="273.4" height="106.7" fill="#4f4f4f"/>
<rect x="81.2" y="769.3" width="273.4" height="14.7" fill="#3e3e3e"/>
<rect x="89.2" y="769.3" width="32" height="14.7" fill="url(#cyl)"/>
<rect x="103.9" y="769.3" width="2.6" height="14.7" fill="#ececec"/>
<rect x="83.2" y="769.3" width="6.0" height="14.7" fill="#141414"/>
<rect x="121.2" y="769.3" width="6.0" height="14.7" fill="#141414"/>
<rect x="145.3" y="769.3" width="32" height="14.7" fill="url(#cyl)"/>
<rect x="160.0" y="769.3" width="2.6" height="14.7" fill="#ececec"/>
<rect x="139.3" y="769.3" width="6.0" height="14.7" fill="#141414"/>
<rect x="177.3" y="769.3" width="6.0" height="14.7" fill="#141414"/>
<rect x="201.4" y="769.3" width="32" height="14.7" fill="url(#cyl)"/>
<rect x="216.1" y="769.3" width="2.6" height="14.7" fill="#ececec"/>
<rect x="195.4" y="769.3" width="6.0" height="14.7" fill="#141414"/>
<rect x="233.4" y="769.3" width="6.0" height="14.7" fill="#141414"/>
<rect x="257.5" y="769.3" width="32" height="14.7" fill="url(#cyl)"/>
<rect x="272.2" y="769.3" width="2.6" height="14.7" fill="#ececec"/>
<rect x="251.5" y="769.3" width="6.0" height="14.7" fill="#141414"/>
<rect x="289.5" y="769.3" width="6.0" height="14.7" fill="#141414"/>
<rect x="313.6" y="769.3" width="32" height="14.7" fill="url(#cyl)"/>
<rect x="328.3" y="769.3" width="2.6" height="14.7" fill="#ececec"/>
<rect x="307.6" y="769.3" width="6.0" height="14.7" fill="#141414"/>
<rect x="345.6" y="769.3" width="6.0" height="14.7" fill="#141414"/>
<path d="M151.3,769.3 L171.3,769.3 L168.3,784.0 L154.3,784.0 Z" fill="url(#cone)"/>
<g transform="translate(161.3,773.5) rotate(-0.2) scale(1,0.959)"><use href="#ear" transform="translate(17.0,29) rotate(25)"/><use href="#ms" transform="scale(0.98,1)"/></g>
<path d="M263.5,769.3 L283.5,769.3 L280.5,784.0 L266.5,784.0 Z" fill="url(#cone)"/>
<g transform="translate(273.5,773.5) rotate(-8.6) scale(1,0.959)"><use href="#ear" transform="translate(17.0,29) rotate(25)"/><use href="#ms" transform="scale(0.96,1)"/></g>
<ellipse cx="161.7" cy="834.8" rx="8.24" ry="9.35" fill="#5a00ff"/>
<ellipse cx="161.7" cy="834.8" rx="7.52" ry="8.53" fill="#0010ff"/>
<ellipse cx="161.7" cy="834.8" rx="6.79" ry="7.70" fill="#00e8ff"/>
<ellipse cx="161.7" cy="834.8" rx="6.06" ry="6.88" fill="#00ff30"/>
<ellipse cx="161.7" cy="834.8" rx="5.41" ry="6.13" fill="#fff000"/>
<ellipse cx="161.7" cy="834.8" rx="4.90" ry="5.56" fill="#ff0000"/>
<ellipse cx="281.7" cy="839.0" rx="9.21" ry="10.45" fill="#5a00ff"/>
<ellipse cx="281.7" cy="839.0" rx="8.49" ry="9.62" fill="#0010ff"/>
<ellipse cx="281.7" cy="839.0" rx="7.76" ry="8.80" fill="#00e8ff"/>
<ellipse cx="281.7" cy="839.0" rx="7.03" ry="7.98" fill="#00ff30"/>
<ellipse cx="281.7" cy="839.0" rx="6.38" ry="7.23" fill="#fff000"/>
<ellipse cx="281.7" cy="839.0" rx="5.87" ry="6.66" fill="#ff0000"/>
</g>
<clipPath id="cp2_28"><rect x="360.6" y="769.3" width="273.3" height="106.7"/></clipPath>
<g clip-path="url(#cp2_28)">
<rect x="360.6" y="769.3" width="273.3" height="106.7" fill="#4f4f4f"/>
<rect x="360.6" y="769.3" width="273.3" height="14.7" fill="#3e3e3e"/>
<rect x="368.6" y="769.3" width="32" height="14.7" fill="url(#cyl)"/>
<rect x="383.3" y="769.3" width="2.6" height="14.7" fill="#ececec"/>
<rect x="362.6" y="769.3" width="6.0" height="14.7" fill="#141414"/>
<rect x="400.6" y="769.3" width="6.0" height="14.7" fill="#141414"/>
<rect x="424.7" y="769.3" width="32" height="14.7" fill="url(#cyl)"/>
<rect x="439.4" y="769.3" width="2.6" height="14.7" fill="#ececec"/>
<rect x="418.7" y="769.3" width="6.0" height="14.7" fill="#141414"/>
<rect x="456.7" y="769.3" width="6.0" height="14.7" fill="#141414"/>
<rect x="480.8" y="769.3" width="32" height="14.7" fill="url(#cyl)"/>
<rect x="495.5" y="769.3" width="2.6" height="14.7" fill="#ececec"/>
<rect x="474.8" y="769.3" width="6.0" height="14.7" fill="#141414"/>
<rect x="512.8" y="769.3" width="6.0" height="14.7" fill="#141414"/>
<rect x="536.9" y="769.3" width="32" height="14.7" fill="url(#cyl)"/>
<rect x="551.6" y="769.3" width="2.6" height="14.7" fill="#ececec"/>
<rect x="530.9" y="769.3" width="6.0" height="14.7" fill="#141414"/>
<rect x="568.9" y="769.3" width="6.0" height="14.7" fill="#141414"/>
<rect x="593.0" y="769.3" width="32" height="14.7" fill="url(#cyl)"/>
<rect x="607.7" y="769.3" width="2.6" height="14.7" fill="#ececec"/>
<rect x="587.0" y="769.3" width="6.0" height="14.7" fill="#141414"/>
<rect x="625.0" y="769.3" width="6.0" height="14.7" fill="#141414"/>
<path d="M486.8,769.3 L506.8,769.3 L503.8,784.0 L489.8,784.0 Z" fill="url(#cone)"/>
<g transform="translate(496.8,773.5) rotate(2.0) scale(1,0.959)"><use href="#ear" transform="translate(17.0,29) rotate(25)"/><use href="#ms" transform="scale(1.03,1)"/></g>
<ellipse cx="493.6" cy="845.0" rx="11.64" ry="13.20" fill="#5a00ff"/>
<ellipse cx="493.6" cy="845.0" rx="10.75" ry="12.19" fill="#0010ff"/>
<ellipse cx="493.6" cy="845.0" rx="9.86" ry="11.18" fill="#00e8ff"/>
<ellipse cx="493.6" cy="845.0" rx="8.97" ry="10.18" fill="#00ff30"/>
<ellipse cx="493.6" cy="845.0" rx="8.17" ry="9.27" fill="#fff000"/>
<ellipse cx="493.6" cy="845.0" rx="7.55" ry="8.57" fill="#ff0000"/>
</g>
<clipPath id="cp3_28"><rect x="640.1" y="769.3" width="272.6" height="106.7"/></clipPath>
<g clip-path="url(#cp3_28)">
<rect x="640.1" y="769.3" width="272.6" height="106.7" fill="#4f4f4f"/>
<rect x="640.1" y="769.3" width="272.6" height="14.7" fill="#3e3e3e"/>
<rect x="648.1" y="769.3" width="32" height="14.7" fill="url(#cyl)"/>
<rect x="662.8" y="769.3" width="2.6" height="14.7" fill="#ececec"/>
<rect x="642.1" y="769.3" width="6.0" height="14.7" fill="#141414"/>
<rect x="680.1" y="769.3" width="6.0" height="14.7" fill="#141414"/>
<rect x="704.2" y="769.3" width="32" height="14.7" fill="url(#cyl)"/>
<rect x="718.9" y="769.3" width="2.6" height="14.7" fill="#ececec"/>
<rect x="698.2" y="769.3" width="6.0" height="14.7" fill="#141414"/>
<rect x="736.2" y="769.3" width="6.0" height="14.7" fill="#141414"/>
<rect x="760.3" y="769.3" width="32" height="14.7" fill="url(#cyl)"/>
<rect x="775.0" y="769.3" width="2.6" height="14.7" fill="#ececec"/>
<rect x="754.3" y="769.3" width="6.0" height="14.7" fill="#141414"/>
<rect x="792.3" y="769.3" width="6.0" height="14.7" fill="#141414"/>
<rect x="816.4" y="769.3" width="32" height="14.7" fill="url(#cyl)"/>
<rect x="831.1" y="769.3" width="2.6" height="14.7" fill="#ececec"/>
<rect x="810.4" y="769.3" width="6.0" height="14.7" fill="#141414"/>
<rect x="848.4" y="769.3" width="6.0" height="14.7" fill="#141414"/>
<rect x="872.5" y="769.3" width="32" height="14.7" fill="url(#cyl)"/>
<rect x="887.2" y="769.3" width="2.6" height="14.7" fill="#ececec"/>
<rect x="866.5" y="769.3" width="6.0" height="14.7" fill="#141414"/>
<rect x="904.5" y="769.3" width="6.0" height="14.7" fill="#141414"/>
<path d="M766.3,769.3 L786.3,769.3 L783.3,784.0 L769.3,784.0 Z" fill="url(#cone)"/>
<g transform="translate(776.3,773.5) rotate(-1.1) scale(1,0.959)"><use href="#ear" transform="translate(17.0,29) rotate(25)"/><use href="#ms" transform="scale(1.04,1)"/></g>
<path d="M878.5,769.3 L898.5,769.3 L895.5,784.0 L881.5,784.0 Z" fill="url(#cone)"/>
<g transform="translate(888.5,773.5) rotate(4.7) scale(1,0.959)"><use href="#ear" transform="translate(-17.0,29) rotate(-25)"/><use href="#ms" transform="scale(1.03,1)"/></g>
<ellipse cx="780.6" cy="837.4" rx="11.64" ry="13.20" fill="#5a00ff"/>
<ellipse cx="780.6" cy="837.4" rx="10.75" ry="12.19" fill="#0010ff"/>
<ellipse cx="780.6" cy="837.4" rx="9.86" ry="11.18" fill="#00e8ff"/>
<ellipse cx="780.6" cy="837.4" rx="8.97" ry="10.18" fill="#00ff30"/>
<ellipse cx="780.6" cy="837.4" rx="8.17" ry="9.27" fill="#fff000"/>
<ellipse cx="780.6" cy="837.4" rx="7.55" ry="8.57" fill="#ff0000"/>
<ellipse cx="768.0" cy="845.0" rx="5.33" ry="6.05" fill="#5a00ff"/>
<ellipse cx="768.0" cy="845.0" rx="4.56" ry="5.17" fill="#0010ff"/>
<ellipse cx="768.0" cy="845.0" rx="3.78" ry="4.29" fill="#00e8ff"/>
<ellipse cx="768.0" cy="845.0" rx="2.14" ry="2.42" fill="#00ff30"/>
<ellipse cx="880.4" cy="842.6" rx="9.70" ry="11.00" fill="#5a00ff"/>
<ellipse cx="880.4" cy="842.6" rx="8.94" ry="10.14" fill="#0010ff"/>
<ellipse cx="880.4" cy="842.6" rx="8.19" ry="9.28" fill="#00e8ff"/>
<ellipse cx="880.4" cy="842.6" rx="7.43" ry="8.43" fill="#00ff30"/>
<ellipse cx="880.4" cy="842.6" rx="6.75" ry="7.65" fill="#fff000"/>
<ellipse cx="880.4" cy="842.6" rx="6.22" ry="7.05" fill="#ff0000"/>
</g>
<clipPath id="cp4_28"><rect x="919.2" y="769.3" width="272.7" height="106.7"/></clipPath>
<g clip-path="url(#cp4_28)">
<rect x="919.2" y="769.3" width="272.7" height="106.7" fill="#4f4f4f"/>
<rect x="919.2" y="769.3" width="272.7" height="14.7" fill="#3e3e3e"/>
<rect x="927.2" y="769.3" width="32" height="14.7" fill="url(#cyl)"/>
<rect x="941.9" y="769.3" width="2.6" height="14.7" fill="#ececec"/>
<rect x="921.2" y="769.3" width="6.0" height="14.7" fill="#141414"/>
<rect x="959.2" y="769.3" width="6.0" height="14.7" fill="#141414"/>
<rect x="983.3" y="769.3" width="32" height="14.7" fill="url(#cyl)"/>
<rect x="998.0" y="769.3" width="2.6" height="14.7" fill="#ececec"/>
<rect x="977.3" y="769.3" width="6.0" height="14.7" fill="#141414"/>
<rect x="1015.3" y="769.3" width="6.0" height="14.7" fill="#141414"/>
<rect x="1039.4" y="769.3" width="32" height="14.7" fill="url(#cyl)"/>
<rect x="1054.1" y="769.3" width="2.6" height="14.7" fill="#ececec"/>
<rect x="1033.4" y="769.3" width="6.0" height="14.7" fill="#141414"/>
<rect x="1071.4" y="769.3" width="6.0" height="14.7" fill="#141414"/>
<rect x="1095.5" y="769.3" width="32" height="14.7" fill="url(#cyl)"/>
<rect x="1110.2" y="769.3" width="2.6" height="14.7" fill="#ececec"/>
<rect x="1089.5" y="769.3" width="6.0" height="14.7" fill="#141414"/>
<rect x="1127.5" y="769.3" width="6.0" height="14.7" fill="#141414"/>
<rect x="1151.6" y="769.3" width="32" height="14.7" fill="url(#cyl)"/>
<rect x="1166.3" y="769.3" width="2.6" height="14.7" fill="#ececec"/>
<rect x="1145.6" y="769.3" width="6.0" height="14.7" fill="#141414"/>
<rect x="1183.6" y="769.3" width="6.0" height="14.7" fill="#141414"/>
<path d="M1045.4,769.3 L1065.4,769.3 L1062.4,784.0 L1048.4,784.0 Z" fill="url(#cone)"/>
<g transform="translate(1055.4,773.5) rotate(3.1) scale(1,0.959)"><use href="#ear" transform="translate(17.0,29) rotate(25)"/><use href="#ms" transform="scale(0.97,1)"/></g>
<path d="M1101.5,769.3 L1121.5,769.3 L1118.5,784.0 L1104.5,784.0 Z" fill="url(#cone)"/>
<g transform="translate(1111.5,773.5) rotate(6.9) scale(1,0.959)"><use href="#ear" transform="translate(17.0,29) rotate(25)"/><use href="#ms" transform="scale(0.99,1)"/></g>
<path d="M1157.6,769.3 L1177.6,769.3 L1174.6,784.0 L1160.6,784.0 Z" fill="url(#cone)"/>
<g transform="translate(1167.6,773.5) rotate(-3.3) scale(1,0.959)"><use href="#ear" transform="translate(17.0,29) rotate(25)"/><use href="#ms" transform="scale(1.01,1)"/></g>
<ellipse cx="1049.0" cy="836.7" rx="11.64" ry="13.20" fill="#5a00ff"/>
<ellipse cx="1049.0" cy="836.7" rx="10.75" ry="12.19" fill="#0010ff"/>
<ellipse cx="1049.0" cy="836.7" rx="9.86" ry="11.18" fill="#00e8ff"/>
<ellipse cx="1049.0" cy="836.7" rx="8.97" ry="10.18" fill="#00ff30"/>
<ellipse cx="1049.0" cy="836.7" rx="8.17" ry="9.27" fill="#fff000"/>
<ellipse cx="1049.0" cy="836.7" rx="7.55" ry="8.57" fill="#ff0000"/>
<ellipse cx="1096.8" cy="842.9" rx="10.67" ry="12.10" fill="#5a00ff"/>
<ellipse cx="1096.8" cy="842.9" rx="9.85" ry="11.17" fill="#0010ff"/>
<ellipse cx="1096.8" cy="842.9" rx="9.02" ry="10.23" fill="#00e8ff"/>
<ellipse cx="1096.8" cy="842.9" rx="8.20" ry="9.30" fill="#00ff30"/>
<ellipse cx="1096.8" cy="842.9" rx="7.46" ry="8.46" fill="#fff000"/>
<ellipse cx="1096.8" cy="842.9" rx="6.89" ry="7.81" fill="#ff0000"/>
<ellipse cx="1162.8" cy="842.9" rx="10.67" ry="12.10" fill="#5a00ff"/>
<ellipse cx="1162.8" cy="842.9" rx="9.85" ry="11.17" fill="#0010ff"/>
<ellipse cx="1162.8" cy="842.9" rx="9.02" ry="10.23" fill="#00e8ff"/>
<ellipse cx="1162.8" cy="842.9" rx="8.20" ry="9.30" fill="#00ff30"/>
<ellipse cx="1162.8" cy="842.9" rx="7.46" ry="8.46" fill="#fff000"/>
<ellipse cx="1162.8" cy="842.9" rx="6.89" ry="7.81" fill="#ff0000"/>
</g>
<clipPath id="cp5_28"><rect x="1198.3" y="769.3" width="272.7" height="106.7"/></clipPath>
<g clip-path="url(#cp5_28)">
<rect x="1198.3" y="769.3" width="272.7" height="106.7" fill="#4f4f4f"/>
<rect x="1198.3" y="769.3" width="272.7" height="14.7" fill="#3e3e3e"/>
<rect x="1200.3" y="769.3" width="6.0" height="14.7" fill="#141414"/>
<rect x="1238.3" y="769.3" width="6.0" height="14.7" fill="#141414"/>
<rect x="1256.4" y="769.3" width="6.0" height="14.7" fill="#141414"/>
<rect x="1294.4" y="769.3" width="6.0" height="14.7" fill="#141414"/>
<rect x="1312.5" y="769.3" width="6.0" height="14.7" fill="#141414"/>
<rect x="1350.5" y="769.3" width="6.0" height="14.7" fill="#141414"/>
<rect x="1368.6" y="769.3" width="6.0" height="14.7" fill="#141414"/>
<rect x="1406.6" y="769.3" width="6.0" height="14.7" fill="#141414"/>
<rect x="1424.7" y="769.3" width="6.0" height="14.7" fill="#141414"/>
<rect x="1462.7" y="769.3" width="6.0" height="14.7" fill="#141414"/>
<path d="M1212.3,769.3 L1232.3,769.3 L1229.3,784.0 L1215.3,784.0 Z" fill="url(#cone)"/>
<g transform="translate(1222.3,773.5) rotate(-2.4) scale(1,0.959)"><use href="#ear" transform="translate(17.0,29) rotate(25)"/><use href="#ms" transform="scale(1.04,1)"/></g>
<path d="M1268.4,769.3 L1288.4,769.3 L1285.4,784.0 L1271.4,784.0 Z" fill="url(#cone)"/>
<g transform="translate(1278.4,773.5) rotate(3.6) scale(1,0.959)"><use href="#ear" transform="translate(-17.0,29) rotate(-25)"/><use href="#ms" transform="scale(1.01,1)"/></g>
<path d="M1324.5,769.3 L1344.5,769.3 L1341.5,784.0 L1327.5,784.0 Z" fill="url(#cone)"/>
<g transform="translate(1334.5,773.5) rotate(-1.0) scale(1,0.959)"><use href="#ear" transform="translate(17.0,29) rotate(25)"/><use href="#ms" transform="scale(1.03,1)"/></g>
<path d="M1380.6,769.3 L1400.6,769.3 L1397.6,784.0 L1383.6,784.0 Z" fill="url(#cone)"/>
<g transform="translate(1390.6,773.5) rotate(4.0) scale(1,0.959)"><use href="#ear" transform="translate(17.0,29) rotate(25)"/><use href="#ms" transform="scale(1.00,1)"/></g>
<path d="M1436.7,769.3 L1456.7,769.3 L1453.7,784.0 L1439.7,784.0 Z" fill="url(#cone)"/>
<g transform="translate(1446.7,773.5) rotate(0.4) scale(1,0.959)"><use href="#ear" transform="translate(17.0,29) rotate(25)"/><use href="#ms" transform="scale(1.02,1)"/></g>
<ellipse cx="1222.5" cy="831.5" rx="13.09" ry="14.85" fill="#5a00ff"/>
<ellipse cx="1222.5" cy="831.5" rx="12.11" ry="13.73" fill="#0010ff"/>
<ellipse cx="1222.5" cy="831.5" rx="11.12" ry="12.61" fill="#00e8ff"/>
<ellipse cx="1222.5" cy="831.5" rx="10.13" ry="11.49" fill="#00ff30"/>
<ellipse cx="1222.5" cy="831.5" rx="9.24" ry="10.48" fill="#fff000"/>
<ellipse cx="1222.5" cy="831.5" rx="8.55" ry="9.70" fill="#ff0000"/>
<ellipse cx="1272.4" cy="837.7" rx="11.15" ry="12.65" fill="#5a00ff"/>
<ellipse cx="1272.4" cy="837.7" rx="10.30" ry="11.68" fill="#0010ff"/>
<ellipse cx="1272.4" cy="837.7" rx="9.44" ry="10.71" fill="#00e8ff"/>
<ellipse cx="1272.4" cy="837.7" rx="8.59" ry="9.74" fill="#00ff30"/>
<ellipse cx="1272.4" cy="837.7" rx="7.82" ry="8.87" fill="#fff000"/>
<ellipse cx="1272.4" cy="837.7" rx="7.22" ry="8.19" fill="#ff0000"/>
<ellipse cx="1334.7" cy="839.3" rx="11.15" ry="12.65" fill="#5a00ff"/>
<ellipse cx="1334.7" cy="839.3" rx="10.30" ry="11.68" fill="#0010ff"/>
<ellipse cx="1334.7" cy="839.3" rx="9.44" ry="10.71" fill="#00e8ff"/>
<ellipse cx="1334.7" cy="839.3" rx="8.59" ry="9.74" fill="#00ff30"/>
<ellipse cx="1334.7" cy="839.3" rx="7.82" ry="8.87" fill="#fff000"/>
<ellipse cx="1334.7" cy="839.3" rx="7.22" ry="8.19" fill="#ff0000"/>
<ellipse cx="1378.9" cy="836.7" rx="9.70" ry="11.00" fill="#5a00ff"/>
<ellipse cx="1378.9" cy="836.7" rx="8.54" ry="9.68" fill="#0010ff"/>
<ellipse cx="1378.9" cy="836.7" rx="7.37" ry="8.36" fill="#00e8ff"/>
<ellipse cx="1378.9" cy="836.7" rx="6.21" ry="7.04" fill="#00ff30"/>
<ellipse cx="1378.9" cy="836.7" rx="4.81" ry="5.46" fill="#fff000"/>
<ellipse cx="1378.9" cy="836.7" rx="2.89" ry="3.27" fill="#ff0000"/>
<ellipse cx="1447.5" cy="836.2" rx="12.12" ry="13.75" fill="#5a00ff"/>
<ellipse cx="1447.5" cy="836.2" rx="11.20" ry="12.71" fill="#0010ff"/>
<ellipse cx="1447.5" cy="836.2" rx="10.28" ry="11.66" fill="#00e8ff"/>
<ellipse cx="1447.5" cy="836.2" rx="9.36" ry="10.62" fill="#00ff30"/>
<ellipse cx="1447.5" cy="836.2" rx="8.53" ry="9.67" fill="#fff000"/>
<ellipse cx="1447.5" cy="836.2" rx="7.89" ry="8.94" fill="#ff0000"/>
</g>
<clipPath id="cp6_28"><rect x="1477.6" y="769.3" width="273.4" height="106.7"/></clipPath>
<g clip-path="url(#cp6_28)">
<rect x="1477.6" y="769.3" width="273.4" height="106.7" fill="#4f4f4f"/>
<rect x="1477.6" y="769.3" width="273.4" height="14.7" fill="#3e3e3e"/>
<rect x="1479.6" y="769.3" width="6.0" height="14.7" fill="#141414"/>
<rect x="1517.6" y="769.3" width="6.0" height="14.7" fill="#141414"/>
<rect x="1535.7" y="769.3" width="6.0" height="14.7" fill="#141414"/>
<rect x="1573.7" y="769.3" width="6.0" height="14.7" fill="#141414"/>
<rect x="1591.8" y="769.3" width="6.0" height="14.7" fill="#141414"/>
<rect x="1629.8" y="769.3" width="6.0" height="14.7" fill="#141414"/>
<rect x="1647.9" y="769.3" width="6.0" height="14.7" fill="#141414"/>
<rect x="1685.9" y="769.3" width="6.0" height="14.7" fill="#141414"/>
<rect x="1704.0" y="769.3" width="6.0" height="14.7" fill="#141414"/>
<rect x="1742.0" y="769.3" width="6.0" height="14.7" fill="#141414"/>
<path d="M1491.6,769.3 L1511.6,769.3 L1508.6,784.0 L1494.6,784.0 Z" fill="url(#cone)"/>
<g transform="translate(1501.6,773.5) rotate(-1.9) scale(1,0.959)"><use href="#ear" transform="translate(17.0,29) rotate(25)"/><use href="#ms" transform="scale(0.97,1)"/></g>
<path d="M1547.7,769.3 L1567.7,769.3 L1564.7,784.0 L1550.7,784.0 Z" fill="url(#cone)"/>
<g transform="translate(1557.7,773.5) rotate(-2.3) scale(1,0.959)"><use href="#ear" transform="translate(-17.0,29) rotate(-25)"/><use href="#ms" transform="scale(1.05,1)"/></g>
<path d="M1603.8,769.3 L1623.8,769.3 L1620.8,784.0 L1606.8,784.0 Z" fill="url(#cone)"/>
<g transform="translate(1613.8,773.5) rotate(1.3) scale(1,0.959)"><use href="#ear" transform="translate(-17.0,29) rotate(-25)"/><use href="#ms" transform="scale(1.05,1)"/></g>
<path d="M1659.9,769.3 L1679.9,769.3 L1676.9,784.0 L1662.9,784.0 Z" fill="url(#cone)"/>
<g transform="translate(1669.9,773.5) rotate(3.3) scale(1,0.959)"><use href="#ear" transform="translate(-17.0,29) rotate(-25)"/><use href="#ms" transform="scale(1.01,1)"/></g>
<path d="M1716.0,769.3 L1736.0,769.3 L1733.0,784.0 L1719.0,784.0 Z" fill="url(#cone)"/>
<g transform="translate(1726.0,773.5) rotate(7.0) scale(1,0.959)"><use href="#ear" transform="translate(17.0,29) rotate(25)"/><use href="#ms" transform="scale(1.00,1)"/></g>
<circle cx="1510.8" cy="835.1" r="3.5" fill="#4a00ff"/>
<circle cx="1510.8" cy="835.1" r="1.9" fill="#0028ff"/>
<circle cx="1558.1" cy="834.1" r="1.5" fill="#4a00ff"/>
<circle cx="1614.7" cy="837.2" r="2.5" fill="#4a00ff"/>
<circle cx="1655.3" cy="833.6" r="2.0" fill="#4a00ff"/>
<circle cx="1715.0" cy="836.7" r="3.5" fill="#4a00ff"/>
<circle cx="1715.0" cy="836.7" r="1.9" fill="#0028ff"/>
</g>
<clipPath id="cp4_35"><rect x="919.2" y="882.2" width="272.7" height="106.5"/></clipPath>
<g clip-path="url(#cp4_35)">
<rect x="919.2" y="882.2" width="272.7" height="106.5" fill="#4f4f4f"/>
<rect x="919.2" y="882.2" width="272.7" height="15.4" fill="#3e3e3e"/>
<rect x="927.2" y="882.2" width="32" height="15.4" fill="url(#cyl)"/>
<rect x="941.9" y="882.2" width="2.6" height="15.4" fill="#ececec"/>
<rect x="921.2" y="882.2" width="6.0" height="15.4" fill="#141414"/>
<rect x="959.2" y="882.2" width="6.0" height="15.4" fill="#141414"/>
<rect x="983.3" y="882.2" width="32" height="15.4" fill="url(#cyl)"/>
<rect x="998.0" y="882.2" width="2.6" height="15.4" fill="#ececec"/>
<rect x="977.3" y="882.2" width="6.0" height="15.4" fill="#141414"/>
<rect x="1015.3" y="882.2" width="6.0" height="15.4" fill="#141414"/>
<rect x="1039.4" y="882.2" width="32" height="15.4" fill="url(#cyl)"/>
<rect x="1054.1" y="882.2" width="2.6" height="15.4" fill="#ececec"/>
<rect x="1033.4" y="882.2" width="6.0" height="15.4" fill="#141414"/>
<rect x="1071.4" y="882.2" width="6.0" height="15.4" fill="#141414"/>
<rect x="1095.5" y="882.2" width="32" height="15.4" fill="url(#cyl)"/>
<rect x="1110.2" y="882.2" width="2.6" height="15.4" fill="#ececec"/>
<rect x="1089.5" y="882.2" width="6.0" height="15.4" fill="#141414"/>
<rect x="1127.5" y="882.2" width="6.0" height="15.4" fill="#141414"/>
<rect x="1151.6" y="882.2" width="32" height="15.4" fill="url(#cyl)"/>
<rect x="1166.3" y="882.2" width="2.6" height="15.4" fill="#ececec"/>
<rect x="1145.6" y="882.2" width="6.0" height="15.4" fill="#141414"/>
<rect x="1183.6" y="882.2" width="6.0" height="15.4" fill="#141414"/>
<path d="M1101.5,882.2 L1121.5,882.2 L1118.5,897.6 L1104.5,897.6 Z" fill="url(#cone)"/>
<g transform="translate(1111.5,887.2) rotate(1.9) scale(1,0.949)"><use href="#ear" transform="translate(17.0,29) rotate(25)"/><use href="#ms" transform="scale(1.05,1)"/></g>
<ellipse cx="1109.8" cy="958.2" rx="12.61" ry="14.30" fill="#5a00ff"/>
<ellipse cx="1109.8" cy="958.2" rx="11.66" ry="13.22" fill="#0010ff"/>
<ellipse cx="1109.8" cy="958.2" rx="10.70" ry="12.14" fill="#00e8ff"/>
<ellipse cx="1109.8" cy="958.2" rx="9.75" ry="11.05" fill="#00ff30"/>
<ellipse cx="1109.8" cy="958.2" rx="8.89" ry="10.08" fill="#fff000"/>
<ellipse cx="1109.8" cy="958.2" rx="8.22" ry="9.32" fill="#ff0000"/>
</g>
<clipPath id="cp5_35"><rect x="1198.3" y="876.7" width="272.7" height="107.5"/></clipPath>
<g clip-path="url(#cp5_35)">
<rect x="1198.3" y="876.7" width="272.7" height="107.5" fill="#4f4f4f"/>
<rect x="1198.3" y="876.7" width="272.7" height="15.4" fill="#3e3e3e"/>
<rect x="1206.3" y="876.7" width="32" height="15.4" fill="url(#cyl)"/>
<rect x="1221.0" y="876.7" width="2.6" height="15.4" fill="#ececec"/>
<rect x="1200.3" y="876.7" width="6.0" height="15.4" fill="#141414"/>
<rect x="1238.3" y="876.7" width="6.0" height="15.4" fill="#141414"/>
<rect x="1262.4" y="876.7" width="32" height="15.4" fill="url(#cyl)"/>
<rect x="1277.1" y="876.7" width="2.6" height="15.4" fill="#ececec"/>
<rect x="1256.4" y="876.7" width="6.0" height="15.4" fill="#141414"/>
<rect x="1294.4" y="876.7" width="6.0" height="15.4" fill="#141414"/>
<rect x="1318.5" y="876.7" width="32" height="15.4" fill="url(#cyl)"/>
<rect x="1333.2" y="876.7" width="2.6" height="15.4" fill="#ececec"/>
<rect x="1312.5" y="876.7" width="6.0" height="15.4" fill="#141414"/>
<rect x="1350.5" y="876.7" width="6.0" height="15.4" fill="#141414"/>
<rect x="1374.6" y="876.7" width="32" height="15.4" fill="url(#cyl)"/>
<rect x="1389.3" y="876.7" width="2.6" height="15.4" fill="#ececec"/>
<rect x="1368.6" y="876.7" width="6.0" height="15.4" fill="#141414"/>
<rect x="1406.6" y="876.7" width="6.0" height="15.4" fill="#141414"/>
<rect x="1430.7" y="876.7" width="32" height="15.4" fill="url(#cyl)"/>
<rect x="1445.4" y="876.7" width="2.6" height="15.4" fill="#ececec"/>
<rect x="1424.7" y="876.7" width="6.0" height="15.4" fill="#141414"/>
<rect x="1462.7" y="876.7" width="6.0" height="15.4" fill="#141414"/>
<path d="M1268.4,876.7 L1288.4,876.7 L1285.4,892.1 L1271.4,892.1 Z" fill="url(#cone)"/>
<g transform="translate(1278.4,881.5) rotate(3.7) scale(1,0.960)"><use href="#ear" transform="translate(-17.0,29) rotate(-25)"/><use href="#ms" transform="scale(1.00,1)"/></g>
<path d="M1380.6,876.7 L1400.6,876.7 L1397.6,892.1 L1383.6,892.1 Z" fill="url(#cone)"/>
<g transform="translate(1390.6,881.5) rotate(11.8) scale(1,0.960)"><use href="#ear" transform="translate(17.0,29) rotate(25)"/><use href="#ms" transform="scale(1.00,1)"/></g>
<path d="M1436.7,876.7 L1456.7,876.7 L1453.7,892.1 L1439.7,892.1 Z" fill="url(#cone)"/>
<g transform="translate(1446.7,881.5) rotate(0.7) scale(1,0.960)"><use href="#ear" transform="translate(-17.0,29) rotate(-25)"/><use href="#ms" transform="scale(0.97,1)"/></g>
<ellipse cx="1272.4" cy="940.6" rx="10.67" ry="12.10" fill="#5a00ff"/>
<ellipse cx="1272.4" cy="940.6" rx="9.85" ry="11.17" fill="#0010ff"/>
<ellipse cx="1272.4" cy="940.6" rx="9.02" ry="10.23" fill="#00e8ff"/>
<ellipse cx="1272.4" cy="940.6" rx="8.20" ry="9.30" fill="#00ff30"/>
<ellipse cx="1272.4" cy="940.6" rx="7.46" ry="8.46" fill="#fff000"/>
<ellipse cx="1272.4" cy="940.6" rx="6.89" ry="7.81" fill="#ff0000"/>
<ellipse cx="1374.7" cy="933.8" rx="11.64" ry="13.20" fill="#5a00ff"/>
<ellipse cx="1374.7" cy="933.8" rx="10.75" ry="12.19" fill="#0010ff"/>
<ellipse cx="1374.7" cy="933.8" rx="9.86" ry="11.18" fill="#00e8ff"/>
<ellipse cx="1374.7" cy="933.8" rx="8.97" ry="10.18" fill="#00ff30"/>
<ellipse cx="1374.7" cy="933.8" rx="8.17" ry="9.27" fill="#fff000"/>
<ellipse cx="1374.7" cy="933.8" rx="7.55" ry="8.57" fill="#ff0000"/>
<ellipse cx="1443.8" cy="941.6" rx="12.61" ry="14.30" fill="#5a00ff"/>
<ellipse cx="1443.8" cy="941.6" rx="11.66" ry="13.22" fill="#0010ff"/>
<ellipse cx="1443.8" cy="941.6" rx="10.70" ry="12.14" fill="#00e8ff"/>
<ellipse cx="1443.8" cy="941.6" rx="9.75" ry="11.05" fill="#00ff30"/>
<ellipse cx="1443.8" cy="941.6" rx="8.89" ry="10.08" fill="#fff000"/>
<ellipse cx="1443.8" cy="941.6" rx="8.22" ry="9.32" fill="#ff0000"/>
</g>
<clipPath id="cp6_35"><rect x="1477.6" y="882.2" width="273.4" height="106.3"/></clipPath>
<g clip-path="url(#cp6_35)">
<rect x="1477.6" y="882.2" width="273.4" height="106.3" fill="#4f4f4f"/>
<rect x="1477.6" y="882.2" width="273.4" height="15.4" fill="#3e3e3e"/>
<rect x="1479.6" y="882.2" width="6.0" height="15.4" fill="#141414"/>
<rect x="1517.6" y="882.2" width="6.0" height="15.4" fill="#141414"/>
<rect x="1535.7" y="882.2" width="6.0" height="15.4" fill="#141414"/>
<rect x="1573.7" y="882.2" width="6.0" height="15.4" fill="#141414"/>
<rect x="1591.8" y="882.2" width="6.0" height="15.4" fill="#141414"/>
<rect x="1629.8" y="882.2" width="6.0" height="15.4" fill="#141414"/>
<rect x="1647.9" y="882.2" width="6.0" height="15.4" fill="#141414"/>
<rect x="1685.9" y="882.2" width="6.0" height="15.4" fill="#141414"/>
<rect x="1704.0" y="882.2" width="6.0" height="15.4" fill="#141414"/>
<rect x="1742.0" y="882.2" width="6.0" height="15.4" fill="#141414"/>
<path d="M1491.6,882.2 L1511.6,882.2 L1508.6,897.6 L1494.6,897.6 Z" fill="url(#cone)"/>
<g transform="translate(1501.6,887.2) rotate(-3.5) scale(1,0.947)"><use href="#ear" transform="translate(17.0,29) rotate(25)"/><use href="#ms" transform="scale(1.04,1)"/></g>
<path d="M1547.7,882.2 L1567.7,882.2 L1564.7,897.6 L1550.7,897.6 Z" fill="url(#cone)"/>
<g transform="translate(1557.7,887.2) rotate(-1.8) scale(1,0.947)"><use href="#ear" transform="translate(-17.0,29) rotate(-25)"/><use href="#ms" transform="scale(1.03,1)"/></g>
<path d="M1603.8,882.2 L1623.8,882.2 L1620.8,897.6 L1606.8,897.6 Z" fill="url(#cone)"/>
<g transform="translate(1613.8,887.2) rotate(-3.0) scale(1,0.947)"><use href="#ear" transform="translate(-17.0,29) rotate(-25)"/><use href="#ms" transform="scale(0.98,1)"/></g>
<path d="M1659.9,882.2 L1679.9,882.2 L1676.9,897.6 L1662.9,897.6 Z" fill="url(#cone)"/>
<g transform="translate(1669.9,887.2) rotate(3.8) scale(1,0.947)"><use href="#ear" transform="translate(17.0,29) rotate(25)"/><use href="#ms" transform="scale(1.06,1)"/></g>
<path d="M1716.0,882.2 L1736.0,882.2 L1733.0,897.6 L1719.0,897.6 Z" fill="url(#cone)"/>
<g transform="translate(1726.0,887.2) rotate(6.5) scale(1,0.947)"><use href="#ear" transform="translate(-17.0,29) rotate(-25)"/><use href="#ms" transform="scale(1.06,1)"/></g>
<circle cx="1509.8" cy="949.4" r="3.5" fill="#4a00ff"/>
<circle cx="1509.8" cy="949.4" r="1.9" fill="#0028ff"/>
<circle cx="1556.6" cy="949.4" r="2.0" fill="#4a00ff"/>
<circle cx="1616.3" cy="949.4" r="3.0" fill="#4a00ff"/>
<circle cx="1616.3" cy="949.4" r="1.7" fill="#0028ff"/>
<circle cx="1663.0" cy="944.2" r="2.5" fill="#4a00ff"/>
<circle cx="1720.2" cy="946.8" r="3.0" fill="#4a00ff"/>
<circle cx="1720.2" cy="946.8" r="1.7" fill="#0028ff"/>
</g>
<clipPath id="cp5_42"><rect x="1198.3" y="993.1" width="272.7" height="107.3"/></clipPath>
<g clip-path="url(#cp5_42)">
<rect x="1198.3" y="993.1" width="272.7" height="107.3" fill="#4f4f4f"/>
<rect x="1198.3" y="993.1" width="272.7" height="20.0" fill="#3e3e3e"/>
<rect x="1206.3" y="993.1" width="32" height="20" fill="url(#cyl)"/>
<rect x="1221.0" y="993.1" width="2.6" height="20.0" fill="#ececec"/>
<rect x="1200.3" y="993.1" width="6.0" height="20.0" fill="#141414"/>
<rect x="1238.3" y="993.1" width="6.0" height="20.0" fill="#141414"/>
<rect x="1262.4" y="993.1" width="32" height="20" fill="url(#cyl)"/>
<rect x="1277.1" y="993.1" width="2.6" height="20.0" fill="#ececec"/>
<rect x="1256.4" y="993.1" width="6.0" height="20.0" fill="#141414"/>
<rect x="1294.4" y="993.1" width="6.0" height="20.0" fill="#141414"/>
<rect x="1318.5" y="993.1" width="32" height="20" fill="url(#cyl)"/>
<rect x="1333.2" y="993.1" width="2.6" height="20.0" fill="#ececec"/>
<rect x="1312.5" y="993.1" width="6.0" height="20.0" fill="#141414"/>
<rect x="1350.5" y="993.1" width="6.0" height="20.0" fill="#141414"/>
<rect x="1374.6" y="993.1" width="32" height="20" fill="url(#cyl)"/>
<rect x="1389.3" y="993.1" width="2.6" height="20.0" fill="#ececec"/>
<rect x="1368.6" y="993.1" width="6.0" height="20.0" fill="#141414"/>
<rect x="1406.6" y="993.1" width="6.0" height="20.0" fill="#141414"/>
<rect x="1430.7" y="993.1" width="32" height="20" fill="url(#cyl)"/>
<rect x="1445.4" y="993.1" width="2.6" height="20.0" fill="#ececec"/>
<rect x="1424.7" y="993.1" width="6.0" height="20.0" fill="#141414"/>
<rect x="1462.7" y="993.1" width="6.0" height="20.0" fill="#141414"/>
<path d="M1268.4,993.1 L1288.4,993.1 L1285.4,1013.1 L1271.4,1013.1 Z" fill="url(#cone)"/>
<g transform="translate(1278.4,1003.1) rotate(-2.4) scale(1,0.910)"><use href="#ear" transform="translate(17.0,29) rotate(25)"/><use href="#ms" transform="scale(0.98,1)"/></g>
<ellipse cx="1272.3" cy="1061.5" rx="12.12" ry="13.75" fill="#5a00ff"/>
<ellipse cx="1272.3" cy="1061.5" rx="11.20" ry="12.71" fill="#0010ff"/>
<ellipse cx="1272.3" cy="1061.5" rx="10.28" ry="11.66" fill="#00e8ff"/>
<ellipse cx="1272.3" cy="1061.5" rx="9.36" ry="10.62" fill="#00ff30"/>
<ellipse cx="1272.3" cy="1061.5" rx="8.53" ry="9.67" fill="#fff000"/>
<ellipse cx="1272.3" cy="1061.5" rx="7.89" ry="8.94" fill="#ff0000"/>
<circle cx="1282.0" cy="1063.0" r="6.0" fill="#4a00ff"/>
<circle cx="1282.0" cy="1063.0" r="3.3" fill="#0028ff"/>
</g>
<clipPath id="cp6_42"><rect x="1477.6" y="993.1" width="273.4" height="107.3"/></clipPath>
<g clip-path="url(#cp6_42)">
<rect x="1477.6" y="993.1" width="273.4" height="107.3" fill="#4f4f4f"/>
<rect x="1477.6" y="993.1" width="273.4" height="20.0" fill="#3e3e3e"/>
<rect x="1479.6" y="993.1" width="6.0" height="20.0" fill="#141414"/>
<rect x="1517.6" y="993.1" width="6.0" height="20.0" fill="#141414"/>
<rect x="1535.7" y="993.1" width="6.0" height="20.0" fill="#141414"/>
<rect x="1573.7" y="993.1" width="6.0" height="20.0" fill="#141414"/>
<rect x="1591.8" y="993.1" width="6.0" height="20.0" fill="#141414"/>
<rect x="1629.8" y="993.1" width="6.0" height="20.0" fill="#141414"/>
<rect x="1647.9" y="993.1" width="6.0" height="20.0" fill="#141414"/>
<rect x="1685.9" y="993.1" width="6.0" height="20.0" fill="#141414"/>
<rect x="1704.0" y="993.1" width="6.0" height="20.0" fill="#141414"/>
<rect x="1742.0" y="993.1" width="6.0" height="20.0" fill="#141414"/>
<path d="M1491.6,993.1 L1511.6,993.1 L1508.6,1013.1 L1494.6,1013.1 Z" fill="url(#cone)"/>
<g transform="translate(1501.6,1003.1) rotate(-0.8) scale(1,0.910)"><use href="#ear" transform="translate(17.0,29) rotate(25)"/><use href="#ms" transform="scale(0.99,1)"/></g>
<path d="M1547.7,993.1 L1567.7,993.1 L1564.7,1013.1 L1550.7,1013.1 Z" fill="url(#cone)"/>
<g transform="translate(1557.7,1003.1) rotate(0.9) scale(1,0.910)"><use href="#ear" transform="translate(-17.0,29) rotate(-25)"/><use href="#ms" transform="scale(1.01,1)"/></g>
<path d="M1603.8,993.1 L1623.8,993.1 L1620.8,1013.1 L1606.8,1013.1 Z" fill="url(#cone)"/>
<g transform="translate(1613.8,1003.1) rotate(-4.9) scale(1,0.910)"><use href="#ear" transform="translate(17.0,29) rotate(25)"/><use href="#ms" transform="scale(1.00,1)"/></g>
<path d="M1659.9,993.1 L1679.9,993.1 L1676.9,1013.1 L1662.9,1013.1 Z" fill="url(#cone)"/>
<g transform="translate(1669.9,1003.1) rotate(6.6) scale(1,0.910)"><use href="#ear" transform="translate(-17.0,29) rotate(-25)"/><use href="#ms" transform="scale(1.00,1)"/></g>
<path d="M1716.0,993.1 L1736.0,993.1 L1733.0,1013.1 L1719.0,1013.1 Z" fill="url(#cone)"/>
<g transform="translate(1726.0,1003.1) rotate(5.0) scale(1,0.910)"><use href="#ear" transform="translate(17.0,29) rotate(25)"/><use href="#ms" transform="scale(1.01,1)"/></g>
<ellipse cx="1512.7" cy="1058.5" rx="3.88" ry="4.40" fill="#5a00ff"/>
<ellipse cx="1512.7" cy="1058.5" rx="3.10" ry="3.52" fill="#0010ff"/>
<ellipse cx="1512.7" cy="1058.5" rx="2.33" ry="2.64" fill="#00e8ff"/>
<circle cx="1559.5" cy="1064.1" r="2.5" fill="#4a00ff"/>
<circle cx="1620.5" cy="1060.4" r="3.5" fill="#4a00ff"/>
<circle cx="1620.5" cy="1060.4" r="1.9" fill="#0028ff"/>
<circle cx="1656.7" cy="1055.9" r="3.0" fill="#4a00ff"/>
<circle cx="1656.7" cy="1055.9" r="1.7" fill="#0028ff"/>
<ellipse cx="1718.4" cy="1057.8" rx="3.88" ry="4.40" fill="#5a00ff"/>
<ellipse cx="1718.4" cy="1057.8" rx="3.10" ry="3.52" fill="#0010ff"/>
<ellipse cx="1718.4" cy="1057.8" rx="2.33" ry="2.64" fill="#00e8ff"/>
</g>
<clipPath id="cp6_49"><rect x="1477.6" y="1106.0" width="273.4" height="106.6"/></clipPath>
<g clip-path="url(#cp6_49)">
<rect x="1477.6" y="1106.0" width="273.4" height="106.6" fill="#4f4f4f"/>
<rect x="1477.6" y="1106.0" width="273.4" height="16.0" fill="#3e3e3e"/>
<rect x="1479.6" y="1106.0" width="6.0" height="16.0" fill="#141414"/>
<rect x="1517.6" y="1106.0" width="6.0" height="16.0" fill="#141414"/>
<rect x="1535.7" y="1106.0" width="6.0" height="16.0" fill="#141414"/>
<rect x="1573.7" y="1106.0" width="6.0" height="16.0" fill="#141414"/>
<rect x="1591.8" y="1106.0" width="6.0" height="16.0" fill="#141414"/>
<rect x="1629.8" y="1106.0" width="6.0" height="16.0" fill="#141414"/>
<rect x="1647.9" y="1106.0" width="6.0" height="16.0" fill="#141414"/>
<rect x="1685.9" y="1106.0" width="6.0" height="16.0" fill="#141414"/>
<rect x="1704.0" y="1106.0" width="6.0" height="16.0" fill="#141414"/>
<rect x="1742.0" y="1106.0" width="6.0" height="16.0" fill="#141414"/>
<path d="M1491.6,1106.0 L1511.6,1106.0 L1508.6,1122.0 L1494.6,1122.0 Z" fill="url(#cone)"/>
<g transform="translate(1501.6,1111.6) rotate(-0.8) scale(1,0.944)"><use href="#ear" transform="translate(17.0,29) rotate(25)"/><use href="#ms" transform="scale(0.98,1)"/></g>
<path d="M1547.7,1106.0 L1567.7,1106.0 L1564.7,1122.0 L1550.7,1122.0 Z" fill="url(#cone)"/>
<g transform="translate(1557.7,1111.6) rotate(1.8) scale(1,0.944)"><use href="#ear" transform="translate(-17.0,29) rotate(-25)"/><use href="#ms" transform="scale(0.97,1)"/></g>
<path d="M1603.8,1106.0 L1623.8,1106.0 L1620.8,1122.0 L1606.8,1122.0 Z" fill="url(#cone)"/>
<g transform="translate(1613.8,1111.6) rotate(-2.6) scale(1,0.944)"><use href="#ear" transform="translate(17.0,29) rotate(25)"/><use href="#ms" transform="scale(0.99,1)"/></g>
<path d="M1659.9,1106.0 L1679.9,1106.0 L1676.9,1122.0 L1662.9,1122.0 Z" fill="url(#cone)"/>
<g transform="translate(1669.9,1111.6) rotate(7.6) scale(1,0.944)"><use href="#ear" transform="translate(17.0,29) rotate(25)"/><use href="#ms" transform="scale(0.98,1)"/></g>
<path d="M1716.0,1106.0 L1736.0,1106.0 L1733.0,1122.0 L1719.0,1122.0 Z" fill="url(#cone)"/>
<g transform="translate(1726.0,1111.6) rotate(4.6) scale(1,0.944)"><use href="#ear" transform="translate(17.0,29) rotate(25)"/><use href="#ms" transform="scale(1.05,1)"/></g>
<ellipse cx="1500.8" cy="1170.7" rx="4.37" ry="4.95" fill="#5a00ff"/>
<ellipse cx="1500.8" cy="1170.7" rx="3.59" ry="4.07" fill="#0010ff"/>
<ellipse cx="1500.8" cy="1170.7" rx="2.81" ry="3.19" fill="#00e8ff"/>
<ellipse cx="1556.5" cy="1173.3" rx="3.88" ry="4.40" fill="#5a00ff"/>
<ellipse cx="1556.5" cy="1173.3" rx="3.10" ry="3.52" fill="#0010ff"/>
<ellipse cx="1556.5" cy="1173.3" rx="2.33" ry="2.64" fill="#00e8ff"/>
<circle cx="1607.0" cy="1173.3" r="4.5" fill="#4a00ff"/>
<circle cx="1607.0" cy="1173.3" r="2.5" fill="#0028ff"/>
<circle cx="1660.8" cy="1177.5" r="3.5" fill="#4a00ff"/>
<circle cx="1660.8" cy="1177.5" r="1.9" fill="#0028ff"/>
<circle cx="1720.3" cy="1171.5" r="5.0" fill="#4a00ff"/>
<circle cx="1720.3" cy="1171.5" r="2.8" fill="#0028ff"/>
</g>
<linearGradient id="rad" x1="0" y1="0" x2="1" y2="0"><stop offset="0" stop-color="#8000ff"/><stop offset="0.104" stop-color="#0000ff"/><stop offset="0.2" stop-color="#0050ff"/><stop offset="0.329" stop-color="#00ffff"/><stop offset="0.548" stop-color="#00e400"/><stop offset="0.65" stop-color="#80f000"/><stop offset="0.773" stop-color="#ffff00"/><stop offset="0.88" stop-color="#ff9000"/><stop offset="1" stop-color="#ff0000"/></linearGradient>
<rect x="152.9" y="1069.5" width="583.8" height="39.0" fill="url(#rad)"/>
<rect x="152.9" y="1068.0" width="583.8" height="2.3" fill="#000"/>
<rect x="152.9" y="1107.2" width="583.8" height="2.3" fill="#000"/>
<rect x="735.2" y="1068.0" width="1.6" height="41.5" fill="#000"/>
<line x1="152.9" y1="1109.0" x2="152.9" y2="1122.4" stroke="#000" stroke-width="1.3"/>
<line x1="186.7" y1="1109.0" x2="186.7" y2="1122.4" stroke="#000" stroke-width="1.3"/>
<line x1="220.6" y1="1109.0" x2="220.6" y2="1122.4" stroke="#000" stroke-width="1.3"/>
<line x1="254.4" y1="1109.0" x2="254.4" y2="1133.0" stroke="#000" stroke-width="1.3"/>
<line x1="288.2" y1="1109.0" x2="288.2" y2="1122.4" stroke="#000" stroke-width="1.3"/>
<line x1="322.0" y1="1109.0" x2="322.0" y2="1122.4" stroke="#000" stroke-width="1.3"/>
<line x1="355.9" y1="1109.0" x2="355.9" y2="1122.4" stroke="#000" stroke-width="1.3"/>
<line x1="389.7" y1="1109.0" x2="389.7" y2="1122.4" stroke="#000" stroke-width="1.3"/>
<line x1="423.5" y1="1109.0" x2="423.5" y2="1133.0" stroke="#000" stroke-width="1.3"/>
<line x1="457.4" y1="1109.0" x2="457.4" y2="1122.4" stroke="#000" stroke-width="1.3"/>
<line x1="491.2" y1="1109.0" x2="491.2" y2="1122.4" stroke="#000" stroke-width="1.3"/>
<line x1="525.0" y1="1109.0" x2="525.0" y2="1122.4" stroke="#000" stroke-width="1.3"/>
<line x1="558.9" y1="1109.0" x2="558.9" y2="1122.4" stroke="#000" stroke-width="1.3"/>
<line x1="592.7" y1="1109.0" x2="592.7" y2="1133.0" stroke="#000" stroke-width="1.3"/>
<line x1="626.5" y1="1109.0" x2="626.5" y2="1122.4" stroke="#000" stroke-width="1.3"/>
<line x1="660.4" y1="1109.0" x2="660.4" y2="1122.4" stroke="#000" stroke-width="1.3"/>
<line x1="694.2" y1="1109.0" x2="694.2" y2="1122.4" stroke="#000" stroke-width="1.3"/>
<line x1="728.0" y1="1109.0" x2="728.0" y2="1122.4" stroke="#000" stroke-width="1.3"/>
<rect x="149.5" y="1125.5" width="1.5" height="1.5" fill="#000"/>
<text x="240.62" y="1158.30" font-size="22.00" fill="#3a3535" font-weight="bold" textLength="31.04" lengthAdjust="spacingAndGlyphs">0.5</text>
<text x="408.36" y="1158.30" font-size="22.00" fill="#3a3535" font-weight="bold" textLength="31.13" lengthAdjust="spacingAndGlyphs">1.0</text>
<text x="576.52" y="1158.30" font-size="23.48" fill="#3a3535" font-weight="bold" textLength="32.06" lengthAdjust="spacingAndGlyphs">1.5</text>
<text x="399.5" y="1195.5" font-size="23" fill="#111" font-weight="bold" textLength="53" lengthAdjust="spacingAndGlyphs">×10<tspan font-size="14" dy="-9.5">8</tspan></text>
<text x="770.14" y="1084.80" font-size="22.62" fill="#3a3535" font-weight="bold" textLength="99.66" lengthAdjust="spacingAndGlyphs">Radiance</text>
<text x="746.5" y="1109.5" font-size="22.5" fill="#3a3535" font-weight="bold" textLength="147" lengthAdjust="spacingAndGlyphs">(p/sec/cm<tspan font-size="14" dy="-8.5">2</tspan><tspan dy="8.5">/sr)</tspan></text>
<text x="12.47" y="1251.60" font-size="42.71" fill="#2b2421" font-weight="bold" textLength="32.97" lengthAdjust="spacingAndGlyphs">C</text>
<line x1="113.0" y1="1273.3" x2="113.0" y2="1545.4" stroke="#000" stroke-width="3.2"/>
<line x1="111.4" y1="1543.9" x2="383.2" y2="1543.9" stroke="#000" stroke-width="3.2"/>
<line x1="104.7" y1="1543.9" x2="113.0" y2="1543.9" stroke="#000" stroke-width="2.8"/>
<text x="90.37" y="1550.50" font-size="22.00" fill="#000" font-weight="bold" textLength="11.58" lengthAdjust="spacingAndGlyphs">0</text>
<line x1="104.7" y1="1490.0" x2="113.0" y2="1490.0" stroke="#000" stroke-width="2.8"/>
<text x="90.49" y="1496.64" font-size="22.32" fill="#000" font-weight="bold" textLength="11.23" lengthAdjust="spacingAndGlyphs">5</text>
<line x1="104.7" y1="1436.2" x2="113.0" y2="1436.2" stroke="#000" stroke-width="2.8"/>
<text x="76.08" y="1442.78" font-size="22.00" fill="#000" font-weight="bold" textLength="25.94" lengthAdjust="spacing">10</text>
<line x1="104.7" y1="1382.3" x2="113.0" y2="1382.3" stroke="#000" stroke-width="2.8"/>
<text x="76.06" y="1388.92" font-size="22.32" fill="#000" font-weight="bold" textLength="25.75" lengthAdjust="spacing">15</text>
<line x1="104.7" y1="1328.5" x2="113.0" y2="1328.5" stroke="#000" stroke-width="2.8"/>
<text x="76.72" y="1335.06" font-size="22.00" fill="#000" font-weight="bold" textLength="25.33" lengthAdjust="spacingAndGlyphs">20</text>
<line x1="104.7" y1="1274.6" x2="113.0" y2="1274.6" stroke="#000" stroke-width="2.8"/>
<text x="76.72" y="1281.20" font-size="22.00" fill="#000" font-weight="bold" textLength="25.09" lengthAdjust="spacingAndGlyphs">25</text>
<line x1="113.0" y1="1543.9" x2="113.0" y2="1551.8" stroke="#000" stroke-width="2.9"/>
<text x="107.22" y="1577.10" font-size="22.29" fill="#000" font-weight="bold" textLength="11.58" lengthAdjust="spacingAndGlyphs">0</text>
<line x1="151.4" y1="1543.9" x2="151.4" y2="1551.8" stroke="#000" stroke-width="2.9"/>
<text x="145.50" y="1577.10" font-size="22.61" fill="#000" font-weight="bold" textLength="11.83" lengthAdjust="spacingAndGlyphs">7</text>
<line x1="189.8" y1="1543.9" x2="189.8" y2="1551.8" stroke="#000" stroke-width="2.9"/>
<text x="176.54" y="1577.10" font-size="22.61" fill="#000" font-weight="bold" textLength="25.21" lengthAdjust="spacingAndGlyphs">14</text>
<line x1="228.2" y1="1543.9" x2="228.2" y2="1551.8" stroke="#000" stroke-width="2.9"/>
<text x="215.62" y="1577.10" font-size="22.29" fill="#000" font-weight="bold" textLength="25.09" lengthAdjust="spacingAndGlyphs">21</text>
<line x1="266.6" y1="1543.9" x2="266.6" y2="1551.8" stroke="#000" stroke-width="2.9"/>
<text x="254.02" y="1577.10" font-size="22.29" fill="#000" font-weight="bold" textLength="25.09" lengthAdjust="spacingAndGlyphs">28</text>
<line x1="305.0" y1="1543.9" x2="305.0" y2="1551.8" stroke="#000" stroke-width="2.9"/>
<text x="292.65" y="1577.10" font-size="22.29" fill="#000" font-weight="bold" textLength="24.86" lengthAdjust="spacingAndGlyphs">35</text>
<line x1="343.4" y1="1543.9" x2="343.4" y2="1551.8" stroke="#000" stroke-width="2.9"/>
<text x="331.16" y="1577.10" font-size="22.29" fill="#000" font-weight="bold" textLength="24.98" lengthAdjust="spacingAndGlyphs">42</text>
<line x1="381.8" y1="1543.9" x2="381.8" y2="1551.8" stroke="#000" stroke-width="2.9"/>
<text x="369.56" y="1577.10" font-size="22.29" fill="#000" font-weight="bold" textLength="24.98" lengthAdjust="spacingAndGlyphs">49</text>
<text x="199.97" y="1604.80" font-size="22.76" fill="#000" font-weight="bold" textLength="95.87" lengthAdjust="spacing">Time (d)</text>
<text transform="translate(36.35,1559.20) rotate(-90)" x="0" y="0" font-size="22.14" fill="#000" font-weight="bold" textLength="290.50" lengthAdjust="spacingAndGlyphs">Bioluminescence intensity</text>
<text transform="translate(67.90,1505.30) rotate(-90)" x="0" y="0" font-size="21.8" font-weight="bold" fill="#000" textLength="178.0" lengthAdjust="spacingAndGlyphs">(×10<tspan font-size="13.5" dy="-8.5">9</tspan><tspan dy="8.5"> photons/s)</tspan></text>
<text x="217.38" y="1273.90" font-size="24.70" fill="#000" font-weight="bold" textLength="79.38" lengthAdjust="spacing">Saline</text>
<polyline points="113.0,1538.5 151.4,1519.1 189.8,1464.2 228.2,1337.1" fill="none" stroke="#808080" stroke-width="3" stroke-linejoin="round"/>
<polyline points="113.0,1538.5 151.4,1522.4 189.8,1484.7 228.2,1339.2" fill="none" stroke="#808080" stroke-width="3" stroke-linejoin="round"/>
<polyline points="113.0,1539.6 151.4,1524.5 189.8,1475.0" fill="none" stroke="#808080" stroke-width="3" stroke-linejoin="round"/>
<polyline points="113.0,1540.7 151.4,1526.7 189.8,1498.7 228.2,1454.5 266.6,1418.9" fill="none" stroke="#808080" stroke-width="3" stroke-linejoin="round"/>
<polyline points="113.0,1540.7 151.4,1532.1 189.8,1509.4 228.2,1465.3 266.6,1422.2" fill="none" stroke="#808080" stroke-width="3" stroke-linejoin="round"/>
<line x1="506.3" y1="1273.3" x2="506.3" y2="1545.4" stroke="#000" stroke-width="3.2"/>
<line x1="504.7" y1="1543.9" x2="776.5" y2="1543.9" stroke="#000" stroke-width="3.2"/>
<line x1="498.0" y1="1543.9" x2="506.3" y2="1543.9" stroke="#000" stroke-width="2.8"/>
<text x="483.67" y="1550.50" font-size="22.00" fill="#000" font-weight="bold" textLength="11.58" lengthAdjust="spacingAndGlyphs">0</text>
<line x1="498.0" y1="1490.0" x2="506.3" y2="1490.0" stroke="#000" stroke-width="2.8"/>
<text x="483.79" y="1496.64" font-size="22.32" fill="#000" font-weight="bold" textLength="11.23" lengthAdjust="spacingAndGlyphs">5</text>
<line x1="498.0" y1="1436.2" x2="506.3" y2="1436.2" stroke="#000" stroke-width="2.8"/>
<text x="469.38" y="1442.78" font-size="22.00" fill="#000" font-weight="bold" textLength="25.94" lengthAdjust="spacing">10</text>
<line x1="498.0" y1="1382.3" x2="506.3" y2="1382.3" stroke="#000" stroke-width="2.8"/>
<text x="469.36" y="1388.92" font-size="22.32" fill="#000" font-weight="bold" textLength="25.75" lengthAdjust="spacing">15</text>
<line x1="498.0" y1="1328.5" x2="506.3" y2="1328.5" stroke="#000" stroke-width="2.8"/>
<text x="470.02" y="1335.06" font-size="22.00" fill="#000" font-weight="bold" textLength="25.33" lengthAdjust="spacingAndGlyphs">20</text>
<line x1="498.0" y1="1274.6" x2="506.3" y2="1274.6" stroke="#000" stroke-width="2.8"/>
<text x="470.02" y="1281.20" font-size="22.00" fill="#000" font-weight="bold" textLength="25.09" lengthAdjust="spacingAndGlyphs">25</text>
<line x1="506.3" y1="1543.9" x2="506.3" y2="1551.8" stroke="#000" stroke-width="2.9"/>
<text x="500.52" y="1577.10" font-size="22.29" fill="#000" font-weight="bold" textLength="11.58" lengthAdjust="spacingAndGlyphs">0</text>
<line x1="544.7" y1="1543.9" x2="544.7" y2="1551.8" stroke="#000" stroke-width="2.9"/>
<text x="538.80" y="1577.10" font-size="22.61" fill="#000" font-weight="bold" textLength="11.83" lengthAdjust="spacingAndGlyphs">7</text>
<line x1="583.1" y1="1543.9" x2="583.1" y2="1551.8" stroke="#000" stroke-width="2.9"/>
<text x="569.84" y="1577.10" font-size="22.61" fill="#000" font-weight="bold" textLength="25.21" lengthAdjust="spacingAndGlyphs">14</text>
<line x1="621.5" y1="1543.9" x2="621.5" y2="1551.8" stroke="#000" stroke-width="2.9"/>
<text x="608.92" y="1577.10" font-size="22.29" fill="#000" font-weight="bold" textLength="25.09" lengthAdjust="spacingAndGlyphs">21</text>
<line x1="659.9" y1="1543.9" x2="659.9" y2="1551.8" stroke="#000" stroke-width="2.9"/>
<text x="647.32" y="1577.10" font-size="22.29" fill="#000" font-weight="bold" textLength="25.09" lengthAdjust="spacingAndGlyphs">28</text>
<line x1="698.3" y1="1543.9" x2="698.3" y2="1551.8" stroke="#000" stroke-width="2.9"/>
<text x="685.95" y="1577.10" font-size="22.29" fill="#000" font-weight="bold" textLength="24.86" lengthAdjust="spacingAndGlyphs">35</text>
<line x1="736.7" y1="1543.9" x2="736.7" y2="1551.8" stroke="#000" stroke-width="2.9"/>
<text x="724.46" y="1577.10" font-size="22.29" fill="#000" font-weight="bold" textLength="24.98" lengthAdjust="spacingAndGlyphs">42</text>
<line x1="775.1" y1="1543.9" x2="775.1" y2="1551.8" stroke="#000" stroke-width="2.9"/>
<text x="762.86" y="1577.10" font-size="22.29" fill="#000" font-weight="bold" textLength="24.98" lengthAdjust="spacingAndGlyphs">49</text>
<text x="593.27" y="1604.80" font-size="22.76" fill="#000" font-weight="bold" textLength="95.87" lengthAdjust="spacing">Time (d)</text>
<text transform="translate(429.65,1559.20) rotate(-90)" x="0" y="0" font-size="22.14" fill="#000" font-weight="bold" textLength="290.50" lengthAdjust="spacingAndGlyphs">Bioluminescence intensity</text>
<text transform="translate(461.20,1505.30) rotate(-90)" x="0" y="0" font-size="21.8" font-weight="bold" fill="#000" textLength="178.0" lengthAdjust="spacingAndGlyphs">(×10<tspan font-size="13.5" dy="-8.5">9</tspan><tspan dy="8.5"> photons/s)</tspan></text>
<text x="578.69" y="1273.90" font-size="24.70" fill="#000" font-weight="bold" textLength="139.24" lengthAdjust="spacing">MSN@Lipo</text>
<polyline points="506.3,1542.8 544.7,1443.7 583.1,1399.6" fill="none" stroke="#00b800" stroke-width="3" stroke-linejoin="round"/>
<polyline points="506.3,1542.8 544.7,1468.5 583.1,1340.3" fill="none" stroke="#00b800" stroke-width="3" stroke-linejoin="round"/>
<polyline points="506.3,1542.8 544.7,1470.7 583.1,1447.0 621.5,1355.4" fill="none" stroke="#00b800" stroke-width="3" stroke-linejoin="round"/>
<polyline points="506.3,1542.8 544.7,1495.4 583.1,1486.8 621.5,1368.3" fill="none" stroke="#00b800" stroke-width="3" stroke-linejoin="round"/>
<polyline points="506.3,1542.8 544.7,1514.8 583.1,1487.9 621.5,1428.6 659.9,1354.3" fill="none" stroke="#00b800" stroke-width="3" stroke-linejoin="round"/>
<line x1="897.6" y1="1273.3" x2="897.6" y2="1545.4" stroke="#000" stroke-width="3.2"/>
<line x1="896.0" y1="1543.9" x2="1167.8" y2="1543.9" stroke="#000" stroke-width="3.2"/>
<line x1="889.3" y1="1543.9" x2="897.6" y2="1543.9" stroke="#000" stroke-width="2.8"/>
<text x="874.97" y="1550.50" font-size="22.00" fill="#000" font-weight="bold" textLength="11.58" lengthAdjust="spacingAndGlyphs">0</text>
<line x1="889.3" y1="1490.0" x2="897.6" y2="1490.0" stroke="#000" stroke-width="2.8"/>
<text x="875.09" y="1496.64" font-size="22.32" fill="#000" font-weight="bold" textLength="11.23" lengthAdjust="spacingAndGlyphs">5</text>
<line x1="889.3" y1="1436.2" x2="897.6" y2="1436.2" stroke="#000" stroke-width="2.8"/>
<text x="860.68" y="1442.78" font-size="22.00" fill="#000" font-weight="bold" textLength="25.94" lengthAdjust="spacing">10</text>
<line x1="889.3" y1="1382.3" x2="897.6" y2="1382.3" stroke="#000" stroke-width="2.8"/>
<text x="860.66" y="1388.92" font-size="22.32" fill="#000" font-weight="bold" textLength="25.75" lengthAdjust="spacing">15</text>
<line x1="889.3" y1="1328.5" x2="897.6" y2="1328.5" stroke="#000" stroke-width="2.8"/>
<text x="861.32" y="1335.06" font-size="22.00" fill="#000" font-weight="bold" textLength="25.33" lengthAdjust="spacingAndGlyphs">20</text>
<line x1="889.3" y1="1274.6" x2="897.6" y2="1274.6" stroke="#000" stroke-width="2.8"/>
<text x="861.32" y="1281.20" font-size="22.00" fill="#000" font-weight="bold" textLength="25.09" lengthAdjust="spacingAndGlyphs">25</text>
<line x1="897.6" y1="1543.9" x2="897.6" y2="1551.8" stroke="#000" stroke-width="2.9"/>
<text x="891.82" y="1577.10" font-size="22.29" fill="#000" font-weight="bold" textLength="11.58" lengthAdjust="spacingAndGlyphs">0</text>
<line x1="936.0" y1="1543.9" x2="936.0" y2="1551.8" stroke="#000" stroke-width="2.9"/>
<text x="930.10" y="1577.10" font-size="22.61" fill="#000" font-weight="bold" textLength="11.83" lengthAdjust="spacingAndGlyphs">7</text>
<line x1="974.4" y1="1543.9" x2="974.4" y2="1551.8" stroke="#000" stroke-width="2.9"/>
<text x="961.14" y="1577.10" font-size="22.61" fill="#000" font-weight="bold" textLength="25.21" lengthAdjust="spacingAndGlyphs">14</text>
<line x1="1012.8" y1="1543.9" x2="1012.8" y2="1551.8" stroke="#000" stroke-width="2.9"/>
<text x="1000.22" y="1577.10" font-size="22.29" fill="#000" font-weight="bold" textLength="25.09" lengthAdjust="spacingAndGlyphs">21</text>
<line x1="1051.2" y1="1543.9" x2="1051.2" y2="1551.8" stroke="#000" stroke-width="2.9"/>
<text x="1038.62" y="1577.10" font-size="22.29" fill="#000" font-weight="bold" textLength="25.09" lengthAdjust="spacingAndGlyphs">28</text>
<line x1="1089.6" y1="1543.9" x2="1089.6" y2="1551.8" stroke="#000" stroke-width="2.9"/>
<text x="1077.25" y="1577.10" font-size="22.29" fill="#000" font-weight="bold" textLength="24.86" lengthAdjust="spacingAndGlyphs">35</text>
<line x1="1128.0" y1="1543.9" x2="1128.0" y2="1551.8" stroke="#000" stroke-width="2.9"/>
<text x="1115.76" y="1577.10" font-size="22.29" fill="#000" font-weight="bold" textLength="24.98" lengthAdjust="spacingAndGlyphs">42</text>
<line x1="1166.4" y1="1543.9" x2="1166.4" y2="1551.8" stroke="#000" stroke-width="2.9"/>
<text x="1154.16" y="1577.10" font-size="22.29" fill="#000" font-weight="bold" textLength="24.98" lengthAdjust="spacingAndGlyphs">49</text>
<text x="984.57" y="1604.80" font-size="22.76" fill="#000" font-weight="bold" textLength="95.87" lengthAdjust="spacing">Time (d)</text>
<text transform="translate(820.95,1559.20) rotate(-90)" x="0" y="0" font-size="22.14" fill="#000" font-weight="bold" textLength="290.50" lengthAdjust="spacingAndGlyphs">Bioluminescence intensity</text>
<text transform="translate(852.50,1505.30) rotate(-90)" x="0" y="0" font-size="21.8" font-weight="bold" fill="#000" textLength="178.0" lengthAdjust="spacingAndGlyphs">(×10<tspan font-size="13.5" dy="-8.5">9</tspan><tspan dy="8.5"> photons/s)</tspan></text>
<text x="954.79" y="1273.90" font-size="24.70" fill="#000" font-weight="bold" textLength="190.31" lengthAdjust="spacing">MSN@Pla-Lipo</text>
<polyline points="897.6,1540.7 936.0,1477.1 974.4,1320.9" fill="none" stroke="#0000e6" stroke-width="3" stroke-linejoin="round"/>
<polyline points="897.6,1541.7 936.0,1489.0 974.4,1452.3 1012.8,1345.7" fill="none" stroke="#0000e6" stroke-width="3" stroke-linejoin="round"/>
<polyline points="897.6,1541.7 936.0,1495.4 974.4,1431.9 1012.8,1368.3" fill="none" stroke="#0000e6" stroke-width="3" stroke-linejoin="round"/>
<polyline points="897.6,1541.7 936.0,1486.8 974.4,1470.7 1012.8,1385.6 1051.2,1341.4" fill="none" stroke="#0000e6" stroke-width="3" stroke-linejoin="round"/>
<polyline points="897.6,1541.7 936.0,1500.8 974.4,1495.4 1012.8,1397.4 1051.2,1348.9" fill="none" stroke="#0000e6" stroke-width="3" stroke-linejoin="round"/>
<line x1="113.0" y1="1669.1" x2="113.0" y2="1941.9" stroke="#000" stroke-width="3.2"/>
<line x1="111.4" y1="1940.4" x2="383.2" y2="1940.4" stroke="#000" stroke-width="3.2"/>
<line x1="104.7" y1="1940.4" x2="113.0" y2="1940.4" stroke="#000" stroke-width="2.8"/>
<text x="90.37" y="1948.90" font-size="22.00" fill="#000" font-weight="bold" textLength="11.58" lengthAdjust="spacingAndGlyphs">0</text>
<line x1="104.7" y1="1886.4" x2="113.0" y2="1886.4" stroke="#000" stroke-width="2.8"/>
<text x="90.49" y="1894.90" font-size="22.32" fill="#000" font-weight="bold" textLength="11.23" lengthAdjust="spacingAndGlyphs">5</text>
<line x1="104.7" y1="1832.4" x2="113.0" y2="1832.4" stroke="#000" stroke-width="2.8"/>
<text x="76.08" y="1840.90" font-size="22.00" fill="#000" font-weight="bold" textLength="25.94" lengthAdjust="spacing">10</text>
<line x1="104.7" y1="1778.4" x2="113.0" y2="1778.4" stroke="#000" stroke-width="2.8"/>
<text x="76.06" y="1786.90" font-size="22.32" fill="#000" font-weight="bold" textLength="25.75" lengthAdjust="spacing">15</text>
<line x1="104.7" y1="1724.4" x2="113.0" y2="1724.4" stroke="#000" stroke-width="2.8"/>
<text x="76.72" y="1732.90" font-size="22.00" fill="#000" font-weight="bold" textLength="25.33" lengthAdjust="spacingAndGlyphs">20</text>
<line x1="104.7" y1="1670.4" x2="113.0" y2="1670.4" stroke="#000" stroke-width="2.8"/>
<text x="76.72" y="1678.90" font-size="22.00" fill="#000" font-weight="bold" textLength="25.09" lengthAdjust="spacingAndGlyphs">25</text>
<line x1="113.0" y1="1940.4" x2="113.0" y2="1948.3" stroke="#000" stroke-width="2.9"/>
<text x="107.22" y="1972.30" font-size="22.29" fill="#000" font-weight="bold" textLength="11.58" lengthAdjust="spacingAndGlyphs">0</text>
<line x1="151.4" y1="1940.4" x2="151.4" y2="1948.3" stroke="#000" stroke-width="2.9"/>
<text x="145.50" y="1972.30" font-size="22.61" fill="#000" font-weight="bold" textLength="11.83" lengthAdjust="spacingAndGlyphs">7</text>
<line x1="189.8" y1="1940.4" x2="189.8" y2="1948.3" stroke="#000" stroke-width="2.9"/>
<text x="176.54" y="1972.30" font-size="22.61" fill="#000" font-weight="bold" textLength="25.21" lengthAdjust="spacingAndGlyphs">14</text>
<line x1="228.2" y1="1940.4" x2="228.2" y2="1948.3" stroke="#000" stroke-width="2.9"/>
<text x="215.62" y="1972.30" font-size="22.29" fill="#000" font-weight="bold" textLength="25.09" lengthAdjust="spacingAndGlyphs">21</text>
<line x1="266.6" y1="1940.4" x2="266.6" y2="1948.3" stroke="#000" stroke-width="2.9"/>
<text x="254.02" y="1972.30" font-size="22.29" fill="#000" font-weight="bold" textLength="25.09" lengthAdjust="spacingAndGlyphs">28</text>
<line x1="305.0" y1="1940.4" x2="305.0" y2="1948.3" stroke="#000" stroke-width="2.9"/>
<text x="292.65" y="1972.30" font-size="22.29" fill="#000" font-weight="bold" textLength="24.86" lengthAdjust="spacingAndGlyphs">35</text>
<line x1="343.4" y1="1940.4" x2="343.4" y2="1948.3" stroke="#000" stroke-width="2.9"/>
<text x="331.16" y="1972.30" font-size="22.29" fill="#000" font-weight="bold" textLength="24.98" lengthAdjust="spacingAndGlyphs">42</text>
<line x1="381.8" y1="1940.4" x2="381.8" y2="1948.3" stroke="#000" stroke-width="2.9"/>
<text x="369.56" y="1972.30" font-size="22.29" fill="#000" font-weight="bold" textLength="24.98" lengthAdjust="spacingAndGlyphs">49</text>
<text x="199.97" y="1998.70" font-size="22.76" fill="#000" font-weight="bold" textLength="95.87" lengthAdjust="spacing">Time (d)</text>
<text transform="translate(36.35,1944.90) rotate(-90)" x="0" y="0" font-size="22.14" fill="#000" font-weight="bold" textLength="291.20" lengthAdjust="spacingAndGlyphs">Bioluminescence intensity</text>
<text transform="translate(67.90,1895.30) rotate(-90)" x="0" y="0" font-size="21.8" font-weight="bold" fill="#000" textLength="183.1" lengthAdjust="spacingAndGlyphs">(×10<tspan font-size="13.5" dy="-8.5">9</tspan><tspan dy="8.5"> photons/s)</tspan></text>
<text x="197.39" y="1671.20" font-size="24.70" fill="#000" font-weight="bold" textLength="118.78" lengthAdjust="spacing">Free DOX</text>
<polyline points="113.0,1931.8 151.4,1926.4 189.8,1832.4 228.2,1756.8" fill="none" stroke="#ff6600" stroke-width="3" stroke-linejoin="round"/>
<polyline points="113.0,1933.9 151.4,1927.4 189.8,1850.8 228.2,1807.6" fill="none" stroke="#ff6600" stroke-width="3" stroke-linejoin="round"/>
<polyline points="113.0,1932.8 151.4,1928.5 189.8,1872.4 228.2,1867.0 266.6,1794.6" fill="none" stroke="#ff6600" stroke-width="3" stroke-linejoin="round"/>
<polyline points="113.0,1935.0 151.4,1929.6 189.8,1899.4 228.2,1844.3 266.6,1780.6" fill="none" stroke="#ff6600" stroke-width="3" stroke-linejoin="round"/>
<polyline points="113.0,1935.0 151.4,1931.8 189.8,1923.1 228.2,1896.1 266.6,1860.5 305.0,1735.2" fill="none" stroke="#ff6600" stroke-width="3" stroke-linejoin="round"/>
<line x1="506.3" y1="1669.1" x2="506.3" y2="1941.9" stroke="#000" stroke-width="3.2"/>
<line x1="504.7" y1="1940.4" x2="776.5" y2="1940.4" stroke="#000" stroke-width="3.2"/>
<line x1="498.0" y1="1940.4" x2="506.3" y2="1940.4" stroke="#000" stroke-width="2.8"/>
<text x="483.67" y="1948.90" font-size="22.00" fill="#000" font-weight="bold" textLength="11.58" lengthAdjust="spacingAndGlyphs">0</text>
<line x1="498.0" y1="1886.4" x2="506.3" y2="1886.4" stroke="#000" stroke-width="2.8"/>
<text x="483.79" y="1894.90" font-size="22.32" fill="#000" font-weight="bold" textLength="11.23" lengthAdjust="spacingAndGlyphs">5</text>
<line x1="498.0" y1="1832.4" x2="506.3" y2="1832.4" stroke="#000" stroke-width="2.8"/>
<text x="469.38" y="1840.90" font-size="22.00" fill="#000" font-weight="bold" textLength="25.94" lengthAdjust="spacing">10</text>
<line x1="498.0" y1="1778.4" x2="506.3" y2="1778.4" stroke="#000" stroke-width="2.8"/>
<text x="469.36" y="1786.90" font-size="22.32" fill="#000" font-weight="bold" textLength="25.75" lengthAdjust="spacing">15</text>
<line x1="498.0" y1="1724.4" x2="506.3" y2="1724.4" stroke="#000" stroke-width="2.8"/>
<text x="470.02" y="1732.90" font-size="22.00" fill="#000" font-weight="bold" textLength="25.33" lengthAdjust="spacingAndGlyphs">20</text>
<line x1="498.0" y1="1670.4" x2="506.3" y2="1670.4" stroke="#000" stroke-width="2.8"/>
<text x="470.02" y="1678.90" font-size="22.00" fill="#000" font-weight="bold" textLength="25.09" lengthAdjust="spacingAndGlyphs">25</text>
<line x1="506.3" y1="1940.4" x2="506.3" y2="1948.3" stroke="#000" stroke-width="2.9"/>
<text x="500.52" y="1972.30" font-size="22.29" fill="#000" font-weight="bold" textLength="11.58" lengthAdjust="spacingAndGlyphs">0</text>
<line x1="544.7" y1="1940.4" x2="544.7" y2="1948.3" stroke="#000" stroke-width="2.9"/>
<text x="538.80" y="1972.30" font-size="22.61" fill="#000" font-weight="bold" textLength="11.83" lengthAdjust="spacingAndGlyphs">7</text>
<line x1="583.1" y1="1940.4" x2="583.1" y2="1948.3" stroke="#000" stroke-width="2.9"/>
<text x="569.84" y="1972.30" font-size="22.61" fill="#000" font-weight="bold" textLength="25.21" lengthAdjust="spacingAndGlyphs">14</text>
<line x1="621.5" y1="1940.4" x2="621.5" y2="1948.3" stroke="#000" stroke-width="2.9"/>
<text x="608.92" y="1972.30" font-size="22.29" fill="#000" font-weight="bold" textLength="25.09" lengthAdjust="spacingAndGlyphs">21</text>
<line x1="659.9" y1="1940.4" x2="659.9" y2="1948.3" stroke="#000" stroke-width="2.9"/>
<text x="647.32" y="1972.30" font-size="22.29" fill="#000" font-weight="bold" textLength="25.09" lengthAdjust="spacingAndGlyphs">28</text>
<line x1="698.3" y1="1940.4" x2="698.3" y2="1948.3" stroke="#000" stroke-width="2.9"/>
<text x="685.95" y="1972.30" font-size="22.29" fill="#000" font-weight="bold" textLength="24.86" lengthAdjust="spacingAndGlyphs">35</text>
<line x1="736.7" y1="1940.4" x2="736.7" y2="1948.3" stroke="#000" stroke-width="2.9"/>
<text x="724.46" y="1972.30" font-size="22.29" fill="#000" font-weight="bold" textLength="24.98" lengthAdjust="spacingAndGlyphs">42</text>
<line x1="775.1" y1="1940.4" x2="775.1" y2="1948.3" stroke="#000" stroke-width="2.9"/>
<text x="762.86" y="1972.30" font-size="22.29" fill="#000" font-weight="bold" textLength="24.98" lengthAdjust="spacingAndGlyphs">49</text>
<text x="593.27" y="1998.70" font-size="22.76" fill="#000" font-weight="bold" textLength="95.87" lengthAdjust="spacing">Time (d)</text>
<text transform="translate(429.65,1944.90) rotate(-90)" x="0" y="0" font-size="22.14" fill="#000" font-weight="bold" textLength="291.20" lengthAdjust="spacingAndGlyphs">Bioluminescence intensity</text>
<text transform="translate(461.20,1895.30) rotate(-90)" x="0" y="0" font-size="21.8" font-weight="bold" fill="#000" textLength="183.1" lengthAdjust="spacingAndGlyphs">(×10<tspan font-size="13.5" dy="-8.5">9</tspan><tspan dy="8.5"> photons/s)</tspan></text>
<text x="568.79" y="1671.20" font-size="24.70" fill="#000" font-weight="bold" textLength="159.47" lengthAdjust="spacing">DMSN@Lipo</text>
<polyline points="506.3,1933.9 544.7,1932.8 583.1,1921.0 621.5,1910.2 659.9,1764.4" fill="none" stroke="#a020f0" stroke-width="3" stroke-linejoin="round"/>
<polyline points="506.3,1935.0 544.7,1933.9 583.1,1918.8 621.5,1910.2 659.9,1815.1" fill="none" stroke="#a020f0" stroke-width="3" stroke-linejoin="round"/>
<polyline points="506.3,1936.1 544.7,1935.0 583.1,1927.4 621.5,1911.2 659.9,1832.4 698.3,1675.8" fill="none" stroke="#a020f0" stroke-width="3" stroke-linejoin="round"/>
<polyline points="506.3,1937.2 544.7,1936.1 583.1,1929.6 621.5,1924.2 659.9,1891.8 698.3,1717.9" fill="none" stroke="#a020f0" stroke-width="3" stroke-linejoin="round"/>
<polyline points="506.3,1935.0 544.7,1933.9 583.1,1923.1 621.5,1912.3 659.9,1837.8 698.3,1793.5 736.7,1686.6" fill="none" stroke="#a020f0" stroke-width="3" stroke-linejoin="round"/>
<line x1="897.6" y1="1669.1" x2="897.6" y2="1941.9" stroke="#000" stroke-width="3.2"/>
<line x1="896.0" y1="1940.4" x2="1167.8" y2="1940.4" stroke="#000" stroke-width="3.2"/>
<line x1="889.3" y1="1940.4" x2="897.6" y2="1940.4" stroke="#000" stroke-width="2.8"/>
<text x="874.97" y="1948.90" font-size="22.00" fill="#000" font-weight="bold" textLength="11.58" lengthAdjust="spacingAndGlyphs">0</text>
<line x1="889.3" y1="1886.4" x2="897.6" y2="1886.4" stroke="#000" stroke-width="2.8"/>
<text x="875.09" y="1894.90" font-size="22.32" fill="#000" font-weight="bold" textLength="11.23" lengthAdjust="spacingAndGlyphs">5</text>
<line x1="889.3" y1="1832.4" x2="897.6" y2="1832.4" stroke="#000" stroke-width="2.8"/>
<text x="860.68" y="1840.90" font-size="22.00" fill="#000" font-weight="bold" textLength="25.94" lengthAdjust="spacing">10</text>
<line x1="889.3" y1="1778.4" x2="897.6" y2="1778.4" stroke="#000" stroke-width="2.8"/>
<text x="860.66" y="1786.90" font-size="22.32" fill="#000" font-weight="bold" textLength="25.75" lengthAdjust="spacing">15</text>
<line x1="889.3" y1="1724.4" x2="897.6" y2="1724.4" stroke="#000" stroke-width="2.8"/>
<text x="861.32" y="1732.90" font-size="22.00" fill="#000" font-weight="bold" textLength="25.33" lengthAdjust="spacingAndGlyphs">20</text>
<line x1="889.3" y1="1670.4" x2="897.6" y2="1670.4" stroke="#000" stroke-width="2.8"/>
<text x="861.32" y="1678.90" font-size="22.00" fill="#000" font-weight="bold" textLength="25.09" lengthAdjust="spacingAndGlyphs">25</text>
<line x1="897.6" y1="1940.4" x2="897.6" y2="1948.3" stroke="#000" stroke-width="2.9"/>
<text x="891.82" y="1972.30" font-size="22.29" fill="#000" font-weight="bold" textLength="11.58" lengthAdjust="spacingAndGlyphs">0</text>
<line x1="936.0" y1="1940.4" x2="936.0" y2="1948.3" stroke="#000" stroke-width="2.9"/>
<text x="930.10" y="1972.30" font-size="22.61" fill="#000" font-weight="bold" textLength="11.83" lengthAdjust="spacingAndGlyphs">7</text>
<line x1="974.4" y1="1940.4" x2="974.4" y2="1948.3" stroke="#000" stroke-width="2.9"/>
<text x="961.14" y="1972.30" font-size="22.61" fill="#000" font-weight="bold" textLength="25.21" lengthAdjust="spacingAndGlyphs">14</text>
<line x1="1012.8" y1="1940.4" x2="1012.8" y2="1948.3" stroke="#000" stroke-width="2.9"/>
<text x="1000.22" y="1972.30" font-size="22.29" fill="#000" font-weight="bold" textLength="25.09" lengthAdjust="spacingAndGlyphs">21</text>
<line x1="1051.2" y1="1940.4" x2="1051.2" y2="1948.3" stroke="#000" stroke-width="2.9"/>
<text x="1038.62" y="1972.30" font-size="22.29" fill="#000" font-weight="bold" textLength="25.09" lengthAdjust="spacingAndGlyphs">28</text>
<line x1="1089.6" y1="1940.4" x2="1089.6" y2="1948.3" stroke="#000" stroke-width="2.9"/>
<text x="1077.25" y="1972.30" font-size="22.29" fill="#000" font-weight="bold" textLength="24.86" lengthAdjust="spacingAndGlyphs">35</text>
<line x1="1128.0" y1="1940.4" x2="1128.0" y2="1948.3" stroke="#000" stroke-width="2.9"/>
<text x="1115.76" y="1972.30" font-size="22.29" fill="#000" font-weight="bold" textLength="24.98" lengthAdjust="spacingAndGlyphs">42</text>
<line x1="1166.4" y1="1940.4" x2="1166.4" y2="1948.3" stroke="#000" stroke-width="2.9"/>
<text x="1154.16" y="1972.30" font-size="22.29" fill="#000" font-weight="bold" textLength="24.98" lengthAdjust="spacingAndGlyphs">49</text>
<text x="984.57" y="1998.70" font-size="22.76" fill="#000" font-weight="bold" textLength="95.87" lengthAdjust="spacing">Time (d)</text>
<text transform="translate(820.95,1944.90) rotate(-90)" x="0" y="0" font-size="22.14" fill="#000" font-weight="bold" textLength="291.20" lengthAdjust="spacingAndGlyphs">Bioluminescence intensity</text>
<text transform="translate(852.50,1895.30) rotate(-90)" x="0" y="0" font-size="21.8" font-weight="bold" fill="#000" textLength="183.1" lengthAdjust="spacingAndGlyphs">(×10<tspan font-size="13.5" dy="-8.5">9</tspan><tspan dy="8.5"> photons/s)</tspan></text>
<text x="944.39" y="1671.20" font-size="24.70" fill="#000" font-weight="bold" textLength="210.44" lengthAdjust="spacing">DMSN@Pla-Lipo</text>
<polyline points="897.6,1934.5 936.0,1938.8 974.4,1939.8 1012.8,1940.2 1051.2,1940.1 1089.6,1939.5 1128.0,1939.1 1166.4,1938.8" fill="none" stroke="#ff0000" stroke-width="3" stroke-linejoin="round"/>
<polyline points="897.6,1935.0 936.0,1939.3 974.4,1939.9 1012.8,1940.2 1051.2,1940.2 1089.6,1939.8 1128.0,1939.3 1166.4,1938.2" fill="none" stroke="#ff0000" stroke-width="3" stroke-linejoin="round"/>
<polyline points="897.6,1935.5 936.0,1939.1 974.4,1940.0 1012.8,1940.1 1051.2,1940.0 1089.6,1939.9 1128.0,1938.8 1166.4,1937.7" fill="none" stroke="#ff0000" stroke-width="3" stroke-linejoin="round"/>
<polyline points="897.6,1935.0 936.0,1939.5 974.4,1940.1 1012.8,1940.2 1051.2,1940.1 1089.6,1939.6 1128.0,1939.2 1166.4,1938.5" fill="none" stroke="#ff0000" stroke-width="3" stroke-linejoin="round"/>
<polyline points="897.6,1936.1 936.0,1939.3 974.4,1939.9 1012.8,1940.2 1051.2,1939.9 1089.6,1939.4 1128.0,1939.0 1166.4,1938.0" fill="none" stroke="#ff0000" stroke-width="3" stroke-linejoin="round"/>
<text x="1214.15" y="1252.00" font-size="45.36" fill="#2b2421" font-weight="bold" textLength="32.35" lengthAdjust="spacingAndGlyphs">E</text>
<line x1="1288.4" y1="1272.4" x2="1288.4" y2="1544.9" stroke="#000" stroke-width="3"/>
<line x1="1286.9" y1="1543.4" x2="1695.9" y2="1543.4" stroke="#000" stroke-width="3"/>
<line x1="1280.2" y1="1543.4" x2="1288.4" y2="1543.4" stroke="#000" stroke-width="2.8"/>
<text x="1265.95" y="1551.50" font-size="19.14" fill="#000" font-weight="bold" textLength="10.32" lengthAdjust="spacingAndGlyphs">0</text>
<line x1="1280.2" y1="1489.4" x2="1288.4" y2="1489.4" stroke="#000" stroke-width="2.8"/>
<text x="1255.85" y="1497.48" font-size="19.14" fill="#000" font-weight="bold" textLength="20.44" lengthAdjust="spacingAndGlyphs">20</text>
<line x1="1280.2" y1="1435.4" x2="1288.4" y2="1435.4" stroke="#000" stroke-width="2.8"/>
<text x="1256.13" y="1443.46" font-size="19.14" fill="#000" font-weight="bold" textLength="20.15" lengthAdjust="spacingAndGlyphs">40</text>
<line x1="1280.2" y1="1381.3" x2="1288.4" y2="1381.3" stroke="#000" stroke-width="2.8"/>
<text x="1255.75" y="1389.44" font-size="19.14" fill="#000" font-weight="bold" textLength="20.54" lengthAdjust="spacingAndGlyphs">60</text>
<line x1="1280.2" y1="1327.3" x2="1288.4" y2="1327.3" stroke="#000" stroke-width="2.8"/>
<text x="1255.85" y="1335.42" font-size="19.14" fill="#000" font-weight="bold" textLength="20.44" lengthAdjust="spacingAndGlyphs">80</text>
<line x1="1280.2" y1="1273.3" x2="1288.4" y2="1273.3" stroke="#000" stroke-width="2.8"/>
<text x="1244.76" y="1281.40" font-size="19.14" fill="#000" font-weight="bold" textLength="31.56" lengthAdjust="spacingAndGlyphs">100</text>
<line x1="1288.4" y1="1543.4" x2="1288.4" y2="1551.7" stroke="#000" stroke-width="2.8"/>
<text x="1283.61" y="1572.90" font-size="18.86" fill="#000" font-weight="bold" textLength="10.21" lengthAdjust="spacingAndGlyphs">0</text>
<line x1="1329.0" y1="1543.4" x2="1329.0" y2="1548.6" stroke="#000" stroke-width="2.8"/>
<line x1="1369.6" y1="1543.4" x2="1369.6" y2="1551.7" stroke="#000" stroke-width="2.8"/>
<text x="1359.79" y="1572.90" font-size="18.86" fill="#000" font-weight="bold" textLength="20.44" lengthAdjust="spacingAndGlyphs">20</text>
<line x1="1410.3" y1="1543.4" x2="1410.3" y2="1548.6" stroke="#000" stroke-width="2.8"/>
<line x1="1450.9" y1="1543.4" x2="1450.9" y2="1551.7" stroke="#000" stroke-width="2.8"/>
<text x="1441.31" y="1572.90" font-size="18.86" fill="#000" font-weight="bold" textLength="20.15" lengthAdjust="spacingAndGlyphs">40</text>
<line x1="1491.5" y1="1543.4" x2="1491.5" y2="1548.6" stroke="#000" stroke-width="2.8"/>
<line x1="1532.1" y1="1543.4" x2="1532.1" y2="1551.7" stroke="#000" stroke-width="2.8"/>
<text x="1522.17" y="1572.90" font-size="18.86" fill="#000" font-weight="bold" textLength="20.54" lengthAdjust="spacingAndGlyphs">60</text>
<line x1="1572.7" y1="1543.4" x2="1572.7" y2="1548.6" stroke="#000" stroke-width="2.8"/>
<line x1="1613.4" y1="1543.4" x2="1613.4" y2="1551.7" stroke="#000" stroke-width="2.8"/>
<text x="1603.51" y="1572.90" font-size="18.86" fill="#000" font-weight="bold" textLength="20.44" lengthAdjust="spacingAndGlyphs">80</text>
<line x1="1654.0" y1="1543.4" x2="1654.0" y2="1548.6" stroke="#000" stroke-width="2.8"/>
<line x1="1694.6" y1="1543.4" x2="1694.6" y2="1551.7" stroke="#000" stroke-width="2.8"/>
<text x="1678.91" y="1572.90" font-size="18.86" fill="#000" font-weight="bold" textLength="31.56" lengthAdjust="spacingAndGlyphs">100</text>
<text x="1452.79" y="1604.50" font-size="20.55" fill="#000" font-weight="bold" textLength="85.14" lengthAdjust="spacing">Time (d)</text>
<text transform="translate(1239.19,1470.05) rotate(-90)" x="0" y="0" font-size="22.89" fill="#000" font-weight="bold" textLength="126.14" lengthAdjust="spacingAndGlyphs">Survival (%)</text>
<polyline points="1288.4,1273.3 1532.1,1273.3 1532.1,1327.3 1654.0,1327.3" fill="none" stroke="#f5331f" stroke-width="3.2"/>
<polyline points="1288.4,1273.3 1385.9,1273.3 1385.9,1327.3 1398.1,1327.3 1398.1,1381.3 1406.2,1381.3 1406.2,1435.4 1426.5,1435.4 1426.5,1489.4 1442.8,1489.4 1442.8,1543.4 1442.8,1543.4" fill="none" stroke="#ff7f00" stroke-width="3.2"/>
<polyline points="1288.4,1273.3 1357.5,1273.3 1357.5,1327.3 1369.6,1327.3 1369.6,1381.3 1385.9,1381.3 1385.9,1435.4 1398.1,1435.4 1398.1,1489.4 1418.4,1489.4 1418.4,1543.4 1418.4,1543.4" fill="none" stroke="#00bb00" stroke-width="3.2"/>
<polyline points="1288.4,1273.3 1369.6,1273.3 1369.6,1327.3 1377.8,1327.3 1377.8,1381.3 1381.8,1381.3 1381.8,1435.4 1418.4,1435.4 1418.4,1489.4 1426.5,1489.4 1426.5,1543.4 1426.5,1543.4" fill="none" stroke="#0033ff" stroke-width="3.2"/>
<polyline points="1288.4,1273.3 1414.3,1273.3 1414.3,1327.3 1422.4,1327.3 1422.4,1381.3 1434.6,1381.3 1434.6,1435.4 1454.9,1435.4 1454.9,1489.4 1463.1,1489.4 1463.1,1543.4 1463.1,1543.4" fill="none" stroke="#b62fe8" stroke-width="3.2"/>
<polyline points="1288.4,1273.3 1365.6,1273.3 1365.6,1327.3 1385.9,1327.3 1385.9,1381.3 1394.0,1381.3 1394.0,1435.4 1410.3,1435.4 1410.3,1489.4 1418.4,1489.4 1418.4,1543.4 1418.4,1543.4" fill="none" stroke="#999999" stroke-width="3.2"/>
<text x="1553" y="1320.5" font-size="18.5" font-weight="bold" fill="#000" textLength="90" lengthAdjust="spacing"><tspan font-style="italic">p</tspan> = 0.0018</text>
<line x1="1562.0" y1="1361.0" x2="1594.0" y2="1361.0" stroke="#999999" stroke-width="3.4"/>
<text x="1602.58" y="1367.20" font-size="18.00" fill="#000" font-weight="bold" textLength="49.95" lengthAdjust="spacingAndGlyphs">Saline</text>
<line x1="1562.0" y1="1389.5" x2="1594.0" y2="1389.5" stroke="#00bb00" stroke-width="3.4"/>
<text x="1601.88" y="1395.65" font-size="18.00" fill="#000" font-weight="bold" textLength="91.27" lengthAdjust="spacingAndGlyphs">MSN@Lipo</text>
<line x1="1562.0" y1="1417.9" x2="1594.0" y2="1417.9" stroke="#0033ff" stroke-width="3.4"/>
<text x="1601.88" y="1424.10" font-size="18.00" fill="#000" font-weight="bold" textLength="122.55" lengthAdjust="spacingAndGlyphs">MSN@Pla-Lipo</text>
<line x1="1562.0" y1="1446.3" x2="1594.0" y2="1446.3" stroke="#ff7f00" stroke-width="3.4"/>
<text x="1601.88" y="1452.55" font-size="18.00" fill="#000" font-weight="bold" textLength="78.24" lengthAdjust="spacingAndGlyphs">Free DOX</text>
<line x1="1562.0" y1="1474.8" x2="1594.0" y2="1474.8" stroke="#b62fe8" stroke-width="3.4"/>
<text x="1601.87" y="1481.00" font-size="18.00" fill="#000" font-weight="bold" textLength="104.74" lengthAdjust="spacingAndGlyphs">DMSN@Lipo</text>
<line x1="1562.0" y1="1503.2" x2="1594.0" y2="1503.2" stroke="#f5331f" stroke-width="3.4"/>
<text x="1601.88" y="1509.45" font-size="18.00" fill="#000" font-weight="bold" textLength="136.01" lengthAdjust="spacingAndGlyphs">DMSN@Pla-Lipo</text>
<text x="1217.96" y="1643.80" font-size="44.93" fill="#2b2421" font-weight="bold" textLength="27.67" lengthAdjust="spacingAndGlyphs">F</text>
<line x1="1288.4" y1="1668.8" x2="1288.4" y2="1941.3" stroke="#000" stroke-width="3"/>
<line x1="1286.9" y1="1939.8" x2="1559.7" y2="1939.8" stroke="#000" stroke-width="3"/>
<line x1="1280.9" y1="1939.8" x2="1288.4" y2="1939.8" stroke="#000" stroke-width="2.8"/>
<text x="1265.94" y="1949.20" font-size="20.43" fill="#000" font-weight="bold" textLength="12.04" lengthAdjust="spacingAndGlyphs">0</text>
<line x1="1280.9" y1="1885.9" x2="1288.4" y2="1885.9" stroke="#000" stroke-width="2.8"/>
<text x="1266.07" y="1895.30" font-size="20.72" fill="#000" font-weight="bold" textLength="11.68" lengthAdjust="spacingAndGlyphs">5</text>
<line x1="1280.9" y1="1832.0" x2="1288.4" y2="1832.0" stroke="#000" stroke-width="2.8"/>
<text x="1252.17" y="1841.40" font-size="20.43" fill="#000" font-weight="bold" textLength="25.79" lengthAdjust="spacing">10</text>
<line x1="1280.9" y1="1778.1" x2="1288.4" y2="1778.1" stroke="#000" stroke-width="2.8"/>
<text x="1252.16" y="1787.50" font-size="20.72" fill="#000" font-weight="bold" textLength="25.61" lengthAdjust="spacing">15</text>
<line x1="1280.9" y1="1724.2" x2="1288.4" y2="1724.2" stroke="#000" stroke-width="2.8"/>
<text x="1252.79" y="1733.60" font-size="20.43" fill="#000" font-weight="bold" textLength="25.18" lengthAdjust="spacing">20</text>
<line x1="1280.9" y1="1670.3" x2="1288.4" y2="1670.3" stroke="#000" stroke-width="2.8"/>
<text x="1252.79" y="1679.70" font-size="20.43" fill="#000" font-weight="bold" textLength="24.97" lengthAdjust="spacing">25</text>
<line x1="1288.4" y1="1939.8" x2="1288.4" y2="1948.2" stroke="#000" stroke-width="2.8"/>
<text x="1283.41" y="1971.70" font-size="18.71" fill="#000" font-weight="bold" textLength="11.01" lengthAdjust="spacingAndGlyphs">0</text>
<line x1="1297.4" y1="1937.4" x2="1297.4" y2="1942.2" stroke="#000" stroke-width="1.0"/>
<line x1="1306.4" y1="1937.4" x2="1306.4" y2="1942.2" stroke="#000" stroke-width="1.0"/>
<line x1="1315.4" y1="1937.4" x2="1315.4" y2="1942.2" stroke="#000" stroke-width="1.0"/>
<line x1="1324.4" y1="1937.4" x2="1324.4" y2="1942.2" stroke="#000" stroke-width="1.0"/>
<line x1="1333.4" y1="1937.4" x2="1333.4" y2="1942.2" stroke="#000" stroke-width="1.0"/>
<line x1="1342.4" y1="1937.4" x2="1342.4" y2="1942.2" stroke="#000" stroke-width="1.0"/>
<line x1="1351.4" y1="1937.4" x2="1351.4" y2="1942.2" stroke="#000" stroke-width="1.0"/>
<line x1="1360.4" y1="1937.4" x2="1360.4" y2="1942.2" stroke="#000" stroke-width="1.0"/>
<line x1="1369.4" y1="1937.4" x2="1369.4" y2="1942.2" stroke="#000" stroke-width="1.0"/>
<line x1="1378.4" y1="1939.8" x2="1378.4" y2="1948.2" stroke="#000" stroke-width="2.8"/>
<text x="1366.28" y="1971.70" font-size="18.71" fill="#000" font-weight="bold" textLength="24.82" lengthAdjust="spacing">10</text>
<line x1="1387.4" y1="1937.4" x2="1387.4" y2="1942.2" stroke="#000" stroke-width="1.0"/>
<line x1="1396.4" y1="1937.4" x2="1396.4" y2="1942.2" stroke="#000" stroke-width="1.0"/>
<line x1="1405.4" y1="1937.4" x2="1405.4" y2="1942.2" stroke="#000" stroke-width="1.0"/>
<line x1="1414.4" y1="1937.4" x2="1414.4" y2="1942.2" stroke="#000" stroke-width="1.0"/>
<line x1="1423.4" y1="1937.4" x2="1423.4" y2="1942.2" stroke="#000" stroke-width="1.0"/>
<line x1="1432.4" y1="1937.4" x2="1432.4" y2="1942.2" stroke="#000" stroke-width="1.0"/>
<line x1="1441.4" y1="1937.4" x2="1441.4" y2="1942.2" stroke="#000" stroke-width="1.0"/>
<line x1="1450.4" y1="1937.4" x2="1450.4" y2="1942.2" stroke="#000" stroke-width="1.0"/>
<line x1="1459.4" y1="1937.4" x2="1459.4" y2="1942.2" stroke="#000" stroke-width="1.0"/>
<line x1="1468.4" y1="1939.8" x2="1468.4" y2="1948.2" stroke="#000" stroke-width="2.8"/>
<text x="1456.84" y="1971.70" font-size="18.71" fill="#000" font-weight="bold" textLength="24.26" lengthAdjust="spacing">20</text>
<line x1="1477.4" y1="1937.4" x2="1477.4" y2="1942.2" stroke="#000" stroke-width="1.0"/>
<line x1="1486.4" y1="1937.4" x2="1486.4" y2="1942.2" stroke="#000" stroke-width="1.0"/>
<line x1="1495.4" y1="1937.4" x2="1495.4" y2="1942.2" stroke="#000" stroke-width="1.0"/>
<line x1="1504.4" y1="1937.4" x2="1504.4" y2="1942.2" stroke="#000" stroke-width="1.0"/>
<line x1="1513.4" y1="1937.4" x2="1513.4" y2="1942.2" stroke="#000" stroke-width="1.0"/>
<line x1="1522.4" y1="1937.4" x2="1522.4" y2="1942.2" stroke="#000" stroke-width="1.0"/>
<line x1="1531.4" y1="1937.4" x2="1531.4" y2="1942.2" stroke="#000" stroke-width="1.0"/>
<line x1="1540.4" y1="1937.4" x2="1540.4" y2="1942.2" stroke="#000" stroke-width="1.0"/>
<line x1="1549.4" y1="1937.4" x2="1549.4" y2="1942.2" stroke="#000" stroke-width="1.0"/>
<line x1="1558.4" y1="1939.8" x2="1558.4" y2="1948.2" stroke="#000" stroke-width="2.8"/>
<text x="1547.03" y="1971.70" font-size="18.71" fill="#000" font-weight="bold" textLength="24.07" lengthAdjust="spacing">30</text>
<text x="1380.49" y="1998.50" font-size="20.69" fill="#000" font-weight="bold" textLength="95.45" lengthAdjust="spacing">Time (d)</text>
<text transform="translate(1239.19,1894.18) rotate(-90)" x="0" y="0" font-size="22.89" fill="#000" font-weight="bold" textLength="182.38" lengthAdjust="spacingAndGlyphs">Body weight (g)</text>
<polyline points="1288.4,1711.3 1351.4,1710.2 1414.4,1708.0 1477.4,1707.0 1540.4,1718.8" fill="none" stroke="#808080" stroke-width="2.6"/>
<line x1="1288.4" y1="1707.0" x2="1288.4" y2="1715.6" stroke="#808080" stroke-width="2.2"/>
<line x1="1284.4" y1="1707.0" x2="1292.4" y2="1707.0" stroke="#808080" stroke-width="2.2"/>
<line x1="1284.4" y1="1715.6" x2="1292.4" y2="1715.6" stroke="#808080" stroke-width="2.2"/>
<circle cx="1288.4" cy="1711.3" r="6.5" fill="#808080"/>
<line x1="1351.4" y1="1705.9" x2="1351.4" y2="1714.5" stroke="#808080" stroke-width="2.2"/>
<line x1="1347.4" y1="1705.9" x2="1355.4" y2="1705.9" stroke="#808080" stroke-width="2.2"/>
<line x1="1347.4" y1="1714.5" x2="1355.4" y2="1714.5" stroke="#808080" stroke-width="2.2"/>
<circle cx="1351.4" cy="1710.2" r="6.5" fill="#808080"/>
<line x1="1414.4" y1="1702.6" x2="1414.4" y2="1713.4" stroke="#808080" stroke-width="2.2"/>
<line x1="1410.4" y1="1702.6" x2="1418.4" y2="1702.6" stroke="#808080" stroke-width="2.2"/>
<line x1="1410.4" y1="1713.4" x2="1418.4" y2="1713.4" stroke="#808080" stroke-width="2.2"/>
<circle cx="1414.4" cy="1708.0" r="6.5" fill="#808080"/>
<line x1="1477.4" y1="1697.2" x2="1477.4" y2="1716.7" stroke="#808080" stroke-width="2.2"/>
<line x1="1473.4" y1="1697.2" x2="1481.4" y2="1697.2" stroke="#808080" stroke-width="2.2"/>
<line x1="1473.4" y1="1716.7" x2="1481.4" y2="1716.7" stroke="#808080" stroke-width="2.2"/>
<circle cx="1477.4" cy="1707.0" r="6.5" fill="#808080"/>
<line x1="1540.4" y1="1709.1" x2="1540.4" y2="1728.5" stroke="#808080" stroke-width="2.2"/>
<line x1="1536.4" y1="1709.1" x2="1544.4" y2="1709.1" stroke="#808080" stroke-width="2.2"/>
<line x1="1536.4" y1="1728.5" x2="1544.4" y2="1728.5" stroke="#808080" stroke-width="2.2"/>
<circle cx="1540.4" cy="1718.8" r="6.5" fill="#808080"/>
<polyline points="1288.4,1714.5 1351.4,1717.7 1414.4,1725.3 1477.4,1719.9 1540.4,1714.5" fill="none" stroke="#22bb22" stroke-width="2.6"/>
<line x1="1288.4" y1="1710.2" x2="1288.4" y2="1718.8" stroke="#22bb22" stroke-width="2.2"/>
<line x1="1284.4" y1="1710.2" x2="1292.4" y2="1710.2" stroke="#22bb22" stroke-width="2.2"/>
<line x1="1284.4" y1="1718.8" x2="1292.4" y2="1718.8" stroke="#22bb22" stroke-width="2.2"/>
<path d="M1288.4,1708.0 L1294.9,1719.0 L1281.9,1719.0 Z" fill="#22bb22"/>
<line x1="1351.4" y1="1712.3" x2="1351.4" y2="1723.1" stroke="#22bb22" stroke-width="2.2"/>
<line x1="1347.4" y1="1712.3" x2="1355.4" y2="1712.3" stroke="#22bb22" stroke-width="2.2"/>
<line x1="1347.4" y1="1723.1" x2="1355.4" y2="1723.1" stroke="#22bb22" stroke-width="2.2"/>
<path d="M1351.4,1711.2 L1357.9,1722.3 L1344.9,1722.3 Z" fill="#22bb22"/>
<line x1="1414.4" y1="1718.8" x2="1414.4" y2="1731.7" stroke="#22bb22" stroke-width="2.2"/>
<line x1="1410.4" y1="1718.8" x2="1418.4" y2="1718.8" stroke="#22bb22" stroke-width="2.2"/>
<line x1="1410.4" y1="1731.7" x2="1418.4" y2="1731.7" stroke="#22bb22" stroke-width="2.2"/>
<path d="M1414.4,1718.8 L1420.9,1729.8 L1407.9,1729.8 Z" fill="#22bb22"/>
<line x1="1477.4" y1="1713.4" x2="1477.4" y2="1726.4" stroke="#22bb22" stroke-width="2.2"/>
<line x1="1473.4" y1="1713.4" x2="1481.4" y2="1713.4" stroke="#22bb22" stroke-width="2.2"/>
<line x1="1473.4" y1="1726.4" x2="1481.4" y2="1726.4" stroke="#22bb22" stroke-width="2.2"/>
<path d="M1477.4,1713.4 L1483.9,1724.4 L1470.9,1724.4 Z" fill="#22bb22"/>
<line x1="1540.4" y1="1709.1" x2="1540.4" y2="1719.9" stroke="#22bb22" stroke-width="2.2"/>
<line x1="1536.4" y1="1709.1" x2="1544.4" y2="1709.1" stroke="#22bb22" stroke-width="2.2"/>
<line x1="1536.4" y1="1719.9" x2="1544.4" y2="1719.9" stroke="#22bb22" stroke-width="2.2"/>
<path d="M1540.4,1708.0 L1546.9,1719.0 L1533.9,1719.0 Z" fill="#22bb22"/>
<polyline points="1288.4,1710.2 1351.4,1715.6 1414.4,1723.1 1477.4,1724.2 1540.4,1713.4" fill="none" stroke="#1a3cff" stroke-width="2.6"/>
<line x1="1288.4" y1="1705.9" x2="1288.4" y2="1714.5" stroke="#1a3cff" stroke-width="2.2"/>
<line x1="1284.4" y1="1705.9" x2="1292.4" y2="1705.9" stroke="#1a3cff" stroke-width="2.2"/>
<line x1="1284.4" y1="1714.5" x2="1292.4" y2="1714.5" stroke="#1a3cff" stroke-width="2.2"/>
<rect x="1283.6" y="1705.4" width="9.6" height="9.6" fill="none" stroke="#1a3cff" stroke-width="2.4"/>
<line x1="1351.4" y1="1709.1" x2="1351.4" y2="1722.0" stroke="#1a3cff" stroke-width="2.2"/>
<line x1="1347.4" y1="1709.1" x2="1355.4" y2="1709.1" stroke="#1a3cff" stroke-width="2.2"/>
<line x1="1347.4" y1="1722.0" x2="1355.4" y2="1722.0" stroke="#1a3cff" stroke-width="2.2"/>
<rect x="1346.6" y="1710.8" width="9.6" height="9.6" fill="none" stroke="#1a3cff" stroke-width="2.4"/>
<line x1="1414.4" y1="1716.7" x2="1414.4" y2="1729.6" stroke="#1a3cff" stroke-width="2.2"/>
<line x1="1410.4" y1="1716.7" x2="1418.4" y2="1716.7" stroke="#1a3cff" stroke-width="2.2"/>
<line x1="1410.4" y1="1729.6" x2="1418.4" y2="1729.6" stroke="#1a3cff" stroke-width="2.2"/>
<rect x="1409.6" y="1718.3" width="9.6" height="9.6" fill="none" stroke="#1a3cff" stroke-width="2.4"/>
<line x1="1477.4" y1="1714.5" x2="1477.4" y2="1733.9" stroke="#1a3cff" stroke-width="2.2"/>
<line x1="1473.4" y1="1714.5" x2="1481.4" y2="1714.5" stroke="#1a3cff" stroke-width="2.2"/>
<line x1="1473.4" y1="1733.9" x2="1481.4" y2="1733.9" stroke="#1a3cff" stroke-width="2.2"/>
<rect x="1472.6" y="1719.4" width="9.6" height="9.6" fill="none" stroke="#1a3cff" stroke-width="2.4"/>
<line x1="1540.4" y1="1707.0" x2="1540.4" y2="1719.9" stroke="#1a3cff" stroke-width="2.2"/>
<line x1="1536.4" y1="1707.0" x2="1544.4" y2="1707.0" stroke="#1a3cff" stroke-width="2.2"/>
<line x1="1536.4" y1="1719.9" x2="1544.4" y2="1719.9" stroke="#1a3cff" stroke-width="2.2"/>
<rect x="1535.6" y="1708.6" width="9.6" height="9.6" fill="none" stroke="#1a3cff" stroke-width="2.4"/>
<polyline points="1288.4,1719.9 1351.4,1717.7 1414.4,1718.8 1477.4,1722.0 1540.4,1711.3" fill="none" stroke="#ff7f27" stroke-width="2.6"/>
<line x1="1288.4" y1="1715.6" x2="1288.4" y2="1724.2" stroke="#ff7f27" stroke-width="2.2"/>
<line x1="1284.4" y1="1715.6" x2="1292.4" y2="1715.6" stroke="#ff7f27" stroke-width="2.2"/>
<line x1="1284.4" y1="1724.2" x2="1292.4" y2="1724.2" stroke="#ff7f27" stroke-width="2.2"/>
<path d="M1288.4,1725.9 L1294.4,1715.7 L1282.4,1715.7 Z" fill="#ff7f27"/>
<line x1="1351.4" y1="1713.4" x2="1351.4" y2="1722.0" stroke="#ff7f27" stroke-width="2.2"/>
<line x1="1347.4" y1="1713.4" x2="1355.4" y2="1713.4" stroke="#ff7f27" stroke-width="2.2"/>
<line x1="1347.4" y1="1722.0" x2="1355.4" y2="1722.0" stroke="#ff7f27" stroke-width="2.2"/>
<path d="M1351.4,1723.7 L1357.4,1713.5 L1345.4,1713.5 Z" fill="#ff7f27"/>
<line x1="1414.4" y1="1713.4" x2="1414.4" y2="1724.2" stroke="#ff7f27" stroke-width="2.2"/>
<line x1="1410.4" y1="1713.4" x2="1418.4" y2="1713.4" stroke="#ff7f27" stroke-width="2.2"/>
<line x1="1410.4" y1="1724.2" x2="1418.4" y2="1724.2" stroke="#ff7f27" stroke-width="2.2"/>
<path d="M1414.4,1724.8 L1420.4,1714.6 L1408.4,1714.6 Z" fill="#ff7f27"/>
<line x1="1477.4" y1="1716.7" x2="1477.4" y2="1727.4" stroke="#ff7f27" stroke-width="2.2"/>
<line x1="1473.4" y1="1716.7" x2="1481.4" y2="1716.7" stroke="#ff7f27" stroke-width="2.2"/>
<line x1="1473.4" y1="1727.4" x2="1481.4" y2="1727.4" stroke="#ff7f27" stroke-width="2.2"/>
<path d="M1477.4,1728.0 L1483.4,1717.8 L1471.4,1717.8 Z" fill="#ff7f27"/>
<line x1="1540.4" y1="1701.6" x2="1540.4" y2="1721.0" stroke="#ff7f27" stroke-width="2.2"/>
<line x1="1536.4" y1="1701.6" x2="1544.4" y2="1701.6" stroke="#ff7f27" stroke-width="2.2"/>
<line x1="1536.4" y1="1721.0" x2="1544.4" y2="1721.0" stroke="#ff7f27" stroke-width="2.2"/>
<path d="M1540.4,1717.3 L1546.4,1707.1 L1534.4,1707.1 Z" fill="#ff7f27"/>
<polyline points="1288.4,1716.7 1351.4,1710.2 1414.4,1705.9 1477.4,1707.0 1540.4,1705.9" fill="none" stroke="#aa22ee" stroke-width="2.6"/>
<line x1="1288.4" y1="1712.3" x2="1288.4" y2="1721.0" stroke="#aa22ee" stroke-width="2.2"/>
<line x1="1284.4" y1="1712.3" x2="1292.4" y2="1712.3" stroke="#aa22ee" stroke-width="2.2"/>
<line x1="1284.4" y1="1721.0" x2="1292.4" y2="1721.0" stroke="#aa22ee" stroke-width="2.2"/>
<circle cx="1288.4" cy="1716.7" r="6.5" fill="#aa22ee"/>
<line x1="1351.4" y1="1704.8" x2="1351.4" y2="1715.6" stroke="#aa22ee" stroke-width="2.2"/>
<line x1="1347.4" y1="1704.8" x2="1355.4" y2="1704.8" stroke="#aa22ee" stroke-width="2.2"/>
<line x1="1347.4" y1="1715.6" x2="1355.4" y2="1715.6" stroke="#aa22ee" stroke-width="2.2"/>
<circle cx="1351.4" cy="1710.2" r="6.5" fill="#aa22ee"/>
<line x1="1414.4" y1="1695.1" x2="1414.4" y2="1716.7" stroke="#aa22ee" stroke-width="2.2"/>
<line x1="1410.4" y1="1695.1" x2="1418.4" y2="1695.1" stroke="#aa22ee" stroke-width="2.2"/>
<line x1="1410.4" y1="1716.7" x2="1418.4" y2="1716.7" stroke="#aa22ee" stroke-width="2.2"/>
<circle cx="1414.4" cy="1705.9" r="6.5" fill="#aa22ee"/>
<line x1="1477.4" y1="1701.6" x2="1477.4" y2="1712.3" stroke="#aa22ee" stroke-width="2.2"/>
<line x1="1473.4" y1="1701.6" x2="1481.4" y2="1701.6" stroke="#aa22ee" stroke-width="2.2"/>
<line x1="1473.4" y1="1712.3" x2="1481.4" y2="1712.3" stroke="#aa22ee" stroke-width="2.2"/>
<circle cx="1477.4" cy="1707.0" r="6.5" fill="#aa22ee"/>
<line x1="1540.4" y1="1699.4" x2="1540.4" y2="1712.3" stroke="#aa22ee" stroke-width="2.2"/>
<line x1="1536.4" y1="1699.4" x2="1544.4" y2="1699.4" stroke="#aa22ee" stroke-width="2.2"/>
<line x1="1536.4" y1="1712.3" x2="1544.4" y2="1712.3" stroke="#aa22ee" stroke-width="2.2"/>
<circle cx="1540.4" cy="1705.9" r="6.5" fill="#aa22ee"/>
<polyline points="1288.4,1707.0 1351.4,1704.8 1414.4,1707.0 1477.4,1710.2 1540.4,1707.0" fill="none" stroke="#ff0000" stroke-width="2.6"/>
<line x1="1288.4" y1="1699.4" x2="1288.4" y2="1714.5" stroke="#ff0000" stroke-width="2.2"/>
<line x1="1284.4" y1="1699.4" x2="1292.4" y2="1699.4" stroke="#ff0000" stroke-width="2.2"/>
<line x1="1284.4" y1="1714.5" x2="1292.4" y2="1714.5" stroke="#ff0000" stroke-width="2.2"/>
<rect x="1281.4" y="1700.0" width="14" height="14" fill="#ff0000"/>
<line x1="1351.4" y1="1698.3" x2="1351.4" y2="1711.3" stroke="#ff0000" stroke-width="2.2"/>
<line x1="1347.4" y1="1698.3" x2="1355.4" y2="1698.3" stroke="#ff0000" stroke-width="2.2"/>
<line x1="1347.4" y1="1711.3" x2="1355.4" y2="1711.3" stroke="#ff0000" stroke-width="2.2"/>
<rect x="1344.4" y="1697.8" width="14" height="14" fill="#ff0000"/>
<line x1="1414.4" y1="1700.5" x2="1414.4" y2="1713.4" stroke="#ff0000" stroke-width="2.2"/>
<line x1="1410.4" y1="1700.5" x2="1418.4" y2="1700.5" stroke="#ff0000" stroke-width="2.2"/>
<line x1="1410.4" y1="1713.4" x2="1418.4" y2="1713.4" stroke="#ff0000" stroke-width="2.2"/>
<rect x="1407.4" y="1700.0" width="14" height="14" fill="#ff0000"/>
<line x1="1477.4" y1="1702.6" x2="1477.4" y2="1717.7" stroke="#ff0000" stroke-width="2.2"/>
<line x1="1473.4" y1="1702.6" x2="1481.4" y2="1702.6" stroke="#ff0000" stroke-width="2.2"/>
<line x1="1473.4" y1="1717.7" x2="1481.4" y2="1717.7" stroke="#ff0000" stroke-width="2.2"/>
<rect x="1470.4" y="1703.2" width="14" height="14" fill="#ff0000"/>
<line x1="1540.4" y1="1700.5" x2="1540.4" y2="1713.4" stroke="#ff0000" stroke-width="2.2"/>
<line x1="1536.4" y1="1700.5" x2="1544.4" y2="1700.5" stroke="#ff0000" stroke-width="2.2"/>
<line x1="1536.4" y1="1713.4" x2="1544.4" y2="1713.4" stroke="#ff0000" stroke-width="2.2"/>
<rect x="1533.4" y="1700.0" width="14" height="14" fill="#ff0000"/>
<line x1="1563.3" y1="1747.5" x2="1592.3" y2="1747.5" stroke="#808080" stroke-width="3"/>
<circle cx="1578.0" cy="1747.5" r="5.5" fill="#808080"/>
<text x="1603.25" y="1756.30" font-size="18.20" fill="#000" font-weight="bold" textLength="56.62" lengthAdjust="spacing">Saline</text>
<line x1="1563.3" y1="1777.6" x2="1592.3" y2="1777.6" stroke="#22bb22" stroke-width="3"/>
<path d="M1578.0,1771.1 L1584.5,1782.1 L1571.5,1782.1 Z" fill="#22bb22"/>
<text x="1602.52" y="1786.40" font-size="18.20" fill="#000" font-weight="bold" textLength="101.67" lengthAdjust="spacing">MSN@Lipo</text>
<line x1="1563.3" y1="1807.7" x2="1592.3" y2="1807.7" stroke="#1a3cff" stroke-width="3"/>
<rect x="1573.2" y="1802.9" width="9.6" height="9.6" fill="none" stroke="#1a3cff" stroke-width="2.4"/>
<text x="1602.52" y="1816.50" font-size="18.20" fill="#000" font-weight="bold" textLength="137.65" lengthAdjust="spacing">MSN@Pla-Lipo</text>
<line x1="1563.3" y1="1837.8" x2="1592.3" y2="1837.8" stroke="#ff7f27" stroke-width="3"/>
<path d="M1578.0,1843.8 L1584.0,1833.6 L1572.0,1833.6 Z" fill="#ff7f27"/>
<text x="1602.49" y="1846.60" font-size="18.20" fill="#000" font-weight="bold" textLength="85.05" lengthAdjust="spacingAndGlyphs">Free DOX</text>
<line x1="1563.3" y1="1867.9" x2="1592.3" y2="1867.9" stroke="#aa22ee" stroke-width="3"/>
<circle cx="1578.0" cy="1867.9" r="5.5" fill="#aa22ee"/>
<text x="1602.52" y="1876.70" font-size="18.20" fill="#000" font-weight="bold" textLength="114.62" lengthAdjust="spacing">DMSN@Lipo</text>
<line x1="1563.3" y1="1898.0" x2="1592.3" y2="1898.0" stroke="#ff0000" stroke-width="3"/>
<rect x="1572.5" y="1892.5" width="11.0" height="11.0" fill="#ff0000"/>
<text x="1602.52" y="1906.80" font-size="18.20" fill="#000" font-weight="bold" textLength="150.80" lengthAdjust="spacing">DMSN@Pla-Lipo</text>
<text x="12.78" y="2037.20" font-size="47.25" fill="#2b2421" font-weight="bold" textLength="33.55" lengthAdjust="spacingAndGlyphs">D</text>
<rect x="83.6" y="2082.3" width="55.1" height="47.7" fill="#a2cf7f"/>
<rect x="138.7" y="2082.3" width="55.1" height="47.7" fill="#a2cf7f"/>
<rect x="193.8" y="2082.3" width="55.1" height="47.7" fill="#a2cf7f"/>
<rect x="249.0" y="2082.3" width="55.1" height="47.7" fill="#a2cf7f"/>
<rect x="304.1" y="2082.3" width="55.1" height="47.7" fill="#a2cf7f"/>
<rect x="359.2" y="2082.3" width="55.1" height="47.7" fill="#a2cf7f"/>
<rect x="414.3" y="2082.3" width="55.1" height="47.7" fill="#a2cf7f"/>
<rect x="469.4" y="2082.3" width="55.1" height="47.7" fill="#a2cf7f"/>
<rect x="524.6" y="2082.3" width="55.1" height="47.7" fill="#a2cf7f"/>
<rect x="579.7" y="2082.3" width="55.1" height="47.7" fill="#a2cf7f"/>
<rect x="634.8" y="2082.3" width="55.1" height="47.7" fill="#a2cf7f"/>
<rect x="689.9" y="2082.3" width="55.1" height="47.7" fill="#a2cf7f"/>
<rect x="745.0" y="2082.3" width="55.1" height="47.7" fill="#a2cf7f"/>
<rect x="800.2" y="2082.3" width="55.1" height="47.7" fill="#a2cf7f"/>
<rect x="855.3" y="2082.3" width="55.1" height="47.7" fill="#a2cf7f"/>
<rect x="910.4" y="2082.3" width="55.1" height="47.7" fill="#a2cf7f"/>
<rect x="965.5" y="2082.3" width="55.1" height="47.7" fill="#a2cf7f"/>
<rect x="1020.6" y="2082.3" width="55.1" height="47.7" fill="#a2cf7f"/>
<rect x="1075.8" y="2082.3" width="55.1" height="47.7" fill="#a2cf7f"/>
<rect x="1130.9" y="2082.3" width="55.1" height="47.7" fill="#a2cf7f"/>
<rect x="1186.0" y="2082.3" width="55.1" height="47.7" fill="#a2cf7f"/>
<rect x="1241.1" y="2082.3" width="55.1" height="47.7" fill="#a2cf7f"/>
<rect x="1296.2" y="2082.3" width="55.1" height="47.7" fill="#a2cf7f"/>
<rect x="1351.4" y="2082.3" width="55.1" height="47.7" fill="#a2cf7f"/>
<rect x="1406.5" y="2082.3" width="55.1" height="47.7" fill="#a2cf7f"/>
<rect x="1461.6" y="2082.3" width="55.1" height="47.7" fill="#a2cf7f"/>
<rect x="1516.7" y="2082.3" width="55.1" height="47.7" fill="#a2cf7f"/>
<rect x="1571.8" y="2082.3" width="55.1" height="47.7" fill="#a2cf7f"/>
<rect x="1627.0" y="2082.3" width="55.1" height="47.7" fill="#a2cf7f"/>
<rect x="1682.1" y="2082.3" width="55.1" height="47.7" fill="#a2cf7f"/>
<rect x="83.6" y="2130.0" width="55.1" height="48.0" fill="#fee682"/>
<rect x="138.7" y="2130.0" width="55.1" height="48.0" fill="#fee682"/>
<rect x="193.8" y="2130.0" width="55.1" height="48.0" fill="#fee682"/>
<rect x="249.0" y="2130.0" width="55.1" height="48.0" fill="#fee682"/>
<rect x="304.1" y="2130.0" width="55.1" height="48.0" fill="#fee682"/>
<rect x="359.2" y="2130.0" width="55.1" height="48.0" fill="#fbb878"/>
<rect x="414.3" y="2130.0" width="55.1" height="48.0" fill="#fde07f"/>
<rect x="469.4" y="2130.0" width="55.1" height="48.0" fill="#fccd7c"/>
<rect x="524.6" y="2130.0" width="55.1" height="48.0" fill="#fdca7b"/>
<rect x="579.7" y="2130.0" width="55.1" height="48.0" fill="#fbbf79"/>
<rect x="634.8" y="2130.0" width="55.1" height="48.0" fill="#fcd07d"/>
<rect x="689.9" y="2130.0" width="55.1" height="48.0" fill="#fddd80"/>
<rect x="745.0" y="2130.0" width="55.1" height="48.0" fill="#fdd47e"/>
<rect x="800.2" y="2130.0" width="55.1" height="48.0" fill="#fee381"/>
<rect x="855.3" y="2130.0" width="55.1" height="48.0" fill="#fddc80"/>
<rect x="910.4" y="2130.0" width="55.1" height="48.0" fill="#bfd880"/>
<rect x="965.5" y="2130.0" width="55.1" height="48.0" fill="#b1d47f"/>
<rect x="1020.6" y="2130.0" width="55.1" height="48.0" fill="#cfdb83"/>
<rect x="1075.8" y="2130.0" width="55.1" height="48.0" fill="#b3d57f"/>
<rect x="1130.9" y="2130.0" width="55.1" height="48.0" fill="#fee581"/>
<rect x="1186.0" y="2130.0" width="55.1" height="48.0" fill="#a3d07e"/>
<rect x="1241.1" y="2130.0" width="55.1" height="48.0" fill="#b1d47f"/>
<rect x="1296.2" y="2130.0" width="55.1" height="48.0" fill="#8cc77a"/>
<rect x="1351.4" y="2130.0" width="55.1" height="48.0" fill="#9dcd7d"/>
<rect x="1406.5" y="2130.0" width="55.1" height="48.0" fill="#aad27f"/>
<rect x="1461.6" y="2130.0" width="55.1" height="48.0" fill="#82c47b"/>
<rect x="1516.7" y="2130.0" width="55.1" height="48.0" fill="#7bc47b"/>
<rect x="1571.8" y="2130.0" width="55.1" height="48.0" fill="#84c67b"/>
<rect x="1627.0" y="2130.0" width="55.1" height="48.0" fill="#6ebf79"/>
<rect x="1682.1" y="2130.0" width="55.1" height="48.0" fill="#77c27a"/>
<rect x="83.6" y="2178.0" width="55.1" height="47.3" fill="#fed980"/>
<rect x="138.7" y="2178.0" width="55.1" height="47.3" fill="#fedc80"/>
<rect x="193.8" y="2178.0" width="55.1" height="47.3" fill="#fdd880"/>
<rect x="249.0" y="2178.0" width="55.1" height="47.3" fill="#fee081"/>
<rect x="304.1" y="2178.0" width="55.1" height="47.3" fill="#fcd37e"/>
<rect x="359.2" y="2178.0" width="55.1" height="47.3" fill="#f5696b"/>
<rect x="414.3" y="2178.0" width="55.1" height="47.3" fill="#fcd27d"/>
<rect x="469.4" y="2178.0" width="55.1" height="47.3" fill="#fcc77b"/>
<rect x="524.6" y="2178.0" width="55.1" height="47.3" fill="#fcc57a"/>
<rect x="579.7" y="2178.0" width="55.1" height="47.3" fill="#f9ab75"/>
<rect x="634.8" y="2178.0" width="55.1" height="47.3" fill="#f98e71"/>
<rect x="689.9" y="2178.0" width="55.1" height="47.3" fill="#fddc80"/>
<rect x="745.0" y="2178.0" width="55.1" height="47.3" fill="#fcc57a"/>
<rect x="800.2" y="2178.0" width="55.1" height="47.3" fill="#fdd67f"/>
<rect x="855.3" y="2178.0" width="55.1" height="47.3" fill="#fdd67f"/>
<rect x="910.4" y="2178.0" width="55.1" height="47.3" fill="#fdd47e"/>
<rect x="965.5" y="2178.0" width="55.1" height="47.3" fill="#fddd80"/>
<rect x="1020.6" y="2178.0" width="55.1" height="47.3" fill="#fdd67f"/>
<rect x="1075.8" y="2178.0" width="55.1" height="47.3" fill="#fee882"/>
<rect x="1130.9" y="2178.0" width="55.1" height="47.3" fill="#fddf80"/>
<rect x="1186.0" y="2178.0" width="55.1" height="47.3" fill="#d9dc83"/>
<rect x="1241.1" y="2178.0" width="55.1" height="47.3" fill="#e0e084"/>
<rect x="1296.2" y="2178.0" width="55.1" height="47.3" fill="#fee682"/>
<rect x="1351.4" y="2178.0" width="55.1" height="47.3" fill="#fee682"/>
<rect x="1406.5" y="2178.0" width="55.1" height="47.3" fill="#fee381"/>
<rect x="1461.6" y="2178.0" width="55.1" height="47.3" fill="#63bc78"/>
<rect x="1516.7" y="2178.0" width="55.1" height="47.3" fill="#63bc78"/>
<rect x="1571.8" y="2178.0" width="55.1" height="47.3" fill="#7cc47b"/>
<rect x="1627.0" y="2178.0" width="55.1" height="47.3" fill="#68bd78"/>
<rect x="1682.1" y="2178.0" width="55.1" height="47.3" fill="#67bd78"/>
<rect x="138.7" y="2225.3" width="55.1" height="47.5" fill="#fcc87b"/>
<rect x="193.8" y="2225.3" width="55.1" height="47.5" fill="#fbbd78"/>
<rect x="249.0" y="2225.3" width="55.1" height="47.5" fill="#fdd47e"/>
<rect x="304.1" y="2225.3" width="55.1" height="47.5" fill="#f89d73"/>
<rect x="414.3" y="2225.3" width="55.1" height="47.5" fill="#f9a674"/>
<rect x="469.4" y="2225.3" width="55.1" height="47.5" fill="#f9a674"/>
<rect x="524.6" y="2225.3" width="55.1" height="47.5" fill="#f8a273"/>
<rect x="689.9" y="2225.3" width="55.1" height="47.5" fill="#fbbc78"/>
<rect x="745.0" y="2225.3" width="55.1" height="47.5" fill="#f99673"/>
<rect x="800.2" y="2225.3" width="55.1" height="47.5" fill="#fcc87b"/>
<rect x="855.3" y="2225.3" width="55.1" height="47.5" fill="#fbbc78"/>
<rect x="910.4" y="2225.3" width="55.1" height="47.5" fill="#fbc179"/>
<rect x="965.5" y="2225.3" width="55.1" height="47.5" fill="#fcd57e"/>
<rect x="1020.6" y="2225.3" width="55.1" height="47.5" fill="#fdd67f"/>
<rect x="1075.8" y="2225.3" width="55.1" height="47.5" fill="#fee080"/>
<rect x="1130.9" y="2225.3" width="55.1" height="47.5" fill="#fcd47e"/>
<rect x="1186.0" y="2225.3" width="55.1" height="47.5" fill="#fee682"/>
<rect x="1241.1" y="2225.3" width="55.1" height="47.5" fill="#fee682"/>
<rect x="1296.2" y="2225.3" width="55.1" height="47.5" fill="#fee581"/>
<rect x="1351.4" y="2225.3" width="55.1" height="47.5" fill="#fee682"/>
<rect x="1406.5" y="2225.3" width="55.1" height="47.5" fill="#fdde80"/>
<rect x="1461.6" y="2225.3" width="55.1" height="47.5" fill="#6dbf79"/>
<rect x="1516.7" y="2225.3" width="55.1" height="47.5" fill="#69be79"/>
<rect x="1571.8" y="2225.3" width="55.1" height="47.5" fill="#6ebf79"/>
<rect x="1627.0" y="2225.3" width="55.1" height="47.5" fill="#69be79"/>
<rect x="1682.1" y="2225.3" width="55.1" height="47.5" fill="#6bbe79"/>
<rect x="138.7" y="2272.8" width="55.1" height="47.5" fill="#fbbd78"/>
<rect x="249.0" y="2272.8" width="55.1" height="47.5" fill="#fcca7b"/>
<rect x="469.4" y="2272.8" width="55.1" height="47.5" fill="#f6826f"/>
<rect x="745.0" y="2272.8" width="55.1" height="47.5" fill="#f89672"/>
<rect x="855.3" y="2272.8" width="55.1" height="47.5" fill="#fab077"/>
<rect x="1020.6" y="2272.8" width="55.1" height="47.5" fill="#fbc179"/>
<rect x="1075.8" y="2272.8" width="55.1" height="47.5" fill="#fddc80"/>
<rect x="1130.9" y="2272.8" width="55.1" height="47.5" fill="#fbc179"/>
<rect x="1186.0" y="2272.8" width="55.1" height="47.5" fill="#fbbd78"/>
<rect x="1241.1" y="2272.8" width="55.1" height="47.5" fill="#fcd07d"/>
<rect x="1296.2" y="2272.8" width="55.1" height="47.5" fill="#fccd7c"/>
<rect x="1351.4" y="2272.8" width="55.1" height="47.5" fill="#fee381"/>
<rect x="1406.5" y="2272.8" width="55.1" height="47.5" fill="#fbbc78"/>
<rect x="1461.6" y="2272.8" width="55.1" height="47.5" fill="#78c27a"/>
<rect x="1516.7" y="2272.8" width="55.1" height="47.5" fill="#6abe79"/>
<rect x="1571.8" y="2272.8" width="55.1" height="47.5" fill="#6ebf79"/>
<rect x="1627.0" y="2272.8" width="55.1" height="47.5" fill="#6abe78"/>
<rect x="1682.1" y="2272.8" width="55.1" height="47.5" fill="#6ebf79"/>
<rect x="1075.8" y="2320.3" width="55.1" height="48.1" fill="#fbbf79"/>
<rect x="1241.1" y="2320.3" width="55.1" height="48.1" fill="#fcc87b"/>
<rect x="1351.4" y="2320.3" width="55.1" height="48.1" fill="#fbbb78"/>
<rect x="1406.5" y="2320.3" width="55.1" height="48.1" fill="#f8716b"/>
<rect x="1461.6" y="2320.3" width="55.1" height="48.1" fill="#7bc47b"/>
<rect x="1516.7" y="2320.3" width="55.1" height="48.1" fill="#6bbe79"/>
<rect x="1571.8" y="2320.3" width="55.1" height="48.1" fill="#70bf79"/>
<rect x="1627.0" y="2320.3" width="55.1" height="48.1" fill="#72c17a"/>
<rect x="1682.1" y="2320.3" width="55.1" height="48.1" fill="#70bf79"/>
<rect x="1241.1" y="2368.4" width="55.1" height="47.6" fill="#f9af76"/>
<rect x="1461.6" y="2368.4" width="55.1" height="47.6" fill="#83c67b"/>
<rect x="1516.7" y="2368.4" width="55.1" height="47.6" fill="#6abe79"/>
<rect x="1571.8" y="2368.4" width="55.1" height="47.6" fill="#78c27a"/>
<rect x="1627.0" y="2368.4" width="55.1" height="47.6" fill="#70c17a"/>
<rect x="1682.1" y="2368.4" width="55.1" height="47.6" fill="#78c27a"/>
<rect x="1461.6" y="2416.0" width="55.1" height="47.6" fill="#8ac97c"/>
<rect x="1516.7" y="2416.0" width="55.1" height="47.6" fill="#86c77c"/>
<rect x="1571.8" y="2416.0" width="55.1" height="47.6" fill="#88c87c"/>
<rect x="1627.0" y="2416.0" width="55.1" height="47.6" fill="#7cc47b"/>
<rect x="1682.1" y="2416.0" width="55.1" height="47.6" fill="#78c27a"/>
<line x1="83.6" y1="2059.4" x2="83.6" y2="2494" stroke="#c4c4c4" stroke-width="1"/>
<line x1="138.7" y1="2082.3" x2="138.7" y2="2494" stroke="#c4c4c4" stroke-width="1"/>
<line x1="193.8" y1="2082.3" x2="193.8" y2="2494" stroke="#c4c4c4" stroke-width="1"/>
<line x1="249.0" y1="2082.3" x2="249.0" y2="2494" stroke="#c4c4c4" stroke-width="1"/>
<line x1="304.1" y1="2082.3" x2="304.1" y2="2494" stroke="#c4c4c4" stroke-width="1"/>
<line x1="359.2" y1="2059.4" x2="359.2" y2="2494" stroke="#c4c4c4" stroke-width="1"/>
<line x1="414.3" y1="2082.3" x2="414.3" y2="2494" stroke="#c4c4c4" stroke-width="1"/>
<line x1="469.4" y1="2082.3" x2="469.4" y2="2494" stroke="#c4c4c4" stroke-width="1"/>
<line x1="524.6" y1="2082.3" x2="524.6" y2="2494" stroke="#c4c4c4" stroke-width="1"/>
<line x1="579.7" y1="2082.3" x2="579.7" y2="2494" stroke="#c4c4c4" stroke-width="1"/>
<line x1="634.8" y1="2059.4" x2="634.8" y2="2494" stroke="#c4c4c4" stroke-width="1"/>
<line x1="689.9" y1="2082.3" x2="689.9" y2="2494" stroke="#c4c4c4" stroke-width="1"/>
<line x1="745.0" y1="2082.3" x2="745.0" y2="2494" stroke="#c4c4c4" stroke-width="1"/>
<line x1="800.2" y1="2082.3" x2="800.2" y2="2494" stroke="#c4c4c4" stroke-width="1"/>
<line x1="855.3" y1="2082.3" x2="855.3" y2="2494" stroke="#c4c4c4" stroke-width="1"/>
<line x1="910.4" y1="2059.4" x2="910.4" y2="2494" stroke="#c4c4c4" stroke-width="1"/>
<line x1="965.5" y1="2082.3" x2="965.5" y2="2494" stroke="#c4c4c4" stroke-width="1"/>
<line x1="1020.6" y1="2082.3" x2="1020.6" y2="2494" stroke="#c4c4c4" stroke-width="1"/>
<line x1="1075.8" y1="2082.3" x2="1075.8" y2="2494" stroke="#c4c4c4" stroke-width="1"/>
<line x1="1130.9" y1="2082.3" x2="1130.9" y2="2494" stroke="#c4c4c4" stroke-width="1"/>
<line x1="1186.0" y1="2059.4" x2="1186.0" y2="2494" stroke="#c4c4c4" stroke-width="1"/>
<line x1="1241.1" y1="2082.3" x2="1241.1" y2="2494" stroke="#c4c4c4" stroke-width="1"/>
<line x1="1296.2" y1="2082.3" x2="1296.2" y2="2494" stroke="#c4c4c4" stroke-width="1"/>
<line x1="1351.4" y1="2082.3" x2="1351.4" y2="2494" stroke="#c4c4c4" stroke-width="1"/>
<line x1="1406.5" y1="2082.3" x2="1406.5" y2="2494" stroke="#c4c4c4" stroke-width="1"/>
<line x1="1461.6" y1="2059.4" x2="1461.6" y2="2494" stroke="#c4c4c4" stroke-width="1"/>
<line x1="1516.7" y1="2082.3" x2="1516.7" y2="2494" stroke="#c4c4c4" stroke-width="1"/>
<line x1="1571.8" y1="2082.3" x2="1571.8" y2="2494" stroke="#c4c4c4" stroke-width="1"/>
<line x1="1627.0" y1="2082.3" x2="1627.0" y2="2494" stroke="#c4c4c4" stroke-width="1"/>
<line x1="1682.1" y1="2082.3" x2="1682.1" y2="2494" stroke="#c4c4c4" stroke-width="1"/>
<line x1="1737.2" y1="2059.4" x2="1737.2" y2="2494" stroke="#c4c4c4" stroke-width="1"/>
<line x1="70.6" y1="2082.3" x2="1745.6" y2="2082.3" stroke="#bdbdbd" stroke-width="2.2"/>
<line x1="70.6" y1="2130.0" x2="1745.6" y2="2130.0" stroke="#bdbdbd" stroke-width="2.2"/>
<line x1="70.6" y1="2178.0" x2="1745.6" y2="2178.0" stroke="#bdbdbd" stroke-width="2.2"/>
<line x1="70.6" y1="2225.3" x2="1745.6" y2="2225.3" stroke="#bdbdbd" stroke-width="2.2"/>
<line x1="70.6" y1="2272.8" x2="1745.6" y2="2272.8" stroke="#bdbdbd" stroke-width="2.2"/>
<line x1="70.6" y1="2320.3" x2="1745.6" y2="2320.3" stroke="#bdbdbd" stroke-width="2.2"/>
<line x1="70.6" y1="2368.4" x2="1745.6" y2="2368.4" stroke="#bdbdbd" stroke-width="2.2"/>
<line x1="70.6" y1="2416.0" x2="1745.6" y2="2416.0" stroke="#bdbdbd" stroke-width="2.2"/>
<line x1="70.6" y1="2463.6" x2="1745.6" y2="2463.6" stroke="#bdbdbd" stroke-width="2.2"/>
<text x="182.39" y="2072.10" font-size="24.50" fill="#000" font-weight="bold" textLength="79.97" lengthAdjust="spacing">Saline</text>
<text x="427.41" y="2072.10" font-size="24.50" fill="#000" font-weight="bold" textLength="142.62" lengthAdjust="spacing">MSN@Lipo</text>
<text x="678.01" y="2072.10" font-size="24.50" fill="#000" font-weight="bold" textLength="194.19" lengthAdjust="spacing">MSN@Pla-Lipo</text>
<text x="983.71" y="2072.10" font-size="24.50" fill="#000" font-weight="bold" textLength="120.67" lengthAdjust="spacing">Free DOX</text>
<text x="1248.61" y="2072.10" font-size="24.50" fill="#000" font-weight="bold" textLength="162.15" lengthAdjust="spacing">DMSN@Lipo</text>
<text x="1496.21" y="2072.10" font-size="24.50" fill="#000" font-weight="bold" textLength="212.63" lengthAdjust="spacing">DMSN@Pla-Lipo</text>
<text x="34.11" y="2075.20" font-size="24.50" fill="#000" font-weight="bold" textLength="47.98" lengthAdjust="spacing">Day</text>
<text x="53.33" y="2116.95" font-size="23.36" fill="#2b2523" font-weight="bold" textLength="13.76" lengthAdjust="spacingAndGlyphs">0</text>
<text x="53.19" y="2164.80" font-size="23.70" fill="#2b2523" font-weight="bold" textLength="14.05" lengthAdjust="spacingAndGlyphs">7</text>
<text x="44.83" y="2212.45" font-size="23.70" fill="#2b2523" font-weight="bold" textLength="29.38" lengthAdjust="spacing">14</text>
<text x="45.55" y="2259.85" font-size="23.36" fill="#2b2523" font-weight="bold" textLength="29.24" lengthAdjust="spacing">21</text>
<text x="45.55" y="2307.35" font-size="23.36" fill="#2b2523" font-weight="bold" textLength="29.24" lengthAdjust="spacing">28</text>
<text x="45.78" y="2355.15" font-size="23.36" fill="#2b2523" font-weight="bold" textLength="29.01" lengthAdjust="spacing">35</text>
<text x="45.90" y="2403.00" font-size="23.36" fill="#2b2523" font-weight="bold" textLength="29.12" lengthAdjust="spacing">42</text>
<text x="45.90" y="2450.60" font-size="23.36" fill="#2b2523" font-weight="bold" textLength="29.12" lengthAdjust="spacing">49</text>
<linearGradient id="fold" x1="0" y1="0" x2="1" y2="0"><stop offset="0" stop-color="#5ab46e"/><stop offset="0.25" stop-color="#b9d77f"/><stop offset="0.5" stop-color="#fbe783"/><stop offset="0.72" stop-color="#fcc27a"/><stop offset="1" stop-color="#f4636a"/></linearGradient>
<rect x="324.8" y="2341.7" width="258.2" height="33.5" fill="url(#fold)"/>
<text x="318.00" y="2403.60" font-size="23.00" fill="#2b2523" font-weight="bold" textLength="35.78" lengthAdjust="spacing">0.1</text>
<text x="543.82" y="2403.60" font-size="23.00" fill="#2b2523" font-weight="bold" textLength="45.07" lengthAdjust="spacing">100</text>
<text x="209.16" y="2430.30" font-size="25.24" fill="#2b2523" font-weight="bold" textLength="478.34" lengthAdjust="spacing">Fold changes of the bioluminescence</text>
<text x="342.37" y="2454.40" font-size="23.60" fill="#2b2523" font-weight="bold" textLength="211.25" lengthAdjust="spacing">intensity in mice</text>
</svg>
</body></html>
